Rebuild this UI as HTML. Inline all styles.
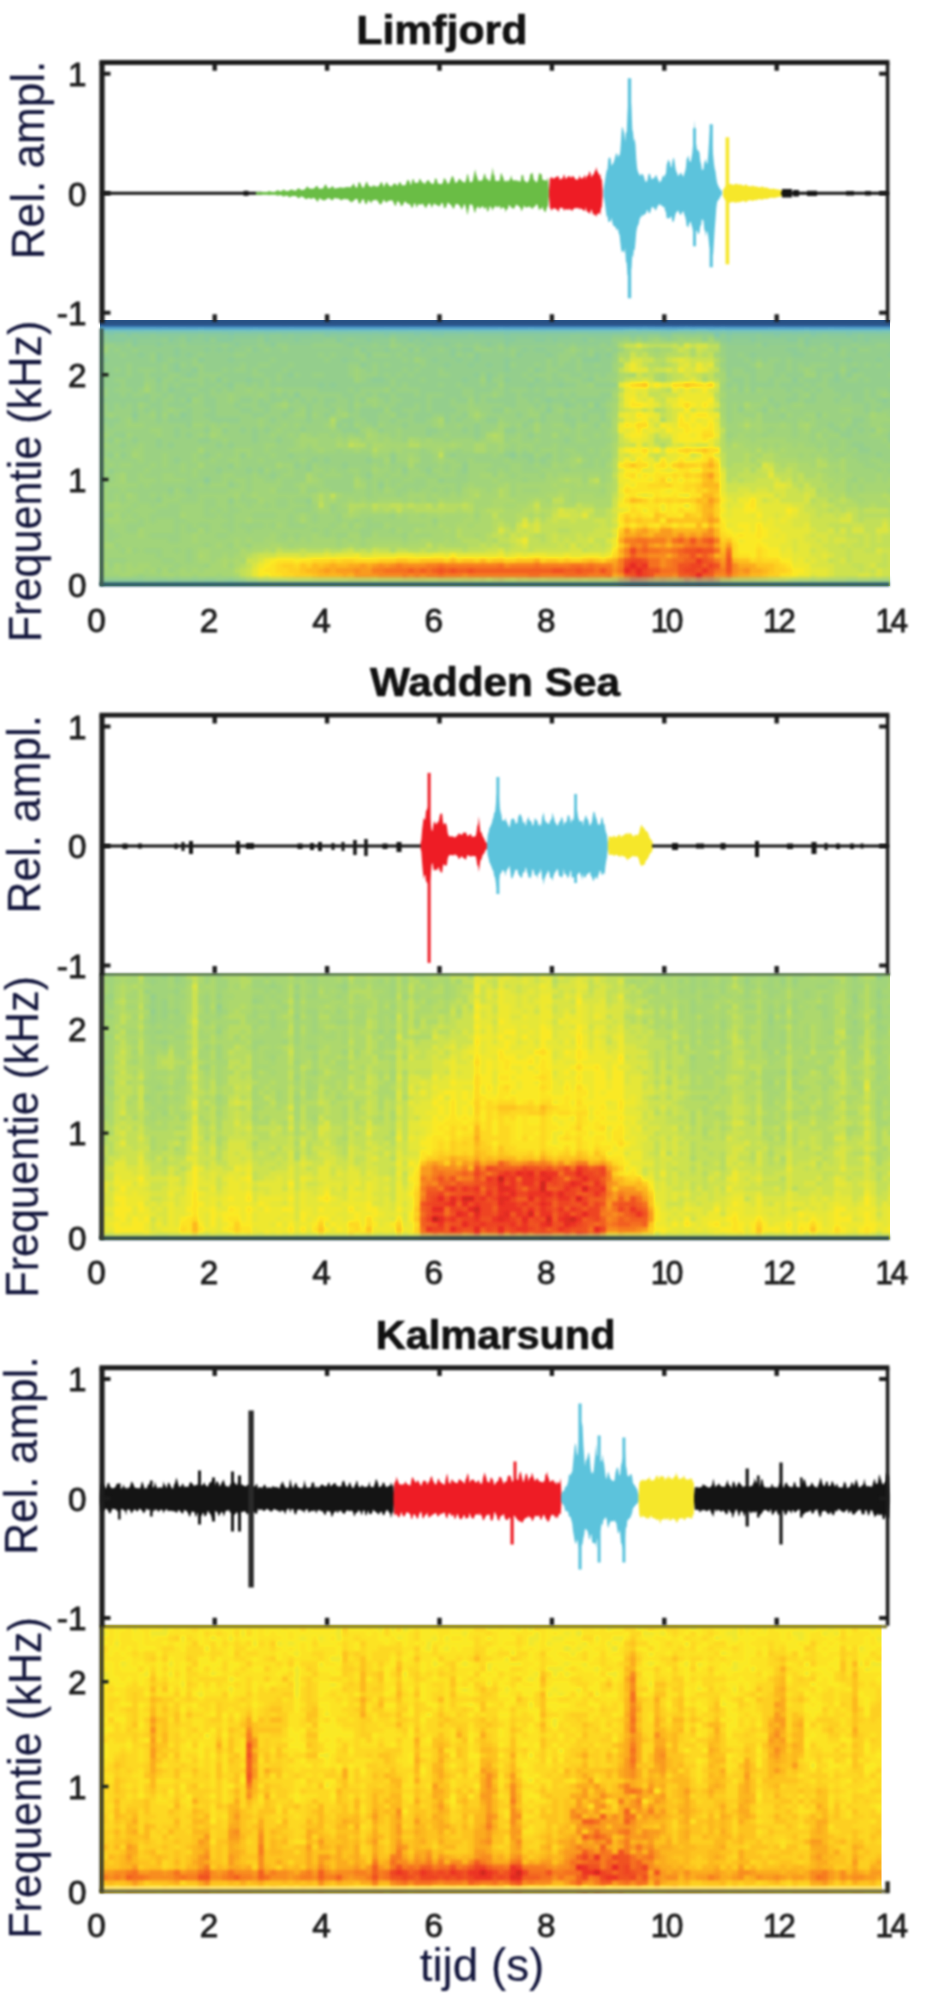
<!DOCTYPE html>
<html lang="nl"><head><meta charset="utf-8"><title>Limfjord, Wadden Sea, Kalmarsund</title>
<style>html,body{margin:0;padding:0;background:#fff}svg{display:block}text{font-family:'Liberation Sans',Arial,sans-serif}</style></head><body>
<svg width="930" height="2002" viewBox="0 0 930 2002">
<defs>
<filter id="soft" x="0" y="-10" width="930" height="720" filterUnits="userSpaceOnUse" color-interpolation-filters="sRGB"><feGaussianBlur stdDeviation="1.3"/></filter>
<filter id="softw" x="90" y="50" width="810" height="290" filterUnits="userSpaceOnUse" color-interpolation-filters="sRGB"><feGaussianBlur stdDeviation="1.25"/></filter>
<filter id="cm" x="90" y="312" width="810" height="280" filterUnits="userSpaceOnUse" color-interpolation-filters="sRGB"><feGaussianBlur stdDeviation="1.7 1.5"/><feComponentTransfer><feFuncR type="table" tableValues="0.141 0.155 0.169 0.182 0.196 0.229 0.263 0.296 0.329 0.371 0.413 0.454 0.494 0.533 0.569 0.598 0.627 0.655 0.682 0.733 0.784 0.839 0.894 0.941 0.988 0.992 0.996 0.994 0.992 0.985 0.978 0.972 0.965 0.954 0.943 0.932 0.922 0.853 0.784 0.716 0.647"/><feFuncG type="table" tableValues="0.275 0.306 0.337 0.369 0.4 0.457 0.514 0.571 0.627 0.672 0.716 0.76 0.779 0.792 0.805 0.818 0.831 0.841 0.851 0.867 0.882 0.894 0.906 0.912 0.918 0.875 0.831 0.78 0.729 0.663 0.596 0.529 0.463 0.394 0.325 0.257 0.188 0.167 0.145 0.124 0.102"/><feFuncB type="table" tableValues="0.471 0.508 0.545 0.582 0.62 0.661 0.702 0.743 0.784 0.772 0.76 0.748 0.693 0.627 0.571 0.529 0.486 0.455 0.424 0.376 0.329 0.278 0.227 0.184 0.141 0.137 0.133 0.125 0.118 0.12 0.122 0.124 0.125 0.129 0.133 0.137 0.141 0.127 0.114 0.1 0.086"/><feFuncA type="linear" slope="0" intercept="1"/></feComponentTransfer><feGaussianBlur stdDeviation="0.7"/></filter><clipPath id="cpA"><rect x="100" y="319.6" width="790" height="266"/></clipPath><clipPath id="cpB"><rect x="100" y="320.5" width="790" height="266"/></clipPath><clipPath id="cpC"><rect x="100" y="319.8" width="781.5" height="268"/></clipPath>
</defs>
<rect width="930" height="2002" fill="#fff"/>
<g transform="translate(0 0.3)">
<g clip-path="url(#cpA)"><g transform="translate(0 323) scale(1 1.0038) translate(0 -323)"><g filter="url(#cm)" fill="none" stroke-width="5.6"><rect x="90" y="312" width="810" height="280" fill="#626262"/><path stroke="#515151" d="M618 314.5h12M672 314.5h6M708 314.5h6M504 324.5h6M714 334.5h6"/><path stroke="#575757" d="M90 314.5h6M144 314.5h12M180 314.5h12M222 314.5h12M246 314.5h6M282 314.5h6M306 314.5h6M318 314.5h6M336 314.5h6M366 314.5h6M396 314.5h12M420 314.5h6M432 314.5h6M462 314.5h6M474 314.5h6M504 314.5h12M534 314.5h6M546 314.5h6M558 314.5h12M582 314.5h24M630 314.5h6M654 314.5h6M666 314.5h6M702 314.5h6M714 314.5h6M750 314.5h6M762 314.5h6M774 314.5h6M786 314.5h24M834 314.5h6M864 314.5h6M90 319.5h6M108 319.5h6M120 319.5h6M156 319.5h6M186 319.5h6M216 319.5h6M252 319.5h6M312 319.5h6M342 319.5h6M372 319.5h6M402 319.5h6M420 319.5h6M432 319.5h6M444 319.5h6M492 319.5h6M528 319.5h6M582 319.5h6M606 319.5h6M786 319.5h12M816 319.5h6M888 319.5h6M216 324.5h12M282 324.5h6M324 324.5h12M402 324.5h6M432 324.5h6M462 324.5h12M486 324.5h6M540 324.5h12M570 324.5h6M582 324.5h6M714 324.5h6M750 324.5h6M786 324.5h12M810 324.5h6M846 324.5h6M864 324.5h6M882 324.5h6M894 324.5h6M90 329.5h6M120 329.5h6M132 329.5h12M156 329.5h6M222 329.5h6M246 329.5h6M264 329.5h12M336 329.5h12M360 329.5h12M378 329.5h6M396 329.5h12M426 329.5h12M456 329.5h6M474 329.5h6M504 329.5h6M540 329.5h6M570 329.5h6M666 329.5h12M708 329.5h6M726 329.5h6M792 329.5h6M810 329.5h6M876 329.5h6M108 334.5h6M126 334.5h6M228 334.5h6M324 334.5h6M384 334.5h6M414 334.5h6M432 334.5h12M504 334.5h6M726 334.5h6M774 334.5h6M810 334.5h6M846 334.5h6M90 339.5h6M108 339.5h18M132 339.5h6M168 339.5h6M186 339.5h6M204 339.5h6M216 339.5h18M264 339.5h6M294 339.5h6M336 339.5h6M366 339.5h6M408 339.5h6M420 339.5h6M504 339.5h12M534 339.5h12M552 339.5h6M582 339.5h6M726 339.5h6M750 339.5h6M786 339.5h12M804 339.5h6M852 339.5h6M864 339.5h6M132 344.5h6M156 344.5h6M234 344.5h6M270 344.5h6M348 344.5h6M426 344.5h6M444 344.5h6M486 344.5h6M504 344.5h6M762 344.5h6M804 344.5h6M834 344.5h6M90 349.5h6M174 349.5h6M204 349.5h6M216 349.5h6M228 349.5h6M252 349.5h6M360 349.5h6M384 349.5h6M408 349.5h6M420 349.5h6M450 349.5h6M462 349.5h12M522 349.5h6M534 349.5h12M786 349.5h12M834 349.5h6M852 349.5h6M894 349.5h6M138 354.5h6M156 354.5h6M174 354.5h6M186 354.5h6M366 354.5h6M450 354.5h6M474 354.5h6M516 354.5h6M546 354.5h6M594 354.5h6M606 354.5h6M750 354.5h6M792 354.5h12M888 354.5h6M102 359.5h6M156 359.5h6M198 359.5h6M228 359.5h6M342 359.5h6M432 359.5h6M456 359.5h6M474 359.5h6M504 359.5h6M582 359.5h18M846 359.5h6M876 359.5h6M90 364.5h6M174 364.5h6M360 364.5h6M444 364.5h6M468 364.5h6M486 364.5h6M504 364.5h6M174 369.5h6M192 369.5h6M504 369.5h6M534 369.5h6M852 369.5h6M186 374.5h6M288 374.5h6M474 374.5h6M486 374.5h6M834 374.5h6M846 374.5h6M156 379.5h6M216 379.5h6M246 379.5h6M372 379.5h12M462 379.5h6M486 379.5h6M504 379.5h6M534 379.5h6M588 379.5h6M792 379.5h6M834 379.5h6M228 384.5h6M318 384.5h6M330 384.5h6M528 384.5h6M558 384.5h6M168 389.5h6M294 394.5h6M186 399.5h6M546 399.5h6M882 399.5h6M564 404.5h6M594 404.5h6M546 409.5h6M132 414.5h6M180 414.5h6M510 454.5h6M204 479.5h6"/><path stroke="#5c5c5c" d="M108 314.5h36M156 314.5h24M192 314.5h18M216 314.5h6M234 314.5h12M258 314.5h6M270 314.5h12M294 314.5h6M312 314.5h6M324 314.5h12M342 314.5h24M372 314.5h24M408 314.5h12M426 314.5h6M438 314.5h24M468 314.5h6M480 314.5h18M516 314.5h18M540 314.5h6M552 314.5h6M570 314.5h6M606 314.5h12M636 314.5h18M660 314.5h6M678 314.5h6M720 314.5h30M768 314.5h6M780 314.5h6M810 314.5h24M840 314.5h24M870 314.5h18M894 314.5h6M96 319.5h12M114 319.5h6M126 319.5h30M162 319.5h24M192 319.5h24M222 319.5h30M258 319.5h54M318 319.5h24M348 319.5h24M378 319.5h6M390 319.5h12M408 319.5h12M426 319.5h6M438 319.5h6M456 319.5h12M474 319.5h18M498 319.5h30M534 319.5h18M558 319.5h24M588 319.5h18M612 319.5h18M654 319.5h6M726 319.5h12M750 319.5h18M774 319.5h6M798 319.5h18M822 319.5h48M876 319.5h12M894 319.5h6M90 324.5h60M168 324.5h12M186 324.5h30M228 324.5h54M294 324.5h30M336 324.5h6M348 324.5h36M390 324.5h12M420 324.5h12M438 324.5h24M474 324.5h12M492 324.5h12M510 324.5h18M534 324.5h6M552 324.5h18M576 324.5h6M588 324.5h30M624 324.5h6M672 324.5h6M726 324.5h24M756 324.5h24M798 324.5h6M816 324.5h24M852 324.5h12M870 324.5h12M888 324.5h6M96 329.5h24M126 329.5h6M144 329.5h12M162 329.5h36M204 329.5h18M228 329.5h18M258 329.5h6M276 329.5h54M348 329.5h12M372 329.5h6M384 329.5h12M408 329.5h18M438 329.5h18M462 329.5h12M480 329.5h18M510 329.5h18M534 329.5h6M546 329.5h24M576 329.5h48M654 329.5h6M732 329.5h36M780 329.5h12M798 329.5h6M816 329.5h12M834 329.5h42M882 329.5h18M90 334.5h6M102 334.5h6M114 334.5h6M138 334.5h12M156 334.5h24M186 334.5h12M204 334.5h24M234 334.5h24M264 334.5h6M282 334.5h6M294 334.5h18M330 334.5h54M396 334.5h18M420 334.5h12M444 334.5h24M474 334.5h30M510 334.5h60M588 334.5h24M630 334.5h6M660 334.5h12M732 334.5h24M762 334.5h12M780 334.5h24M816 334.5h6M828 334.5h18M852 334.5h6M864 334.5h36M96 339.5h12M126 339.5h6M138 339.5h24M174 339.5h6M192 339.5h12M234 339.5h24M270 339.5h24M300 339.5h24M342 339.5h6M354 339.5h12M372 339.5h18M396 339.5h12M414 339.5h6M426 339.5h78M516 339.5h18M546 339.5h6M558 339.5h24M594 339.5h18M720 339.5h6M732 339.5h18M756 339.5h30M810 339.5h42M858 339.5h6M870 339.5h30M90 344.5h6M114 344.5h12M138 344.5h18M162 344.5h18M186 344.5h36M228 344.5h6M240 344.5h18M264 344.5h6M288 344.5h24M342 344.5h6M354 344.5h18M378 344.5h12M402 344.5h6M414 344.5h12M432 344.5h12M450 344.5h6M462 344.5h12M480 344.5h6M492 344.5h6M510 344.5h48M564 344.5h6M576 344.5h24M606 344.5h6M726 344.5h30M768 344.5h30M810 344.5h12M828 344.5h6M840 344.5h12M858 344.5h18M888 344.5h12M108 349.5h6M120 349.5h12M138 349.5h36M180 349.5h24M210 349.5h6M222 349.5h6M234 349.5h12M258 349.5h6M270 349.5h12M288 349.5h66M366 349.5h18M390 349.5h12M426 349.5h12M444 349.5h6M456 349.5h6M492 349.5h6M504 349.5h6M516 349.5h6M528 349.5h6M546 349.5h18M582 349.5h6M594 349.5h12M612 349.5h6M726 349.5h60M798 349.5h12M816 349.5h12M846 349.5h6M870 349.5h24M90 354.5h30M126 354.5h12M144 354.5h6M162 354.5h12M180 354.5h6M192 354.5h6M204 354.5h30M246 354.5h72M324 354.5h6M336 354.5h18M390 354.5h6M402 354.5h48M462 354.5h6M480 354.5h30M522 354.5h24M552 354.5h6M576 354.5h12M600 354.5h6M726 354.5h12M744 354.5h6M756 354.5h36M804 354.5h18M828 354.5h12M846 354.5h42M894 354.5h6M90 359.5h12M108 359.5h42M162 359.5h6M174 359.5h18M204 359.5h24M234 359.5h36M276 359.5h48M330 359.5h12M348 359.5h12M366 359.5h36M408 359.5h6M426 359.5h6M438 359.5h18M462 359.5h12M480 359.5h24M510 359.5h36M552 359.5h6M570 359.5h6M600 359.5h12M726 359.5h18M750 359.5h6M762 359.5h6M780 359.5h6M792 359.5h54M852 359.5h24M882 359.5h18M102 364.5h24M132 364.5h30M168 364.5h6M186 364.5h6M204 364.5h36M246 364.5h12M270 364.5h18M294 364.5h54M366 364.5h6M378 364.5h6M390 364.5h30M426 364.5h18M450 364.5h18M474 364.5h12M492 364.5h12M516 364.5h18M540 364.5h6M552 364.5h6M564 364.5h12M582 364.5h12M600 364.5h12M726 364.5h24M774 364.5h12M792 364.5h6M804 364.5h6M828 364.5h12M846 364.5h6M858 364.5h6M870 364.5h6M882 364.5h12M90 369.5h24M120 369.5h6M132 369.5h6M156 369.5h6M168 369.5h6M180 369.5h12M204 369.5h18M228 369.5h6M246 369.5h6M258 369.5h24M288 369.5h60M366 369.5h6M378 369.5h24M408 369.5h6M420 369.5h18M444 369.5h60M510 369.5h18M540 369.5h6M558 369.5h18M582 369.5h30M726 369.5h6M744 369.5h12M774 369.5h12M792 369.5h6M816 369.5h24M846 369.5h6M858 369.5h42M90 374.5h6M102 374.5h24M132 374.5h12M150 374.5h18M180 374.5h6M192 374.5h6M222 374.5h30M264 374.5h12M282 374.5h6M300 374.5h12M324 374.5h24M378 374.5h6M390 374.5h6M402 374.5h6M414 374.5h24M450 374.5h24M492 374.5h6M504 374.5h18M528 374.5h6M552 374.5h6M570 374.5h12M588 374.5h6M600 374.5h6M726 374.5h6M750 374.5h6M774 374.5h6M786 374.5h18M816 374.5h6M864 374.5h24M90 379.5h6M102 379.5h12M126 379.5h18M174 379.5h6M204 379.5h6M228 379.5h18M252 379.5h12M270 379.5h6M282 379.5h72M366 379.5h6M384 379.5h6M396 379.5h24M426 379.5h36M468 379.5h12M510 379.5h18M540 379.5h6M552 379.5h12M582 379.5h6M732 379.5h12M750 379.5h6M768 379.5h6M804 379.5h18M828 379.5h6M840 379.5h6M858 379.5h6M870 379.5h30M90 384.5h30M126 384.5h18M156 384.5h6M168 384.5h6M180 384.5h18M204 384.5h12M222 384.5h6M246 384.5h6M258 384.5h6M270 384.5h48M324 384.5h6M336 384.5h54M396 384.5h6M408 384.5h30M444 384.5h12M462 384.5h18M486 384.5h12M504 384.5h24M534 384.5h24M564 384.5h12M594 384.5h24M726 384.5h6M738 384.5h6M750 384.5h24M780 384.5h24M810 384.5h6M828 384.5h72M108 389.5h6M132 389.5h6M156 389.5h6M174 389.5h12M198 389.5h12M216 389.5h6M228 389.5h6M318 389.5h30M354 389.5h6M390 389.5h6M420 389.5h42M474 389.5h18M504 389.5h6M528 389.5h6M540 389.5h6M738 389.5h6M750 389.5h6M786 389.5h6M804 389.5h6M816 389.5h6M834 389.5h30M870 389.5h6M888 389.5h6M90 394.5h6M108 394.5h12M126 394.5h6M144 394.5h6M162 394.5h6M174 394.5h24M204 394.5h6M270 394.5h6M282 394.5h6M342 394.5h12M366 394.5h6M378 394.5h12M396 394.5h18M420 394.5h6M444 394.5h18M474 394.5h6M504 394.5h12M522 394.5h24M558 394.5h6M570 394.5h6M600 394.5h12M792 394.5h6M810 394.5h6M840 394.5h6M852 394.5h12M870 394.5h6M90 399.5h60M156 399.5h6M174 399.5h6M204 399.5h12M240 399.5h12M258 399.5h6M270 399.5h12M288 399.5h6M300 399.5h6M312 399.5h6M324 399.5h12M348 399.5h6M360 399.5h6M384 399.5h6M402 399.5h24M432 399.5h18M456 399.5h12M474 399.5h6M486 399.5h30M528 399.5h6M540 399.5h6M552 399.5h18M576 399.5h30M768 399.5h6M786 399.5h12M804 399.5h12M834 399.5h6M852 399.5h12M876 399.5h6M888 399.5h12M90 404.5h6M108 404.5h6M120 404.5h6M132 404.5h6M150 404.5h12M168 404.5h18M204 404.5h12M234 404.5h6M258 404.5h12M306 404.5h6M324 404.5h6M348 404.5h6M396 404.5h18M420 404.5h6M432 404.5h18M504 404.5h12M534 404.5h6M546 404.5h6M570 404.5h6M582 404.5h6M774 404.5h6M864 404.5h6M882 404.5h18M96 409.5h6M108 409.5h6M132 409.5h6M144 409.5h6M156 409.5h6M186 409.5h6M210 409.5h6M240 409.5h12M264 409.5h6M288 409.5h6M306 409.5h6M330 409.5h6M348 409.5h6M360 409.5h24M390 409.5h12M420 409.5h6M432 409.5h24M492 409.5h12M588 409.5h18M738 409.5h6M762 409.5h6M864 409.5h6M876 409.5h6M90 414.5h6M156 414.5h6M168 414.5h6M186 414.5h6M204 414.5h12M252 414.5h12M282 414.5h6M306 414.5h6M324 414.5h6M360 414.5h18M396 414.5h12M414 414.5h18M444 414.5h6M462 414.5h6M516 414.5h6M540 414.5h6M564 414.5h6M582 414.5h6M600 414.5h6M780 414.5h6M816 414.5h6M102 419.5h18M132 419.5h6M156 419.5h6M168 419.5h24M210 419.5h30M270 419.5h6M306 419.5h6M342 419.5h12M366 419.5h12M390 419.5h6M414 419.5h12M444 419.5h6M456 419.5h6M486 419.5h12M528 419.5h6M540 419.5h6M564 419.5h12M582 419.5h6M600 419.5h6M852 419.5h12M894 419.5h6M108 424.5h6M186 424.5h6M336 424.5h6M348 424.5h6M372 424.5h6M402 424.5h6M474 424.5h6M522 424.5h6M570 424.5h6M594 424.5h6M828 424.5h6M852 424.5h6M894 424.5h6M90 429.5h12M174 429.5h6M204 429.5h6M222 429.5h6M240 429.5h6M252 429.5h6M264 429.5h6M300 429.5h6M342 429.5h18M378 429.5h6M426 429.5h12M462 429.5h6M474 429.5h6M504 429.5h12M834 429.5h6M846 429.5h6M858 429.5h6M870 429.5h6M90 434.5h6M114 434.5h12M174 434.5h6M186 434.5h6M252 434.5h6M426 434.5h6M474 434.5h6M528 434.5h6M840 434.5h12M888 434.5h6M90 439.5h6M108 439.5h6M132 439.5h6M156 439.5h6M198 439.5h12M252 439.5h6M276 439.5h6M564 439.5h6M888 439.5h6M90 444.5h6M120 444.5h6M156 444.5h6M168 444.5h6M216 444.5h6M228 444.5h6M852 444.5h12M858 449.5h12M108 454.5h6M120 454.5h6M204 454.5h6M240 454.5h6M288 454.5h6M390 454.5h6M450 454.5h6M504 454.5h6M522 454.5h12M546 454.5h6M876 454.5h6M174 459.5h6M312 459.5h6M324 459.5h6M366 459.5h6M390 459.5h6M528 459.5h6M540 459.5h6M228 464.5h6M294 464.5h6M306 464.5h6M342 464.5h6M462 464.5h6M108 469.5h6M216 469.5h6M246 469.5h6M258 469.5h6M306 469.5h6M402 469.5h6M426 469.5h6M462 469.5h6M270 474.5h6M366 474.5h6M438 479.5h6M228 484.5h6M378 484.5h6M168 489.5h6M186 489.5h6M90 499.5h6M156 499.5h6M228 499.5h6M306 499.5h6"/><path stroke="#676767" d="M630 319.5h12M648 319.5h6M660 319.5h6M684 319.5h6M714 319.5h6M630 324.5h12M678 324.5h6M696 324.5h6M708 324.5h6M720 324.5h6M624 329.5h6M642 329.5h6M678 329.5h6M648 334.5h12M684 334.5h12M702 334.5h6M390 339.5h6M612 339.5h12M660 339.5h6M672 339.5h6M390 344.5h6M102 349.5h6M570 349.5h6M654 349.5h6M714 354.5h6M414 359.5h6M720 359.5h6M612 364.5h6M354 369.5h6M612 369.5h6M720 369.5h6M804 369.5h6M840 369.5h6M354 374.5h6M804 374.5h12M354 379.5h6M480 379.5h6M612 379.5h6M144 384.5h6M498 384.5h6M588 384.5h6M720 384.5h6M246 389.5h6M276 389.5h6M384 389.5h6M612 389.5h6M720 389.5h6M732 389.5h6M744 389.5h6M756 389.5h6M228 394.5h6M258 394.5h6M492 394.5h6M804 394.5h6M882 394.5h6M192 399.5h6M228 399.5h6M366 399.5h12M468 399.5h6M612 399.5h6M720 399.5h6M762 399.5h6M138 404.5h6M276 404.5h6M354 404.5h6M372 404.5h6M468 404.5h6M588 404.5h6M606 404.5h6M732 404.5h6M750 404.5h12M792 404.5h12M168 409.5h6M300 409.5h6M336 409.5h6M384 409.5h6M468 409.5h12M504 409.5h6M528 409.5h6M558 409.5h6M732 409.5h6M744 409.5h12M768 409.5h6M780 409.5h6M840 409.5h12M96 414.5h6M108 414.5h6M150 414.5h6M162 414.5h6M294 414.5h12M312 414.5h6M336 414.5h6M390 414.5h6M468 414.5h6M480 414.5h6M528 414.5h12M606 414.5h6M732 414.5h12M786 414.5h6M804 414.5h12M822 414.5h6M876 414.5h12M126 419.5h6M258 419.5h6M432 419.5h6M474 419.5h6M498 419.5h6M732 419.5h12M750 419.5h6M798 419.5h6M810 419.5h6M846 419.5h6M870 419.5h24M126 424.5h18M192 424.5h12M210 424.5h6M222 424.5h6M258 424.5h6M282 424.5h6M294 424.5h6M324 424.5h6M354 424.5h6M378 424.5h6M432 424.5h6M456 424.5h6M504 424.5h6M516 424.5h6M552 424.5h12M576 424.5h12M600 424.5h6M726 424.5h12M762 424.5h18M786 424.5h6M810 424.5h6M840 424.5h6M870 424.5h12M150 429.5h12M210 429.5h12M276 429.5h6M330 429.5h6M360 429.5h6M372 429.5h6M396 429.5h6M492 429.5h6M564 429.5h6M576 429.5h6M606 429.5h6M726 429.5h18M750 429.5h6M762 429.5h6M774 429.5h18M798 429.5h6M822 429.5h6M882 429.5h6M96 434.5h12M126 434.5h6M156 434.5h6M198 434.5h6M216 434.5h6M270 434.5h6M288 434.5h6M306 434.5h6M318 434.5h12M336 434.5h6M348 434.5h6M378 434.5h12M396 434.5h6M444 434.5h6M516 434.5h6M576 434.5h6M594 434.5h6M606 434.5h6M732 434.5h6M744 434.5h18M768 434.5h24M798 434.5h12M828 434.5h12M870 434.5h12M114 439.5h6M222 439.5h6M294 439.5h6M318 439.5h18M342 439.5h6M360 439.5h6M378 439.5h6M390 439.5h12M420 439.5h6M432 439.5h12M450 439.5h24M480 439.5h6M510 439.5h12M534 439.5h6M576 439.5h12M726 439.5h6M750 439.5h6M786 439.5h24M816 439.5h12M840 439.5h6M882 439.5h6M894 439.5h6M102 444.5h6M138 444.5h6M264 444.5h12M294 444.5h6M306 444.5h6M318 444.5h18M366 444.5h6M462 444.5h12M486 444.5h12M504 444.5h6M516 444.5h18M552 444.5h6M606 444.5h6M762 444.5h6M774 444.5h6M792 444.5h6M804 444.5h12M822 444.5h6M840 444.5h6M888 444.5h6M132 449.5h12M234 449.5h18M264 449.5h6M288 449.5h18M312 449.5h6M324 449.5h12M342 449.5h12M360 449.5h12M390 449.5h6M402 449.5h18M426 449.5h6M444 449.5h12M462 449.5h12M486 449.5h12M516 449.5h6M528 449.5h6M540 449.5h18M564 449.5h12M588 449.5h6M600 449.5h12M816 449.5h6M834 449.5h12M852 449.5h6M114 454.5h6M138 454.5h6M162 454.5h6M192 454.5h6M216 454.5h6M234 454.5h6M246 454.5h6M270 454.5h6M378 454.5h12M396 454.5h12M414 454.5h6M432 454.5h6M492 454.5h6M534 454.5h6M552 454.5h6M570 454.5h12M600 454.5h6M798 454.5h6M810 454.5h6M822 454.5h12M846 454.5h6M102 459.5h6M138 459.5h6M162 459.5h6M192 459.5h6M210 459.5h6M228 459.5h12M258 459.5h6M300 459.5h6M396 459.5h12M432 459.5h6M444 459.5h12M468 459.5h6M504 459.5h6M552 459.5h6M564 459.5h6M582 459.5h6M594 459.5h6M606 459.5h6M828 459.5h12M846 459.5h12M870 459.5h12M894 459.5h6M90 464.5h6M108 464.5h6M120 464.5h12M150 464.5h6M162 464.5h6M180 464.5h6M234 464.5h6M282 464.5h12M312 464.5h6M372 464.5h6M384 464.5h6M438 464.5h6M450 464.5h12M468 464.5h24M510 464.5h12M534 464.5h6M558 464.5h12M576 464.5h6M594 464.5h6M846 464.5h18M876 464.5h24M90 469.5h6M102 469.5h6M144 469.5h6M180 469.5h6M192 469.5h6M264 469.5h6M288 469.5h6M312 469.5h12M330 469.5h6M348 469.5h12M378 469.5h12M396 469.5h6M408 469.5h12M432 469.5h12M450 469.5h6M468 469.5h18M498 469.5h6M510 469.5h12M540 469.5h24M570 469.5h42M834 469.5h6M846 469.5h30M882 469.5h6M114 474.5h6M138 474.5h6M162 474.5h12M192 474.5h6M222 474.5h12M252 474.5h6M282 474.5h12M312 474.5h6M324 474.5h18M354 474.5h6M372 474.5h12M390 474.5h12M408 474.5h18M438 474.5h18M468 474.5h12M504 474.5h6M516 474.5h24M552 474.5h6M582 474.5h6M600 474.5h6M852 474.5h24M882 474.5h18M114 479.5h6M138 479.5h18M162 479.5h24M222 479.5h6M234 479.5h12M252 479.5h12M276 479.5h6M318 479.5h6M360 479.5h6M372 479.5h6M384 479.5h6M402 479.5h12M426 479.5h12M468 479.5h24M498 479.5h24M528 479.5h18M582 479.5h6M600 479.5h6M846 479.5h6M864 479.5h12M882 479.5h6M894 479.5h6M96 484.5h6M108 484.5h30M144 484.5h6M198 484.5h6M210 484.5h18M240 484.5h6M252 484.5h30M294 484.5h6M306 484.5h18M372 484.5h6M384 484.5h6M396 484.5h6M426 484.5h30M462 484.5h6M474 484.5h24M510 484.5h6M846 484.5h6M858 484.5h6M102 489.5h6M120 489.5h6M174 489.5h6M228 489.5h18M252 489.5h18M318 489.5h12M354 489.5h12M372 489.5h6M390 489.5h6M408 489.5h6M420 489.5h12M438 489.5h6M450 489.5h6M486 489.5h6M510 489.5h6M522 489.5h18M600 489.5h6M846 489.5h6M858 489.5h6M888 489.5h6M90 494.5h6M102 494.5h6M114 494.5h6M132 494.5h6M150 494.5h6M162 494.5h6M174 494.5h12M198 494.5h36M246 494.5h6M258 494.5h54M342 494.5h24M372 494.5h24M402 494.5h6M426 494.5h6M438 494.5h12M456 494.5h6M510 494.5h6M96 499.5h12M114 499.5h6M126 499.5h12M162 499.5h18M198 499.5h6M216 499.5h12M234 499.5h6M264 499.5h12M288 499.5h6M336 499.5h12M354 499.5h6M366 499.5h12M402 499.5h6M414 499.5h6M426 499.5h12M96 504.5h12M120 504.5h12M138 504.5h12M156 504.5h12M180 504.5h24M216 504.5h12M234 504.5h12M252 504.5h12M270 504.5h6M288 504.5h18M312 504.5h6M336 504.5h6M90 509.5h36M132 509.5h24M180 509.5h24M210 509.5h6M222 509.5h6M240 509.5h54M312 509.5h6M336 509.5h12M90 514.5h6M126 514.5h6M138 514.5h12M186 514.5h18M216 514.5h6M234 514.5h18M276 514.5h12M294 514.5h6M306 514.5h6M318 514.5h18M360 514.5h30M402 514.5h6M420 514.5h6M474 514.5h6M90 519.5h18M120 519.5h18M144 519.5h6M156 519.5h18M186 519.5h42M234 519.5h12M252 519.5h36M294 519.5h6M306 519.5h6M318 519.5h18M342 519.5h12M360 519.5h6M372 519.5h36M90 524.5h12M108 524.5h18M144 524.5h30M180 524.5h6M192 524.5h6M210 524.5h12M234 524.5h6M264 524.5h6M282 524.5h6M306 524.5h24M336 524.5h6M360 524.5h6M390 524.5h36M432 524.5h6M102 529.5h6M114 529.5h12M144 529.5h30M180 529.5h6M210 529.5h18M234 529.5h12M252 529.5h60M318 529.5h6M330 529.5h30M372 529.5h18M402 529.5h12M90 534.5h18M120 534.5h18M144 534.5h6M180 534.5h12M198 534.5h18M228 534.5h42M276 534.5h6M288 534.5h6M300 534.5h12M318 534.5h6M330 534.5h6M378 534.5h24M414 534.5h18M90 539.5h18M114 539.5h54M180 539.5h12M198 539.5h36M240 539.5h6M252 539.5h12M276 539.5h12M294 539.5h6M306 539.5h6M336 539.5h6M348 539.5h6M360 539.5h6M402 539.5h6M96 544.5h6M120 544.5h84M210 544.5h6M222 544.5h6M240 544.5h6M288 544.5h6M336 544.5h6M360 544.5h6M96 549.5h24M138 549.5h6M162 549.5h12M180 549.5h6M192 549.5h6M210 549.5h30M90 554.5h66M162 554.5h24M192 554.5h6M210 554.5h12M228 554.5h6M96 559.5h12M126 559.5h36M174 559.5h12M192 559.5h6M210 559.5h6M90 564.5h12M120 564.5h6M132 564.5h6M150 564.5h24M180 564.5h24M228 564.5h6M90 569.5h6M102 569.5h12M120 569.5h6M144 569.5h6M174 569.5h6M186 569.5h6M198 569.5h6M90 574.5h30M132 574.5h6M144 574.5h18M174 574.5h6M192 574.5h6M216 574.5h6M96 579.5h48M156 579.5h12M174 579.5h6M192 579.5h6M204 579.5h12M228 579.5h6M90 584.5h18M114 584.5h30M150 584.5h24M180 584.5h12M204 584.5h6M228 584.5h6M108 589.5h12M132 589.5h30M174 589.5h18M198 589.5h6"/><path stroke="#6d6d6d" d="M696 314.5h6M642 319.5h6M648 324.5h6M666 324.5h6M684 329.5h6M696 329.5h12M672 334.5h12M696 334.5h6M708 334.5h6M624 339.5h6M636 339.5h6M648 339.5h6M684 339.5h6M648 349.5h6M660 349.5h12M654 354.5h6M618 364.5h6M756 364.5h6M630 374.5h6M660 374.5h6M714 374.5h12M660 379.5h6M720 379.5h6M144 389.5h6M612 394.5h6M720 394.5h6M282 404.5h6M612 404.5h6M720 404.5h6M612 409.5h6M720 409.5h6M342 414.5h6M612 414.5h6M720 414.5h6M756 414.5h6M870 414.5h6M744 419.5h6M756 419.5h6M438 424.5h6M498 424.5h6M534 424.5h6M738 424.5h6M750 424.5h12M780 424.5h6M798 424.5h6M366 429.5h6M498 429.5h6M534 429.5h6M744 429.5h6M756 429.5h6M804 429.5h6M876 429.5h6M210 434.5h6M300 434.5h6M372 434.5h6M552 434.5h6M612 434.5h6M738 434.5h6M816 434.5h6M300 439.5h18M336 439.5h6M366 439.5h12M384 439.5h6M414 439.5h6M426 439.5h6M486 439.5h6M612 439.5h6M732 439.5h18M756 439.5h30M300 444.5h6M312 444.5h6M342 444.5h6M384 444.5h24M420 444.5h30M456 444.5h6M498 444.5h6M726 444.5h6M744 444.5h18M768 444.5h6M780 444.5h12M798 444.5h6M198 449.5h6M318 449.5h6M354 449.5h6M378 449.5h12M396 449.5h6M432 449.5h6M498 449.5h6M750 449.5h6M762 449.5h6M774 449.5h6M786 449.5h30M822 449.5h6M132 454.5h6M372 454.5h6M408 454.5h6M756 454.5h6M780 454.5h18M804 454.5h6M816 454.5h6M384 459.5h6M414 459.5h6M438 459.5h6M570 459.5h6M750 459.5h6M798 459.5h18M198 464.5h6M276 464.5h6M552 464.5h6M570 464.5h6M606 464.5h6M810 464.5h6M828 464.5h12M372 469.5h6M822 469.5h12M120 474.5h6M480 474.5h12M498 474.5h6M546 474.5h6M558 474.5h24M588 474.5h12M606 474.5h6M828 474.5h24M876 474.5h6M120 479.5h6M312 479.5h6M492 479.5h6M546 479.5h12M606 479.5h6M834 479.5h6M858 479.5h6M876 479.5h6M888 479.5h6M300 484.5h6M360 484.5h6M468 484.5h6M498 484.5h6M516 484.5h36M558 484.5h18M582 484.5h6M600 484.5h6M828 484.5h6M852 484.5h6M864 484.5h36M270 489.5h6M300 489.5h6M384 489.5h6M462 489.5h6M480 489.5h6M492 489.5h6M516 489.5h6M540 489.5h18M570 489.5h30M852 489.5h6M864 489.5h24M894 489.5h6M126 494.5h6M234 494.5h6M252 494.5h6M312 494.5h6M324 494.5h6M336 494.5h6M408 494.5h18M432 494.5h6M450 494.5h6M462 494.5h6M480 494.5h18M516 494.5h30M570 494.5h6M594 494.5h12M846 494.5h12M258 499.5h6M312 499.5h6M324 499.5h6M348 499.5h6M360 499.5h6M378 499.5h24M408 499.5h6M420 499.5h6M444 499.5h18M474 499.5h18M516 499.5h12M546 499.5h6M570 499.5h6M858 499.5h6M108 504.5h12M324 504.5h6M342 504.5h6M474 504.5h18M504 504.5h12M318 509.5h12M360 509.5h12M474 509.5h6M114 514.5h6M180 514.5h6M300 514.5h6M342 514.5h6M354 514.5h6M396 514.5h6M408 514.5h12M426 514.5h12M444 514.5h24M108 519.5h12M246 519.5h6M408 519.5h24M438 519.5h24M474 519.5h6M276 524.5h6M342 524.5h6M354 524.5h6M384 524.5h6M426 524.5h6M444 524.5h12M468 524.5h6M138 529.5h6M198 529.5h6M396 529.5h6M420 529.5h24M450 529.5h6M138 534.5h6M192 534.5h6M270 534.5h6M312 534.5h6M348 534.5h12M372 534.5h6M408 534.5h6M432 534.5h24M474 534.5h6M192 539.5h6M234 539.5h6M246 539.5h6M264 539.5h12M288 539.5h6M300 539.5h6M312 539.5h24M342 539.5h6M354 539.5h6M366 539.5h36M408 539.5h12M432 539.5h12M450 539.5h6M90 544.5h6M102 544.5h12M216 544.5h6M234 544.5h6M252 544.5h18M282 544.5h6M294 544.5h42M342 544.5h6M354 544.5h6M366 544.5h6M402 544.5h6M126 549.5h6M198 549.5h12M246 549.5h6M204 554.5h6M222 554.5h6M234 554.5h6M198 559.5h12M216 559.5h6M228 559.5h6M240 559.5h6M102 564.5h6M114 564.5h6M126 564.5h6M138 564.5h12M210 564.5h12M96 569.5h6M114 569.5h6M126 569.5h18M150 569.5h6M162 569.5h6M180 569.5h6M192 569.5h6M204 569.5h30M120 574.5h12M162 574.5h12M180 574.5h12M198 574.5h18M222 574.5h12M90 579.5h6M144 579.5h12M168 579.5h6M180 579.5h12M198 579.5h6M222 579.5h6M108 584.5h6M144 584.5h6M192 584.5h12M210 584.5h18M234 584.5h6M96 589.5h12M126 589.5h6M168 589.5h6M192 589.5h6M216 589.5h6M228 589.5h6"/><path stroke="#727272" d="M696 319.5h6M642 324.5h6M684 324.5h6M630 329.5h6M654 339.5h6M678 339.5h6M690 339.5h12M624 349.5h6M642 349.5h6M690 349.5h6M618 354.5h12M648 354.5h6M660 354.5h6M690 354.5h6M660 364.5h6M714 364.5h6M618 374.5h12M654 374.5h6M618 379.5h6M654 379.5h6M702 379.5h6M744 404.5h6M654 409.5h6M474 414.5h6M438 419.5h6M612 419.5h6M660 419.5h6M720 419.5h6M330 424.5h6M612 424.5h6M720 424.5h6M804 424.5h6M612 429.5h6M366 434.5h6M486 434.5h6M498 434.5h6M348 439.5h12M408 439.5h6M492 439.5h12M336 444.5h6M372 444.5h12M450 444.5h6M474 444.5h12M612 444.5h6M660 444.5h6M738 444.5h6M438 449.5h6M474 449.5h12M612 449.5h6M726 449.5h24M768 449.5h6M780 449.5h6M612 454.5h6M726 454.5h18M750 454.5h6M774 454.5h6M408 459.5h6M726 459.5h18M774 459.5h24M822 459.5h6M840 459.5h6M408 464.5h6M726 464.5h6M756 464.5h6M780 464.5h6M798 464.5h12M840 464.5h6M750 469.5h6M798 469.5h24M840 469.5h6M306 474.5h6M804 474.5h12M822 474.5h6M306 479.5h6M354 479.5h6M558 479.5h6M570 479.5h12M822 479.5h12M840 479.5h6M354 484.5h6M504 484.5h6M552 484.5h6M576 484.5h6M588 484.5h12M606 484.5h6M834 484.5h12M468 489.5h12M504 489.5h6M558 489.5h12M606 489.5h6M816 489.5h6M828 489.5h18M468 494.5h6M504 494.5h6M546 494.5h12M564 494.5h6M576 494.5h18M606 494.5h6M834 494.5h6M858 494.5h24M888 494.5h12M330 499.5h6M438 499.5h6M462 499.5h12M492 499.5h24M528 499.5h6M540 499.5h6M564 499.5h6M576 499.5h36M828 499.5h6M852 499.5h6M864 499.5h24M894 499.5h6M366 504.5h6M432 504.5h6M492 504.5h12M516 504.5h12M540 504.5h12M564 504.5h12M594 504.5h18M858 504.5h12M876 504.5h18M354 509.5h6M378 509.5h6M390 509.5h6M402 509.5h12M456 509.5h6M480 509.5h6M504 509.5h18M348 514.5h6M438 514.5h6M468 514.5h6M480 514.5h12M498 514.5h18M528 514.5h6M540 514.5h6M300 519.5h6M462 519.5h12M480 519.5h12M504 519.5h12M438 524.5h6M456 524.5h12M474 524.5h18M510 524.5h6M414 529.5h6M444 529.5h6M462 529.5h30M462 534.5h12M480 534.5h6M420 539.5h12M444 539.5h6M456 539.5h6M480 539.5h6M492 539.5h6M270 544.5h12M348 544.5h6M372 544.5h30M408 544.5h18M432 544.5h6M444 544.5h24M240 549.5h6M252 549.5h12M270 549.5h6M390 549.5h6M198 554.5h6M240 554.5h6M222 559.5h6M234 559.5h6M222 564.5h6M234 564.5h6M234 574.5h6M216 579.5h6M234 579.5h6M240 584.5h6M120 589.5h6M162 589.5h6M210 589.5h6M222 589.5h6M234 589.5h12"/><path stroke="#777777" d="M708 339.5h6M618 344.5h6M678 344.5h6M630 349.5h12M672 349.5h6M708 349.5h12M636 354.5h6M666 354.5h18M702 354.5h6M624 359.5h6M654 359.5h12M714 359.5h6M648 364.5h12M666 364.5h6M642 374.5h6M666 374.5h6M702 374.5h6M666 379.5h6M714 379.5h6M618 389.5h6M666 389.5h6M714 394.5h6M660 409.5h6M714 409.5h6M330 419.5h6M744 424.5h6M492 434.5h6M720 434.5h6M654 439.5h6M720 439.5h6M354 444.5h12M408 444.5h12M720 444.5h6M732 444.5h6M372 449.5h6M720 449.5h6M756 449.5h6M744 454.5h6M762 454.5h12M576 459.5h6M612 459.5h6M744 459.5h6M756 459.5h18M816 459.5h6M612 464.5h6M732 464.5h24M774 464.5h6M786 464.5h12M816 464.5h12M612 469.5h6M726 469.5h18M774 469.5h12M792 469.5h6M726 474.5h12M792 474.5h6M816 474.5h6M564 479.5h6M588 479.5h6M612 479.5h6M726 479.5h6M738 479.5h6M792 479.5h6M804 479.5h18M612 484.5h6M798 484.5h6M810 484.5h18M498 489.5h6M612 489.5h6M822 489.5h6M318 494.5h6M474 494.5h6M498 494.5h6M558 494.5h6M816 494.5h18M840 494.5h6M882 494.5h6M318 499.5h6M534 499.5h6M810 499.5h6M834 499.5h6M846 499.5h6M888 499.5h6M348 504.5h18M378 504.5h12M402 504.5h6M414 504.5h12M444 504.5h18M468 504.5h6M528 504.5h6M552 504.5h12M582 504.5h12M834 504.5h24M870 504.5h6M894 504.5h6M348 509.5h6M372 509.5h6M384 509.5h6M414 509.5h42M462 509.5h12M486 509.5h18M522 509.5h12M540 509.5h12M594 509.5h12M828 509.5h6M840 509.5h6M858 509.5h6M888 509.5h12M516 514.5h12M534 514.5h6M546 514.5h6M594 514.5h12M858 514.5h42M492 519.5h12M516 519.5h6M528 519.5h6M540 519.5h6M858 519.5h6M492 524.5h6M504 524.5h6M894 524.5h6M456 529.5h6M492 529.5h6M510 529.5h6M558 529.5h12M456 534.5h6M486 534.5h6M504 534.5h6M534 534.5h12M462 539.5h18M486 539.5h6M540 539.5h6M438 544.5h6M468 544.5h12M486 544.5h6M498 544.5h12M264 549.5h6M282 549.5h18M306 549.5h18M330 549.5h12M354 549.5h6M366 549.5h6M408 549.5h12M426 549.5h12M462 549.5h6M246 554.5h6M240 564.5h6M234 569.5h6M240 579.5h6M246 584.5h6M246 589.5h6"/><path stroke="#7d7d7d" d="M648 344.5h24M708 344.5h12M684 349.5h6M702 349.5h6M642 354.5h6M684 354.5h6M696 354.5h6M708 354.5h6M618 359.5h6M642 364.5h6M672 364.5h6M618 369.5h6M648 369.5h6M714 369.5h6M648 374.5h6M672 374.5h12M696 374.5h6M708 374.5h6M624 379.5h6M672 379.5h6M708 379.5h6M660 389.5h6M648 394.5h12M618 399.5h6M660 399.5h6M714 399.5h6M618 409.5h6M642 409.5h6M660 414.5h6M618 419.5h6M720 429.5h6M654 434.5h6M660 439.5h12M348 444.5h6M618 444.5h6M630 444.5h6M642 444.5h6M654 444.5h6M666 444.5h6M438 454.5h6M654 454.5h6M720 454.5h6M720 459.5h6M720 464.5h6M744 469.5h6M756 469.5h6M786 469.5h6M612 474.5h6M738 474.5h30M774 474.5h18M798 474.5h6M594 479.5h6M732 479.5h6M744 479.5h12M780 479.5h6M798 479.5h6M792 484.5h6M798 489.5h6M330 494.5h6M612 494.5h6M552 499.5h12M816 499.5h12M840 499.5h6M318 504.5h6M372 504.5h6M390 504.5h12M408 504.5h6M426 504.5h6M438 504.5h6M462 504.5h6M576 504.5h6M810 504.5h12M828 504.5h6M396 509.5h6M534 509.5h6M552 509.5h6M576 509.5h6M606 509.5h6M816 509.5h12M834 509.5h6M846 509.5h12M864 509.5h24M492 514.5h6M588 514.5h6M606 514.5h6M816 514.5h6M834 514.5h6M852 514.5h6M546 519.5h6M558 519.5h12M576 519.5h18M606 519.5h6M852 519.5h6M864 519.5h18M888 519.5h12M498 524.5h6M540 524.5h60M606 524.5h6M828 524.5h24M864 524.5h18M888 524.5h6M504 529.5h6M522 529.5h6M540 529.5h18M570 529.5h24M834 529.5h6M846 529.5h6M864 529.5h12M894 529.5h6M492 534.5h12M516 534.5h6M528 534.5h6M546 534.5h6M558 534.5h18M582 534.5h6M606 534.5h6M846 534.5h18M870 534.5h6M882 534.5h12M498 539.5h12M528 539.5h12M546 539.5h6M558 539.5h6M570 539.5h6M594 539.5h12M858 539.5h6M870 539.5h6M882 539.5h12M426 544.5h6M480 544.5h6M492 544.5h6M510 544.5h6M528 544.5h30M564 544.5h6M576 544.5h6M588 544.5h6M600 544.5h6M840 544.5h6M852 544.5h12M870 544.5h24M276 549.5h6M300 549.5h6M324 549.5h6M342 549.5h6M360 549.5h6M378 549.5h12M396 549.5h12M420 549.5h6M438 549.5h24M468 549.5h18M504 549.5h6M528 549.5h6M582 549.5h6M846 549.5h6M864 549.5h12M894 549.5h6M252 554.5h6M846 554.5h6M882 554.5h6M828 559.5h6M846 559.5h6M882 559.5h6M246 564.5h6M852 564.5h12M876 564.5h12M240 569.5h6M858 569.5h6M870 569.5h6M240 574.5h6M894 579.5h6M252 584.5h6M888 584.5h6M474 589.5h6M594 589.5h6"/><path stroke="#828282" d="M624 344.5h12M642 344.5h6M672 344.5h6M690 344.5h6M678 349.5h6M696 349.5h6M630 354.5h6M642 359.5h12M666 359.5h6M690 359.5h24M690 364.5h6M654 369.5h12M672 369.5h6M708 369.5h6M636 374.5h6M690 374.5h6M630 379.5h12M648 379.5h6M678 379.5h12M696 379.5h6M648 389.5h12M714 389.5h6M618 394.5h6M660 394.5h18M654 399.5h6M618 404.5h6M660 404.5h6M624 409.5h6M666 409.5h6M690 409.5h6M666 414.5h6M666 419.5h6M654 424.5h6M618 434.5h6M618 439.5h6M624 444.5h6M678 444.5h6M696 444.5h12M714 444.5h6M624 454.5h6M648 454.5h6M660 454.5h6M690 454.5h6M654 459.5h6M768 464.5h6M762 469.5h6M756 479.5h18M786 479.5h6M726 484.5h48M804 484.5h6M726 489.5h12M750 489.5h6M768 489.5h6M786 489.5h12M804 489.5h12M774 494.5h6M786 494.5h18M810 494.5h6M612 499.5h6M762 499.5h6M780 499.5h24M534 504.5h6M612 504.5h6M804 504.5h6M822 504.5h6M564 509.5h12M582 509.5h12M804 509.5h12M552 514.5h6M570 514.5h12M612 514.5h6M810 514.5h6M822 514.5h12M840 514.5h6M534 519.5h6M552 519.5h6M570 519.5h6M594 519.5h12M810 519.5h30M882 519.5h6M516 524.5h6M528 524.5h6M600 524.5h6M612 524.5h6M810 524.5h18M852 524.5h12M516 529.5h6M528 529.5h6M594 529.5h18M816 529.5h12M888 529.5h6M510 534.5h6M522 534.5h6M552 534.5h6M576 534.5h6M588 534.5h18M810 534.5h6M828 534.5h18M864 534.5h6M876 534.5h6M894 534.5h6M510 539.5h6M552 539.5h6M564 539.5h6M576 539.5h12M816 539.5h6M828 539.5h6M846 539.5h12M864 539.5h6M876 539.5h6M894 539.5h6M516 544.5h6M558 544.5h6M582 544.5h6M594 544.5h6M606 544.5h6M822 544.5h18M846 544.5h6M864 544.5h6M348 549.5h6M372 549.5h6M486 549.5h12M510 549.5h18M534 549.5h36M588 549.5h18M810 549.5h6M828 549.5h18M852 549.5h12M882 549.5h12M258 554.5h18M300 554.5h6M834 554.5h12M852 554.5h30M888 554.5h12M246 559.5h12M834 559.5h6M852 559.5h30M888 559.5h12M834 564.5h18M864 564.5h6M888 564.5h12M246 569.5h6M834 569.5h24M864 569.5h6M882 569.5h18M246 574.5h6M834 574.5h24M870 574.5h6M882 574.5h18M246 579.5h12M846 579.5h12M870 579.5h24M258 584.5h12M798 584.5h6M828 584.5h12M846 584.5h24M876 584.5h12M894 584.5h6M252 589.5h18M282 589.5h6M306 589.5h6M330 589.5h6M354 589.5h12M450 589.5h6M498 589.5h18M528 589.5h6M546 589.5h18M588 589.5h6M600 589.5h6M792 589.5h6M816 589.5h6M828 589.5h6M858 589.5h12M882 589.5h6M894 589.5h6"/><path stroke="#888888" d="M696 344.5h12M630 359.5h12M672 359.5h6M684 359.5h6M624 364.5h6M636 364.5h6M678 364.5h6M702 364.5h6M624 369.5h6M666 369.5h6M684 369.5h12M684 374.5h6M642 379.5h6M714 384.5h6M678 389.5h6M690 389.5h6M708 389.5h6M636 394.5h6M642 399.5h6M666 404.5h6M714 404.5h6M630 409.5h12M648 409.5h6M672 409.5h12M708 409.5h6M672 414.5h6M648 419.5h6M672 419.5h6M714 419.5h6M660 429.5h6M648 434.5h6M660 434.5h12M624 439.5h6M648 439.5h6M714 439.5h6M648 444.5h6M672 444.5h6M690 444.5h6M660 449.5h6M618 454.5h6M696 454.5h6M714 454.5h6M618 459.5h6M630 459.5h6M762 464.5h6M618 469.5h6M642 469.5h6M720 469.5h6M768 469.5h6M774 479.5h6M786 484.5h6M738 489.5h12M756 489.5h12M774 489.5h12M726 494.5h18M780 494.5h6M804 494.5h6M732 499.5h6M768 499.5h6M804 499.5h6M726 504.5h6M792 504.5h12M558 509.5h6M612 509.5h6M798 509.5h6M558 514.5h12M774 514.5h6M798 514.5h12M846 514.5h6M522 519.5h6M612 519.5h6M792 519.5h18M840 519.5h12M534 524.5h6M792 524.5h12M882 524.5h6M498 529.5h6M534 529.5h6M810 529.5h6M828 529.5h6M840 529.5h6M852 529.5h12M876 529.5h12M612 534.5h6M804 534.5h6M816 534.5h12M516 539.5h6M588 539.5h6M606 539.5h6M792 539.5h6M804 539.5h12M822 539.5h6M834 539.5h12M522 544.5h6M570 544.5h6M792 544.5h6M810 544.5h12M894 544.5h6M498 549.5h6M570 549.5h12M606 549.5h6M792 549.5h6M816 549.5h12M876 549.5h6M276 554.5h24M306 554.5h18M330 554.5h6M360 554.5h12M504 554.5h6M810 554.5h12M828 554.5h6M258 559.5h6M804 559.5h6M816 559.5h12M840 559.5h6M252 564.5h6M810 564.5h24M870 564.5h6M828 569.5h6M876 569.5h6M810 574.5h6M828 574.5h6M858 574.5h12M876 574.5h6M810 579.5h6M822 579.5h24M858 579.5h12M276 584.5h12M294 584.5h6M330 584.5h6M432 584.5h6M456 584.5h6M474 584.5h6M504 584.5h12M528 584.5h24M558 584.5h12M582 584.5h12M792 584.5h6M810 584.5h18M840 584.5h6M870 584.5h6M270 589.5h12M288 589.5h6M300 589.5h6M324 589.5h6M342 589.5h12M366 589.5h84M456 589.5h12M480 589.5h18M516 589.5h12M534 589.5h12M564 589.5h24M606 589.5h6M804 589.5h12M834 589.5h24M870 589.5h12M888 589.5h6"/><path stroke="#8d8d8d" d="M636 344.5h6M684 344.5h6M678 359.5h6M684 364.5h6M708 364.5h6M636 369.5h12M702 369.5h6M690 379.5h6M618 384.5h6M624 389.5h6M636 389.5h12M696 389.5h6M642 394.5h6M678 394.5h6M708 394.5h6M636 399.5h6M666 399.5h12M654 404.5h6M696 409.5h12M618 414.5h6M630 414.5h6M654 414.5h6M684 414.5h6M624 419.5h12M654 419.5h6M696 419.5h6M648 424.5h6M672 424.5h6M714 424.5h6M624 429.5h6M642 429.5h6M654 429.5h6M714 429.5h6M642 439.5h6M684 444.5h6M618 449.5h6M630 454.5h6M666 454.5h12M666 459.5h6M648 469.5h6M666 469.5h6M720 474.5h6M768 474.5h6M666 479.5h6M720 479.5h6M618 484.5h6M720 484.5h6M774 484.5h12M720 489.5h6M618 494.5h6M642 494.5h6M684 494.5h6M744 494.5h30M726 499.5h6M756 499.5h6M774 499.5h6M684 504.5h6M732 504.5h12M756 504.5h36M618 509.5h6M726 509.5h6M762 509.5h24M582 514.5h6M726 514.5h6M750 514.5h6M762 514.5h12M780 514.5h6M792 514.5h6M762 519.5h6M774 519.5h6M786 519.5h6M522 524.5h6M726 524.5h6M774 524.5h18M804 524.5h6M612 529.5h6M780 529.5h30M774 534.5h6M786 534.5h18M786 539.5h6M798 539.5h6M780 544.5h12M798 544.5h12M780 549.5h6M798 549.5h12M324 554.5h6M336 554.5h18M372 554.5h24M414 554.5h18M444 554.5h6M456 554.5h42M510 554.5h6M522 554.5h6M546 554.5h18M570 554.5h12M600 554.5h6M792 554.5h18M822 554.5h6M792 559.5h6M810 559.5h6M252 569.5h6M810 569.5h18M252 574.5h6M816 574.5h12M258 579.5h12M792 579.5h18M816 579.5h6M270 584.5h6M288 584.5h6M300 584.5h30M342 584.5h60M408 584.5h24M444 584.5h12M462 584.5h6M480 584.5h24M516 584.5h12M552 584.5h6M570 584.5h12M594 584.5h18M774 584.5h18M804 584.5h6M294 589.5h6M312 589.5h12M336 589.5h6M468 589.5h6M780 589.5h12M798 589.5h6M822 589.5h6"/><path stroke="#929292" d="M630 364.5h6M696 364.5h6M630 369.5h6M678 369.5h6M696 369.5h6M648 384.5h6M660 384.5h12M630 389.5h6M672 389.5h6M684 389.5h6M624 394.5h12M684 394.5h24M624 399.5h6M648 399.5h6M684 399.5h24M624 404.5h6M648 404.5h6M672 404.5h6M696 404.5h6M708 404.5h6M624 414.5h6M648 414.5h6M708 414.5h12M636 419.5h6M684 419.5h6M702 419.5h6M618 424.5h6M666 424.5h6M690 424.5h6M702 424.5h6M618 429.5h6M630 429.5h6M648 429.5h6M672 429.5h12M624 434.5h6M642 434.5h6M672 434.5h6M690 434.5h6M714 434.5h6M630 439.5h12M672 439.5h6M708 439.5h6M636 444.5h6M708 444.5h6M648 449.5h6M636 454.5h6M678 454.5h6M642 459.5h12M672 459.5h6M684 459.5h12M648 464.5h6M630 469.5h6M660 469.5h6M672 469.5h6M690 469.5h12M618 474.5h6M636 474.5h6M618 479.5h12M648 479.5h6M678 479.5h6M630 484.5h6M618 489.5h6M666 489.5h6M636 494.5h6M648 494.5h6M678 494.5h6M720 494.5h6M618 499.5h6M738 499.5h12M660 504.5h6M720 504.5h6M624 509.5h6M642 509.5h6M660 509.5h6M732 509.5h12M756 509.5h6M792 509.5h6M720 514.5h6M732 514.5h18M786 514.5h6M726 519.5h36M768 519.5h6M780 519.5h6M732 524.5h6M750 524.5h6M762 524.5h12M732 529.5h12M750 529.5h6M768 529.5h12M768 534.5h6M780 534.5h6M522 539.5h6M612 539.5h6M738 539.5h6M762 539.5h24M612 544.5h6M768 544.5h12M786 549.5h6M354 554.5h6M396 554.5h18M432 554.5h12M498 554.5h6M516 554.5h6M528 554.5h18M564 554.5h6M582 554.5h18M606 554.5h6M780 554.5h12M264 559.5h6M798 559.5h6M258 564.5h6M792 564.5h18M804 569.5h6M264 574.5h6M798 574.5h12M270 579.5h18M786 579.5h6M336 584.5h6M402 584.5h6M438 584.5h6M468 584.5h6M744 584.5h6M768 584.5h6M612 589.5h6M738 589.5h6M750 589.5h6M762 589.5h18"/><path stroke="#989898" d="M624 384.5h6M702 389.5h6M630 399.5h6M678 399.5h6M708 399.5h6M642 404.5h6M678 404.5h6M690 404.5h6M684 409.5h6M642 414.5h6M678 414.5h6M690 414.5h6M642 419.5h6M690 419.5h6M708 419.5h6M630 424.5h6M660 424.5h6M696 424.5h6M666 429.5h6M690 429.5h12M630 434.5h12M678 434.5h12M696 434.5h6M678 439.5h24M624 449.5h6M636 449.5h6M672 449.5h6M642 454.5h6M684 454.5h6M624 459.5h6M696 459.5h6M666 464.5h6M624 469.5h6M654 469.5h6M648 474.5h6M630 479.5h18M690 479.5h6M624 484.5h6M660 489.5h6M672 489.5h6M624 494.5h6M660 494.5h12M720 499.5h6M618 504.5h12M636 504.5h6M672 504.5h12M744 504.5h6M672 509.5h6M720 509.5h6M744 509.5h12M786 509.5h6M648 514.5h6M678 514.5h6M756 514.5h6M660 519.5h6M720 519.5h6M618 524.5h6M630 524.5h6M654 524.5h6M672 524.5h6M738 524.5h12M726 529.5h6M744 529.5h6M762 529.5h6M732 534.5h6M744 534.5h12M762 534.5h6M744 539.5h18M738 544.5h18M762 544.5h6M738 549.5h18M768 549.5h12M450 554.5h6M750 554.5h6M768 554.5h12M270 559.5h6M294 559.5h6M780 559.5h12M264 564.5h6M258 569.5h6M792 569.5h12M258 574.5h6M792 574.5h6M288 579.5h24M774 579.5h6M612 584.5h6M738 584.5h6M750 584.5h18M726 589.5h12M744 589.5h6M756 589.5h6"/><path stroke="#9d9d9d" d="M654 384.5h6M702 384.5h6M630 404.5h12M702 404.5h6M636 414.5h6M696 414.5h12M678 419.5h6M624 424.5h6M678 424.5h12M708 424.5h6M636 429.5h6M684 429.5h6M702 429.5h12M702 439.5h6M630 449.5h6M654 449.5h6M666 449.5h6M702 454.5h12M636 459.5h6M660 459.5h6M678 459.5h6M702 459.5h6M714 459.5h6M618 464.5h6M654 464.5h6M636 469.5h6M678 469.5h12M624 474.5h6M642 474.5h6M654 474.5h18M678 474.5h6M654 479.5h6M672 479.5h6M684 479.5h6M696 479.5h6M636 484.5h12M672 484.5h12M630 489.5h30M678 489.5h6M690 489.5h6M630 494.5h6M654 494.5h6M672 494.5h6M690 494.5h12M648 499.5h6M750 499.5h6M630 504.5h6M642 504.5h18M666 504.5h6M690 504.5h6M750 504.5h6M636 509.5h6M648 509.5h6M666 509.5h6M684 509.5h12M618 514.5h6M630 514.5h6M642 514.5h6M666 514.5h12M618 519.5h6M648 524.5h6M684 524.5h12M702 524.5h6M720 524.5h6M756 524.5h6M720 529.5h6M756 529.5h6M726 534.5h6M738 534.5h6M756 534.5h6M732 539.5h6M756 544.5h6M612 549.5h6M762 549.5h6M738 554.5h12M762 554.5h6M276 559.5h18M300 559.5h12M270 564.5h6M786 564.5h6M264 569.5h12M270 574.5h12M780 574.5h12M312 579.5h36M372 579.5h6M486 579.5h6M510 579.5h6M768 579.5h6M780 579.5h6"/><path stroke="#a3a3a3" d="M630 384.5h6M672 384.5h12M696 384.5h6M684 404.5h6M636 424.5h12M702 434.5h12M642 449.5h6M678 449.5h6M690 449.5h6M708 449.5h12M624 464.5h6M636 464.5h12M660 464.5h6M696 464.5h6M714 469.5h6M630 474.5h6M672 474.5h6M690 474.5h6M714 479.5h6M648 484.5h18M684 484.5h12M624 489.5h6M684 489.5h6M702 489.5h6M624 499.5h6M660 499.5h6M672 499.5h6M630 509.5h6M654 509.5h6M678 509.5h6M636 514.5h6M696 514.5h6M624 524.5h6M636 524.5h6M666 524.5h6M678 524.5h6M714 524.5h6M720 534.5h6M732 544.5h6M732 549.5h6M756 549.5h6M612 554.5h6M732 554.5h6M756 554.5h6M312 559.5h18M336 559.5h6M354 559.5h24M750 559.5h6M762 559.5h18M276 564.5h6M294 564.5h6M780 564.5h6M276 569.5h12M786 569.5h6M282 574.5h12M348 579.5h24M378 579.5h24M426 579.5h12M456 579.5h6M474 579.5h6M504 579.5h6M522 579.5h6M540 579.5h6M570 579.5h6M582 579.5h6M600 579.5h12M756 579.5h12M726 584.5h12M720 589.5h6"/><path stroke="#a8a8a8" d="M636 384.5h6M690 384.5h6M708 384.5h6M684 449.5h6M696 449.5h6M672 464.5h6M684 464.5h12M714 464.5h6M702 469.5h12M684 474.5h6M696 474.5h6M714 474.5h6M660 479.5h6M666 484.5h6M696 484.5h6M696 489.5h6M714 494.5h6M642 499.5h6M654 499.5h6M666 499.5h6M678 499.5h18M696 504.5h6M714 504.5h6M696 509.5h6M714 509.5h6M624 514.5h6M660 514.5h6M690 514.5h6M714 514.5h6M630 519.5h6M642 519.5h12M642 524.5h6M660 524.5h6M618 529.5h6M720 539.5h6M618 544.5h6M330 559.5h6M342 559.5h12M378 559.5h18M408 559.5h12M444 559.5h6M456 559.5h6M474 559.5h6M486 559.5h6M504 559.5h12M540 559.5h6M558 559.5h6M570 559.5h12M600 559.5h6M756 559.5h6M282 564.5h12M306 564.5h6M774 564.5h6M288 569.5h12M774 569.5h12M294 574.5h18M768 574.5h12M402 579.5h24M438 579.5h18M462 579.5h12M480 579.5h6M492 579.5h6M516 579.5h6M528 579.5h12M546 579.5h24M576 579.5h6M588 579.5h12M732 579.5h24M720 584.5h6M618 589.5h6M714 589.5h6"/><path stroke="#aeaeae" d="M642 384.5h6M684 384.5h6M702 449.5h6M708 459.5h6M630 464.5h6M678 464.5h6M702 464.5h6M702 479.5h6M708 489.5h12M636 499.5h6M702 499.5h6M654 514.5h6M684 514.5h6M624 519.5h6M636 519.5h6M654 519.5h6M672 519.5h30M630 529.5h6M654 529.5h6M618 534.5h6M726 539.5h6M720 544.5h6M396 559.5h12M420 559.5h24M462 559.5h12M492 559.5h12M516 559.5h18M546 559.5h12M564 559.5h6M582 559.5h6M594 559.5h6M738 559.5h12M300 564.5h6M318 564.5h6M756 564.5h18M300 569.5h6M768 569.5h6M312 574.5h6M762 574.5h6M498 579.5h6M612 579.5h6"/><path stroke="#b3b3b3" d="M702 474.5h6M708 479.5h6M702 484.5h18M702 494.5h12M630 499.5h6M696 499.5h6M714 499.5h6M702 504.5h6M702 509.5h12M702 514.5h6M666 519.5h6M702 519.5h6M696 524.5h6M708 524.5h6M648 529.5h6M672 529.5h30M714 529.5h6M648 534.5h6M714 534.5h6M666 544.5h6M720 549.5h6M618 554.5h6M714 554.5h6M450 559.5h6M480 559.5h6M588 559.5h6M606 559.5h6M732 559.5h6M312 564.5h6M324 564.5h6M336 564.5h12M306 569.5h12M762 569.5h6M318 574.5h24M348 574.5h6M750 574.5h12M720 579.5h12M618 584.5h6M678 589.5h6"/><path stroke="#b8b8b8" d="M708 464.5h6M708 504.5h6M708 514.5h6M714 519.5h6M636 529.5h6M702 529.5h6M624 534.5h12M642 534.5h6M672 534.5h6M684 534.5h6M696 534.5h6M618 539.5h6M624 544.5h6M654 544.5h6M714 544.5h6M618 549.5h6M666 554.5h6M720 554.5h6M534 559.5h6M612 559.5h6M330 564.5h6M348 564.5h12M366 564.5h6M738 564.5h18M318 569.5h6M330 569.5h6M750 569.5h12M342 574.5h6M612 574.5h6M738 574.5h12M666 584.5h6M708 584.5h12M690 589.5h6"/><path stroke="#bebebe" d="M708 474.5h6M708 499.5h6M708 519.5h6M624 529.5h6M642 529.5h6M660 529.5h12M636 534.5h6M654 534.5h18M690 534.5h6M666 539.5h6M648 544.5h6M660 544.5h6M672 544.5h12M726 544.5h6M720 559.5h6M360 564.5h6M372 564.5h6M384 564.5h6M612 564.5h6M324 569.5h6M336 569.5h18M360 569.5h12M738 569.5h6M354 574.5h24M618 574.5h6M732 574.5h6M672 579.5h6M660 584.5h6M678 584.5h6M690 584.5h6M624 589.5h6M636 589.5h18M666 589.5h6M708 589.5h6"/><path stroke="#c3c3c3" d="M708 529.5h6M678 534.5h6M702 534.5h12M636 544.5h6M624 554.5h6M648 554.5h18M672 554.5h6M660 559.5h6M378 564.5h6M390 564.5h6M402 564.5h24M504 564.5h6M660 564.5h6M720 564.5h6M732 564.5h6M354 569.5h6M612 569.5h6M732 569.5h6M744 569.5h6M378 574.5h24M408 574.5h6M420 574.5h6M462 574.5h6M672 574.5h6M714 574.5h12M618 579.5h6M654 579.5h6M666 579.5h6M678 579.5h6M648 584.5h12M672 584.5h6M684 584.5h6M702 584.5h6M654 589.5h12M672 589.5h6M684 589.5h6M696 589.5h6"/><path stroke="#c9c9c9" d="M624 539.5h12M648 539.5h18M684 539.5h6M696 539.5h6M714 539.5h6M630 544.5h6M684 544.5h6M696 544.5h12M624 549.5h6M660 549.5h12M636 554.5h12M696 554.5h6M708 554.5h6M618 559.5h6M666 559.5h6M714 559.5h6M396 564.5h6M426 564.5h12M444 564.5h54M510 564.5h24M540 564.5h30M582 564.5h6M594 564.5h18M618 564.5h6M666 564.5h6M372 569.5h12M720 569.5h6M402 574.5h6M414 574.5h6M426 574.5h12M444 574.5h18M468 574.5h60M540 574.5h24M588 574.5h18M654 574.5h18M624 579.5h6M648 579.5h6M660 579.5h6M690 579.5h6M714 579.5h6M624 584.5h18M696 584.5h6M630 589.5h6"/><path stroke="#cecece" d="M636 539.5h12M672 539.5h6M642 544.5h6M690 544.5h6M708 544.5h6M636 549.5h6M648 549.5h12M672 549.5h6M714 549.5h6M726 549.5h6M678 554.5h12M648 559.5h12M672 559.5h12M438 564.5h6M498 564.5h6M534 564.5h6M570 564.5h12M588 564.5h6M648 564.5h12M672 564.5h6M384 569.5h24M414 569.5h6M426 569.5h6M594 569.5h6M606 569.5h6M618 569.5h6M660 569.5h18M714 569.5h6M438 574.5h6M528 574.5h12M564 574.5h24M606 574.5h6M726 574.5h6M702 579.5h6M702 589.5h6"/><path stroke="#d4d4d4" d="M678 539.5h6M702 539.5h6M642 549.5h6M678 549.5h6M630 554.5h6M702 554.5h6M726 554.5h6M684 559.5h12M708 559.5h6M702 564.5h6M408 569.5h6M420 569.5h6M432 569.5h6M444 569.5h6M456 569.5h12M474 569.5h78M564 569.5h12M582 569.5h12M624 574.5h6M678 574.5h12M702 574.5h12M642 579.5h6M684 579.5h6M696 579.5h6M708 579.5h6M642 584.5h6"/><path stroke="#d9d9d9" d="M690 539.5h6M708 539.5h6M684 549.5h12M702 549.5h12M690 554.5h6M624 559.5h6M642 559.5h6M702 559.5h6M726 559.5h6M678 564.5h12M714 564.5h6M726 564.5h6M438 569.5h6M450 569.5h6M468 569.5h6M552 569.5h12M576 569.5h6M600 569.5h6M648 569.5h12M678 569.5h6M696 569.5h6M708 569.5h6M726 569.5h6M630 574.5h6M648 574.5h6M690 574.5h6M636 579.5h6"/><path stroke="#dedede" d="M630 549.5h6M696 549.5h6M630 559.5h12M624 564.5h6M636 564.5h6M690 564.5h12M708 564.5h6M630 569.5h6M642 569.5h6M684 569.5h12M642 574.5h6M630 579.5h6"/><path stroke="#e4e4e4" d="M696 559.5h6M642 564.5h6M702 569.5h6M636 574.5h6"/><path stroke="#e9e9e9" d="M630 564.5h6M624 569.5h6M636 569.5h6M696 574.5h6"/><rect x="90" y="312" width="810" height="14" fill="#090909"/><rect x="90" y="326" width="810" height="3.5" fill="#303030"/><rect x="90" y="329.5" width="810" height="4.5" fill="#4a4a4a" fill-opacity="0.75"/><rect x="90" y="334" width="810" height="4" fill="#4f4f4f" fill-opacity="0.45"/><rect x="90" y="338" width="810" height="6" fill="#4f4f4f" fill-opacity="0.25"/></g></g></g><g filter="url(#soft)"><path d="M100 578.4H890" stroke="#86c8a8" stroke-width="4" stroke-opacity="0.4" fill="none"/><path d="M100 581.2H890" stroke="#6fb6b0" stroke-width="2.6" stroke-opacity="0.6" fill="none"/><path d="M99.6 584.2H889.6" stroke="#2a5a6c" stroke-width="3.8" fill="none"/></g>
<g filter="url(#softw)">
<path d="M102 193H262" stroke="#141414" stroke-width="3" fill="none"/><path d="M243.5 190.5v5h5v-5z" fill="#141414"/><path d="M256 191.6L256.8 191.6L257.6 191.6L258.4 191.6L259.2 191.6L260 191.6L260.8 191.6L261.6 191.6L262.4 191.6L263.2 191.6L264 191.5L264.8 191.6L265.6 191.6L266.4 191.6L267.2 191.6L268 191.3L268.8 190.8L269.6 191L270.4 190.9L271.2 191.4L272 191.6L272.8 191.4L273.6 191.6L274.4 191.6L275.2 191.5L276 190.7L276.8 190.5L277.6 189.7L278.4 190.1L279.2 190.6L280 190.9L280.8 191.3L281.6 190.7L282.4 190.3L283.2 189.5L284 189.2L284.8 190.1L285.6 190.4L286.4 190.6L287.2 191L288 190.7L288.8 190.7L289.6 189.7L290.4 189.6L291.2 189.1L292 189.2L292.8 189.7L293.6 190.3L294.4 190.3L295.2 190.4L296 190.4L296.8 189.3L297.6 188.6L298.4 188L299.2 188.1L300 188.6L300.8 189.6L301.6 190L302.4 189.4L303.2 189.6L304 189.6L304.8 188.8L305.6 188.3L306.4 187.3L307.2 185.8L308 186.9L308.8 187.6L309.6 188.3L310.4 188.4L311.2 188.5L312 188.2L312.8 188.6L313.6 188.2L314.4 187.9L315.2 186.9L316 186L316.8 185.7L317.6 186L318.4 187.5L319.2 188.7L320 188.5L320.8 188.1L321.6 188.1L322.4 188.5L323.2 187.9L324 186.2L324.8 185L325.6 184L326.4 185.1L327.2 186.6L328 188.1L328.8 187.9L329.6 188L330.4 187.6L331.2 186.9L332 186L332.8 186L333.6 186.9L334.4 188.5L335.2 188L336 188.1L336.8 187.8L337.6 187.8L338.4 187.7L339.2 187.2L340 187.1L340.8 186.7L341.6 187.4L342.4 187.8L343.2 187.3L344 187.3L344.8 187.7L345.6 186.8L346.4 186.8L347.2 186.8L348 186.8L348.8 187L349.6 186.5L350.4 187.8L351.2 186.2L352 185.3L352.8 184.6L353.6 182.7L354.4 184.6L355.2 186.4L356 187.3L356.8 187.4L357.6 186.4L358.4 182.8L359.2 181.7L360 182.4L360.8 183.9L361.6 186L362.4 187.1L363.2 187.1L364 187.5L364.8 184.7L365.6 183.6L366.4 181.1L367.2 181.9L368 184.3L368.8 185.5L369.6 186L370.4 186.8L371.2 185.9L372 186.7L372.8 185.6L373.6 184.4L374.4 186.1L375.2 185.2L376 186.3L376.8 186.6L377.6 185.8L378.4 186.5L379.2 184.6L380 183.9L380.8 182L381.6 181.7L382.4 183.2L383.2 185.3L384 187.1L384.8 184.3L385.6 184L386.4 181.4L387.2 182.6L388 183.8L388.8 184.9L389.6 186L390.4 185.1L391.2 186.6L392 185.7L392.8 184.5L393.6 183.6L394.4 182.9L395.2 183.5L396 183.7L396.8 185.2L397.6 185.5L398.4 183.9L399.2 181.8L400 182.6L400.8 181.9L401.6 184.6L402.4 185.1L403.2 184.8L404 185.1L404.8 185L405.6 184.6L406.4 182.4L407.2 180.3L408 179.3L408.8 180.4L409.6 181.5L410.4 184.6L411.2 184L412 181.3L412.8 178.6L413.6 178.8L414.4 181.6L415.2 182.8L416 182.8L416.8 182.3L417.6 182.6L418.4 182.1L419.2 179.4L420 178.1L420.8 179.6L421.6 181.5L422.4 181.7L423.2 183.5L424 181.8L424.8 184.1L425.6 182.6L426.4 181.4L427.2 180.1L428 180L428.8 179.6L429.6 181.8L430.4 182.3L431.2 183.3L432 183.2L432.8 184.2L433.6 183.1L434.4 181.8L435.2 177.6L436 178.4L436.8 179.1L437.6 182.8L438.4 183.2L439.2 183.7L440 183.5L440.8 183.6L441.6 184.1L442.4 182.8L443.2 181.6L444 177.1L444.8 178.7L445.6 179.3L446.4 181L447.2 182.5L448 184.1L448.8 182.8L449.6 182.2L450.4 179.7L451.2 177.9L452 175.9L452.8 175.6L453.6 177.6L454.4 179.6L455.2 182.5L456 183L456.8 181.5L457.6 181.6L458.4 179.7L459.2 178.2L460 178.8L460.8 180L461.6 180.1L462.4 181.6L463.2 181.3L464 182.1L464.8 182.5L465.6 181.3L466.4 178.8L467.2 173.4L468 174.5L468.8 177.9L469.6 181.3L470.4 182.3L471.2 181.6L472 181.8L472.8 180.2L473.6 176.5L474.4 172.3L475.2 168.9L476 173.7L476.8 175.9L477.6 178.3L478.4 181.3L479.2 179.8L480 180.4L480.8 180.6L481.6 180.2L482.4 179.8L483.2 177.8L484 174.4L484.8 173L485.6 175.8L486.4 179.1L487.2 177.5L488 180.2L488.8 179.8L489.6 181.3L490.4 179.8L491.2 175.8L492 172.1L492.8 167L493.6 174.2L494.4 174.6L495.2 180L496 181L496.8 180.7L497.6 180.4L498.4 180.5L499.2 181L500 178.4L500.8 173.4L501.6 172.8L502.4 175.8L503.2 177L504 180.1L504.8 181.4L505.6 179.9L506.4 181.8L507.2 180.5L508 179.5L508.8 181.7L509.6 179.4L510.4 177.9L511.2 174.6L512 178.5L512.8 179.8L513.6 180.7L514.4 180L515.2 179.5L516 180.2L516.8 181.2L517.6 179.5L518.4 180.9L519.2 180.7L520 181.6L520.8 180.3L521.6 175L522.4 174.4L523.2 175.3L524 180.3L524.8 180.4L525.6 181.2L526.4 182L527.2 182.5L528 181.3L528.8 180.4L529.6 178L530.4 173.8L531.2 173.8L532 172L532.8 174L533.6 178.8L534.4 180.3L535.2 180.4L536 182.3L536.8 181.7L537.6 180.8L538.4 176.6L539.2 172.3L540 173.5L540.8 174L541.6 173.7L542.4 179.4L543.2 179.8L544 179.7L544.8 180.4L545.6 179.7L546.4 180.7L547.2 179.4L548 176.7L548.8 190L548.8 196L548 205.7L547.2 206.7L546.4 208.8L545.6 212L544.8 211.4L544 210.5L543.2 208.4L542.4 205.8L541.6 209.2L540.8 208.2L540 208L539.2 210.5L538.4 207.6L537.6 204.7L536.8 204.3L536 203.9L535.2 206.4L534.4 206.5L533.6 206.4L532.8 208.7L532 208.6L531.2 206.8L530.4 207.9L529.6 205.7L528.8 206.2L528 207.1L527.2 206.8L526.4 207.1L525.6 206.9L524.8 206.6L524 204.4L523.2 207.9L522.4 208.6L521.6 211.4L520.8 208.7L520 206.7L519.2 206.6L518.4 205L517.6 205.9L516.8 203.9L516 204.8L515.2 206.2L514.4 207.7L513.6 208.6L512.8 208.3L512 207L511.2 207.9L510.4 205.7L509.6 205.4L508.8 204.3L508 208L507.2 209L506.4 209.1L505.6 212.3L504.8 208.2L504 207.7L503.2 207.1L502.4 206.8L501.6 208.4L500.8 209.2L500 206.4L499.2 205.4L498.4 206.5L497.6 207.5L496.8 206.8L496 205.7L495.2 205.4L494.4 208.1L493.6 206.8L492.8 210.7L492 208.5L491.2 207.4L490.4 206L489.6 206.1L488.8 209.7L488 211L487.2 211.4L486.4 206.5L485.6 207.2L484.8 208.6L484 208.3L483.2 206.3L482.4 205.7L481.6 206.9L480.8 207.2L480 208.3L479.2 208.4L478.4 205.8L477.6 206.6L476.8 207.4L476 208.8L475.2 212.6L474.4 211.6L473.6 208.4L472.8 205.7L472 204.3L471.2 204.4L470.4 203.7L469.6 204.5L468.8 208.2L468 211.9L467.2 214.9L466.4 209.3L465.6 206.5L464.8 203.7L464 204.3L463.2 206.5L462.4 207.6L461.6 209.8L460.8 207.3L460 206.3L459.2 204.9L458.4 204.3L457.6 203.4L456.8 204.2L456 203.2L455.2 204.6L454.4 207.1L453.6 208.4L452.8 207.9L452 206.3L451.2 204.9L450.4 204.4L449.6 203.4L448.8 203.2L448 201.9L447.2 203.5L446.4 206L445.6 207.7L444.8 207.3L444 208.2L443.2 203.6L442.4 203.2L441.6 202.1L440.8 203.9L440 205.3L439.2 206.3L438.4 206.2L437.6 204.5L436.8 205.1L436 203.9L435.2 204.6L434.4 202.5L433.6 204.1L432.8 205L432 207.8L431.2 205.9L430.4 204.5L429.6 202.7L428.8 203.8L428 203.6L427.2 205.7L426.4 207L425.6 208.3L424.8 205.3L424 206.7L423.2 203.2L422.4 204L421.6 203.4L420.8 204.2L420 204.7L419.2 204L418.4 203.4L417.6 205.4L416.8 207.8L416 205.5L415.2 203.1L414.4 202.6L413.6 204.5L412.8 207L412 207.4L411.2 206.9L410.4 204L409.6 204.7L408.8 203.2L408 203.4L407.2 203.4L406.4 202.5L405.6 201.4L404.8 201.3L404 202.5L403.2 204.3L402.4 205.4L401.6 205.3L400.8 205.9L400 202.7L399.2 202.3L398.4 201.3L397.6 200.7L396.8 202.3L396 205.1L395.2 205.8L394.4 204.2L393.6 202.5L392.8 200.8L392 200.1L391.2 199.4L390.4 200.9L389.6 200L388.8 200.4L388 200.9L387.2 201.4L386.4 202.7L385.6 201.1L384.8 201.4L384 199L383.2 200.1L382.4 201.9L381.6 203.4L380.8 204L380 203.9L379.2 203.7L378.4 201.3L377.6 201.3L376.8 199.4L376 199.5L375.2 200.3L374.4 199.2L373.6 200.5L372.8 200.2L372 200.6L371.2 203.5L370.4 201.6L369.6 201.1L368.8 199.6L368 200.2L367.2 202.4L366.4 204.1L365.6 203.5L364.8 202.5L364 199.5L363.2 199L362.4 198.9L361.6 200.4L360.8 202.3L360 203.5L359.2 203.2L358.4 202.2L357.6 199L356.8 198.6L356 198.7L355.2 198.8L354.4 199.8L353.6 200.9L352.8 200.6L352 201.6L351.2 202.5L350.4 200.7L349.6 201.3L348.8 199.7L348 198.9L347.2 198.8L346.4 198.9L345.6 199.1L344.8 198.3L344 198.7L343.2 199.2L342.4 199.2L341.6 199.9L340.8 200.1L340 199L339.2 198.6L338.4 198.1L337.6 198.2L336.8 198.2L336 197.9L335.2 198L334.4 197.4L333.6 198.9L332.8 199.8L332 200.3L331.2 199.5L330.4 198.9L329.6 198L328.8 198.1L328 197.7L327.2 198.4L326.4 199L325.6 199.6L324.8 200L324 200.3L323.2 199.9L322.4 199.4L321.6 199.4L320.8 198.6L320 197.8L319.2 198.4L318.4 200.3L317.6 201.9L316.8 200.5L316 199.6L315.2 198.5L314.4 198L313.6 197.8L312.8 197.5L312 198.5L311.2 198.6L310.4 198.7L309.6 197.8L308.8 197.6L308 197.8L307.2 198.9L306.4 198.6L305.6 198.6L304.8 198.2L304 197.1L303.2 196.6L302.4 196.6L301.6 196L300.8 196.3L300 197.3L299.2 197.8L298.4 198L297.6 197.3L296.8 196.6L296 195.6L295.2 195.6L294.4 195.7L293.6 195.6L292.8 195.8L292 195.9L291.2 196.2L290.4 196.5L289.6 197.4L288.8 196.4L288 195.9L287.2 195.1L286.4 195.4L285.6 195.5L284.8 195.6L284 196.2L283.2 196.1L282.4 195.6L281.6 195.3L280.8 194.7L280 194.9L279.2 194.9L278.4 195.2L277.6 195.4L276.8 195L276 195L275.2 194.5L274.4 194.4L273.6 194.4L272.8 194.6L272 194.4L271.2 194.4L270.4 194.7L269.6 194.6L268.8 194.9L268 194.7L267.2 194.4L266.4 194.4L265.6 194.4L264.8 194.4L264 194.4L263.2 194.4L262.4 194.4L261.6 194.4L260.8 194.4L260 194.4L259.2 194.4L258.4 194.4L257.6 194.4L256.8 194.4L256 194.4Z" fill="#6abd45"/><path d="M549 190L549.8 178.1L550.6 178L551.4 176.2L552.2 177.6L553 177.9L553.8 178.7L554.6 176.9L555.4 177.8L556.2 176.7L557 175.6L557.8 176.4L558.6 175.8L559.4 178.7L560.2 179.8L561 178.2L561.8 178L562.6 178.8L563.4 175.5L564.2 173.9L565 176.8L565.8 179L566.6 177.8L567.4 177.2L568.2 175.3L569 176.9L569.8 175.3L570.6 177.4L571.4 177.5L572.2 175.3L573 176.4L573.8 176.2L574.6 177.4L575.4 179.2L576.2 178.8L577 180L577.8 179L578.6 178.2L579.4 174.8L580.2 177.4L581 177.7L581.8 178.8L582.6 177.6L583.4 176.9L584.2 176.2L585 173.9L585.8 179.2L586.6 175.9L587.4 175.5L588.2 175.2L589 172.5L589.8 170.4L590.6 173.6L591.4 177.1L592.2 175.8L593 173.1L593.8 175L594.6 171L595.4 170.7L596.2 166.8L597 169.9L597.8 171.9L598.6 173.1L599.4 175.5L600.2 173.2L601 178.6L601.8 178.9L602.6 190L602.6 196L601.8 206.6L601 208.1L600.2 215.4L599.4 211.9L598.6 213.4L597.8 213.3L597 214.5L596.2 216.9L595.4 214L594.6 215.5L593.8 212.7L593 215.3L592.2 211.2L591.4 208.7L590.6 211.1L589.8 214L589 212.8L588.2 211.7L587.4 211.8L586.6 210.8L585.8 206.4L585 211.5L584.2 209.7L583.4 210.1L582.6 209.8L581.8 208.3L581 208.9L580.2 207.8L579.4 209.7L578.6 207.4L577.8 207.8L577 207.6L576.2 208.5L575.4 207.2L574.6 208.1L573.8 208.5L573 208.9L572.2 211.1L571.4 209.8L570.6 209L569.8 209.9L569 207.8L568.2 209.8L567.4 209.1L566.6 209.6L565.8 208.1L565 209L564.2 210.7L563.4 209.3L562.6 206.9L561.8 208L561 207.8L560.2 206.9L559.4 208.5L558.6 211.9L557.8 210L557 209.9L556.2 208.6L555.4 207.8L554.6 209.1L553.8 207.3L553 208.5L552.2 209.1L551.4 210.6L550.6 207.9L549.8 207.6L549 196Z" fill="#ee1c25"/><path d="M603.5 190L604.3 184.3L605.1 179.4L605.9 173.9L606.7 169.9L607.5 168.9L608.3 158.9L609.1 157.2L609.9 157L610.7 158.6L611.5 165.8L612.3 164.2L613.1 163.2L613.9 161.4L614.7 158.5L615.5 155.3L616.3 152.6L617.1 153.7L617.9 157.6L618.7 154L619.5 155.6L620.3 151L621.1 138.8L621.9 126.7L622.7 127.4L623.5 130.1L624.3 133.2L625.1 142L625.9 132.5L626.7 131.8L627.5 114L628.3 101.8L629.1 90.4L629.9 82.8L630.7 98L631.5 108.8L632.3 128.9L633.1 132.4L633.9 142L634.7 137.7L635.5 144.8L636.3 158.7L637.1 167.7L637.9 171.2L638.7 173L639.5 174.8L640.3 175.7L641.1 172.8L641.9 175.2L642.7 173.4L643.5 175.2L644.3 177.8L645.1 180.4L645.9 181.6L646.7 181.5L647.5 179.5L648.3 174.8L649.1 173.3L649.9 173.7L650.7 176.5L651.5 179.2L652.3 178.3L653.1 178.9L653.9 177L654.7 177.7L655.5 174.9L656.3 174.8L657.1 176.9L657.9 178.9L658.7 180.5L659.5 182.7L660.3 180.4L661.1 181.1L661.9 178.2L662.7 175.9L663.5 175L664.3 177.2L665.1 174L665.9 173.6L666.7 164.2L667.5 162.3L668.3 158.6L669.1 160.9L669.9 161.8L670.7 166.7L671.5 167.2L672.3 161.4L673.1 158.5L673.9 157.3L674.7 162.4L675.5 167.9L676.3 171.4L677.1 172.4L677.9 175.7L678.7 175.5L679.5 173.8L680.3 173.5L681.1 171.8L681.9 174.5L682.7 175L683.5 176.6L684.3 173.3L685.1 171.2L685.9 167.1L686.7 158.5L687.5 157.5L688.3 154.8L689.1 159.5L689.9 161.5L690.7 161.7L691.5 157.1L692.3 152.7L693.1 144L693.9 133.9L694.7 119.7L695.5 141.1L696.3 144.5L697.1 150.9L697.9 148.6L698.7 151L699.5 152.2L700.3 160.7L701.1 163.5L701.9 169.5L702.7 169.8L703.5 168.8L704.3 161.7L705.1 161.2L705.9 158.2L706.7 164L707.5 162.8L708.3 153.2L709.1 140.1L709.9 130.7L710.7 138.3L711.5 143.2L712.3 147.9L713.1 154.3L713.9 162.8L714.7 168.2L715.5 171.1L716.3 177.4L717.1 182.5L717.9 184.6L718.7 186.5L719.5 187.7L720.3 189.2L721.1 190.4L721.9 190L721.9 194.9L721.1 195L720.3 196.5L719.5 198.2L718.7 199.3L717.9 200.4L717.1 201.6L716.3 208L715.5 219.4L714.7 229.2L713.9 242L713.1 255.3L712.3 253.8L711.5 247.6L710.7 247.9L709.9 248.2L709.1 244.4L708.3 236.5L707.5 231.8L706.7 230.6L705.9 236.7L705.1 230.9L704.3 229.2L703.5 220.8L702.7 219.4L701.9 218.8L701.1 225L700.3 225.7L699.5 231.9L698.7 233.4L697.9 234.1L697.1 230.5L696.3 230.4L695.5 230.7L694.7 243.8L693.9 235.3L693.1 232L692.3 227.3L691.5 224.9L690.7 221.2L689.9 221.9L689.1 223.7L688.3 227.7L687.5 225.6L686.7 226.3L685.9 219.7L685.1 216.3L684.3 214.5L683.5 210.9L682.7 211.8L681.9 212.3L681.1 215L680.3 214.1L679.5 213.8L678.7 211.2L677.9 209.9L677.1 211.6L676.3 211.9L675.5 214L674.7 217.1L673.9 220.7L673.1 222L672.3 221L671.5 216.5L670.7 215.9L669.9 218.3L669.1 217.7L668.3 218.4L667.5 217.3L666.7 218.4L665.9 211.4L665.1 210.7L664.3 206.2L663.5 207.2L662.7 206.3L661.9 205.5L661.1 204.1L660.3 205.6L659.5 203.3L658.7 204.8L657.9 205.4L657.1 207.2L656.3 209.3L655.5 210.6L654.7 207.9L653.9 208.5L653.1 206.3L652.3 206.9L651.5 207.1L650.7 210.8L649.9 213.2L649.1 212.8L648.3 212L647.5 209.4L646.7 210.5L645.9 213.6L645.1 213.4L644.3 214.2L643.5 215L642.7 216L641.9 214L641.1 217.7L640.3 216.4L639.5 219.6L638.7 223.7L637.9 225.1L637.1 227.1L636.3 231.9L635.5 241.7L634.7 250.3L633.9 248.7L633.1 257.8L632.3 254.3L631.5 267.1L630.7 270.8L629.9 279.9L629.1 275.9L628.3 274.6L627.5 274.9L626.7 262.9L625.9 261.1L625.1 247.3L624.3 253.1L623.5 250.9L622.7 250.2L621.9 252.7L621.1 248.9L620.3 241.9L619.5 234.4L618.7 233.2L617.9 227.8L617.1 230L616.3 229.5L615.5 226.6L614.7 226.1L613.9 225.6L613.1 225.3L612.3 221.9L611.5 217.2L610.7 221.1L609.9 221.3L609.1 221.2L608.3 222.3L607.5 215.8L606.7 216.7L605.9 210.9L605.1 204.6L604.3 199.8L603.5 196Z" fill="#5cc3dc"/><path d="M627.8 78h3.4V298h-3.4zM709.6 124h3.2V267h-3.2zM693 128h3V246h-3z" fill="#5cc3dc"/><path d="M725.6 137h3.6V264h-3.6z" fill="#f6e72a"/><path d="M723 190.2L723.8 188.5L724.6 187.4L725.4 185.8L726.2 184.6L727 183.6L727.8 183.1L728.6 183L729.4 183.6L730.2 183.6L731 184L731.8 183.8L732.6 184.4L733.4 184.9L734.2 184.3L735 183.6L735.8 183.4L736.6 183.4L737.4 184L738.2 184.3L739 184.3L739.8 184.2L740.6 184.3L741.4 184.3L742.2 184.7L743 185.4L743.8 185.5L744.6 184.9L745.4 184.2L746.2 183.9L747 185L747.8 185.6L748.6 185.9L749.4 185.8L750.2 185.8L751 186.8L751.8 185.4L752.6 185.3L753.4 185.7L754.2 185.6L755 186.5L755.8 186.5L756.6 185.7L757.4 186.7L758.2 186.7L759 186.9L759.8 187.1L760.6 186.7L761.4 186.6L762.2 185.7L763 187L763.8 186.8L764.6 187.6L765.4 187.2L766.2 187.2L767 187.2L767.8 187.6L768.6 187.9L769.4 188.4L770.2 188.4L771 188.9L771.8 188.4L772.6 188.4L773.4 188.2L774.2 188.7L775 188.5L775.8 189L776.6 189.1L777.4 188.9L778.2 189.5L779 189.2L779.8 189.5L780.6 189.6L781.4 189.9L782.2 189.8L783 190.3L783 195.7L782.2 196.2L781.4 196.1L780.6 196.4L779.8 196.4L779 196.7L778.2 196.5L777.4 197.1L776.6 197L775.8 197.3L775 197.9L774.2 197.5L773.4 197.7L772.6 197.5L771.8 197.6L771 197.1L770.2 197.6L769.4 197.7L768.6 198.3L767.8 198.5L767 198.7L766.2 198.6L765.4 198.6L764.6 198.3L763.8 199L763 198.6L762.2 199.9L761.4 199.3L760.6 199.3L759.8 198.9L759 199L758.2 199.3L757.4 199.3L756.6 200.4L755.8 199.6L755 199.4L754.2 200.1L753.4 200.1L752.6 200.7L751.8 200.8L751 199.4L750.2 200.3L749.4 200.2L748.6 200.1L747.8 200.4L747 200.9L746.2 202.2L745.4 202L744.6 201.2L743.8 200.5L743 200.6L742.2 201.3L741.4 201.4L740.6 201.3L739.8 202L739 202L738.2 201.9L737.4 201.8L736.6 202.2L735.8 202.4L735 202.5L734.2 202.1L733.4 201.3L732.6 201.7L731.8 202.2L731 201.9L730.2 202.2L729.4 202.4L728.6 203.1L727.8 203L727 202.4L726.2 201.4L725.4 200.2L724.6 198.6L723.8 197.5L723 195.8Z" fill="#f6e72a"/><path d="M781 193H888.5" stroke="#141414" stroke-width="3" fill="none"/><path d="M782 188.8v8.4h10v-8.4zM793 189.8v6.4h6v-6.4zM807 190.4v5.2h10v-5.2zM846 190.7v4.6h8v-4.6zM865 190.7v4.6h6v-4.6z" fill="#141414"/>
</g>
<g filter="url(#soft)">
<path d="M99.4 62.2H889.4" fill="none" stroke="#1c1c1c" stroke-width="4.9"/><path d="M102 62.5V323" fill="none" stroke="#1c1c1c" stroke-width="5.2"/><path d="M887.6 62.5V322" fill="none" stroke="#1c1c1c" stroke-width="3.6"/><path d="M101.6 328V585.5" fill="none" stroke="#3e5c52" stroke-width="4.0"/><path d="M102 479.2h6.5M102 374.4h6.5" stroke="#1e241e" stroke-width="3.4" fill="none"/><path d="M214.7 62.5v8M214.7 321.5v-7.5M327.1 62.5v8M327.1 321.5v-7.5M439.5 62.5v8M439.5 321.5v-7.5M551.9 62.5v8M551.9 321.5v-7.5M664.3 62.5v8M664.3 321.5v-7.5M776.7 62.5v8M776.7 321.5v-7.5" stroke="#1c1c1c" stroke-width="4.4" fill="none"/><path d="M102 312.5h8.5M887.6 312.5h-8.5M102 193h8.5M887.6 193h-8.5M102 73.5h8.5M887.6 73.5h-8.5" stroke="#1c1c1c" stroke-width="4" fill="none"/>
</g>
<g filter="url(#soft)">
<text transform="translate(441.8 43.2) scale(1.03 1)" font-size="41.5" font-weight="bold" text-anchor="middle" fill="#111" stroke="#111" stroke-width="0.7">Limfjord</text><text transform="translate(86.5 85.7) scale(0.98 1)" font-size="34" text-anchor="end" fill="#1c1c1c" stroke="#1c1c1c" stroke-width="0.9">1</text><text transform="translate(86.5 205.2) scale(0.98 1)" font-size="34" text-anchor="end" fill="#1c1c1c" stroke="#1c1c1c" stroke-width="0.9">0</text><text transform="translate(86.5 324.7) scale(0.98 1)" font-size="34" text-anchor="end" fill="#1c1c1c" stroke="#1c1c1c" stroke-width="0.9">-1</text><text transform="translate(86.5 596.3) scale(0.98 1)" font-size="34" text-anchor="end" fill="#1c1c1c" stroke="#1c1c1c" stroke-width="0.9">0</text><text transform="translate(86.5 491.5) scale(0.98 1)" font-size="34" text-anchor="end" fill="#1c1c1c" stroke="#1c1c1c" stroke-width="0.9">1</text><text transform="translate(86.5 386.7) scale(0.98 1)" font-size="34" text-anchor="end" fill="#1c1c1c" stroke="#1c1c1c" stroke-width="0.9">2</text><text transform="translate(96.6 631.3) scale(0.98 1)" font-size="34" text-anchor="middle" fill="#1c1c1c" stroke="#1c1c1c" stroke-width="0.9">0</text><text transform="translate(209 631.3) scale(0.98 1)" font-size="34" text-anchor="middle" fill="#1c1c1c" stroke="#1c1c1c" stroke-width="0.9">2</text><text transform="translate(321.4 631.3) scale(0.98 1)" font-size="34" text-anchor="middle" fill="#1c1c1c" stroke="#1c1c1c" stroke-width="0.9">4</text><text transform="translate(433.8 631.3) scale(0.98 1)" font-size="34" text-anchor="middle" fill="#1c1c1c" stroke="#1c1c1c" stroke-width="0.9">6</text><text transform="translate(546.2 631.3) scale(0.98 1)" font-size="34" text-anchor="middle" fill="#1c1c1c" stroke="#1c1c1c" stroke-width="0.9">8</text><text transform="translate(665.8 631.3) scale(0.93 1)" font-size="34" text-anchor="middle" fill="#1c1c1c" stroke="#1c1c1c" stroke-width="0.9" letter-spacing="-2.6">10</text><text transform="translate(778.2 631.3) scale(0.93 1)" font-size="34" text-anchor="middle" fill="#1c1c1c" stroke="#1c1c1c" stroke-width="0.9" letter-spacing="-2.6">12</text><text transform="translate(890.6 631.3) scale(0.93 1)" font-size="34" text-anchor="middle" fill="#1c1c1c" stroke="#1c1c1c" stroke-width="0.9" letter-spacing="-2.6">14</text><text transform="translate(44.2 159.7) rotate(-90) scale(1 1.066)" font-size="44.1" text-anchor="middle" fill="#13163c" stroke="#13163c" stroke-width="0.15">Rel. ampl.</text><text transform="translate(40.5 481.2) rotate(-90) scale(1 1.07)" font-size="43.2" text-anchor="middle" fill="#13163c" stroke="#13163c" stroke-width="0.15">Frequentie (kHz)</text>
</g>
</g>
<g transform="translate(0 652.9)">
<g clip-path="url(#cpB)"><g transform="translate(0 322) scale(1 1.0115) translate(0 -323)"><g filter="url(#cm)" fill="none" stroke-width="5.6"><rect x="90" y="312" width="810" height="280" fill="#727272"/><path stroke="#5c5c5c" d="M150 319.5h6M876 324.5h6M150 344.5h6M216 354.5h6M150 359.5h6"/><path stroke="#626262" d="M108 314.5h6M150 314.5h6M174 314.5h6M216 314.5h6M294 314.5h6M306 314.5h6M690 314.5h6M852 314.5h6M876 314.5h6M108 319.5h6M162 319.5h6M174 319.5h6M216 319.5h6M390 319.5h6M96 324.5h6M162 324.5h6M174 324.5h6M852 324.5h6M150 329.5h6M174 329.5h6M744 329.5h6M780 329.5h6M792 329.5h6M96 334.5h6M270 334.5h6M294 334.5h6M342 334.5h6M144 339.5h6M174 339.5h6M876 339.5h6M96 344.5h6M108 344.5h6M216 344.5h6M294 344.5h6M852 344.5h6M876 344.5h6M150 349.5h6M162 349.5h6M252 349.5h6M852 349.5h6M96 354.5h6M150 354.5h6M162 354.5h6M876 354.5h6M162 359.5h6M174 359.5h6M216 359.5h6M876 359.5h6M150 364.5h6M162 364.5h6M294 364.5h6M768 364.5h6M876 364.5h6M150 369.5h6M768 369.5h6M852 369.5h6M876 374.5h6M156 379.5h6M216 379.5h6M162 389.5h6"/><path stroke="#676767" d="M96 314.5h12M114 314.5h12M156 314.5h18M186 314.5h6M204 314.5h6M252 314.5h12M270 314.5h18M312 314.5h6M330 314.5h6M342 314.5h6M378 314.5h6M390 314.5h6M444 314.5h6M654 314.5h6M666 314.5h6M678 314.5h6M696 314.5h18M750 314.5h6M762 314.5h12M780 314.5h6M792 314.5h12M96 319.5h12M132 319.5h6M156 319.5h6M180 319.5h6M198 319.5h12M252 319.5h6M276 319.5h6M294 319.5h6M306 319.5h6M336 319.5h12M402 319.5h6M414 319.5h6M444 319.5h6M678 319.5h6M690 319.5h12M720 319.5h6M762 319.5h12M780 319.5h6M792 319.5h12M822 319.5h12M852 319.5h6M876 319.5h12M894 319.5h6M108 324.5h6M144 324.5h18M180 324.5h6M204 324.5h6M216 324.5h6M264 324.5h6M294 324.5h6M312 324.5h6M690 324.5h6M744 324.5h12M768 324.5h18M792 324.5h12M882 324.5h6M96 329.5h18M144 329.5h6M156 329.5h12M180 329.5h6M204 329.5h6M216 329.5h12M252 329.5h12M270 329.5h6M306 329.5h12M342 329.5h6M378 329.5h6M390 329.5h6M402 329.5h6M678 329.5h6M690 329.5h6M702 329.5h6M720 329.5h6M768 329.5h6M828 329.5h6M852 329.5h6M876 329.5h12M894 329.5h6M108 334.5h6M150 334.5h18M174 334.5h12M216 334.5h12M252 334.5h18M276 334.5h6M312 334.5h6M336 334.5h6M390 334.5h6M690 334.5h6M702 334.5h6M720 334.5h6M744 334.5h12M762 334.5h12M780 334.5h6M792 334.5h6M816 334.5h12M852 334.5h12M876 334.5h12M96 339.5h6M108 339.5h6M150 339.5h24M216 339.5h6M264 339.5h6M276 339.5h6M294 339.5h6M312 339.5h6M342 339.5h6M390 339.5h6M678 339.5h6M690 339.5h6M720 339.5h6M744 339.5h6M768 339.5h12M804 339.5h6M852 339.5h6M102 344.5h6M156 344.5h12M174 344.5h12M204 344.5h6M252 344.5h12M270 344.5h6M306 344.5h12M336 344.5h6M390 344.5h6M402 344.5h6M702 344.5h12M744 344.5h6M768 344.5h6M804 344.5h6M822 344.5h6M882 344.5h6M90 349.5h6M102 349.5h12M156 349.5h6M174 349.5h6M204 349.5h6M216 349.5h6M258 349.5h6M276 349.5h6M294 349.5h6M690 349.5h6M792 349.5h6M876 349.5h6M90 354.5h6M108 354.5h6M144 354.5h6M156 354.5h6M174 354.5h6M204 354.5h6M282 354.5h6M294 354.5h6M390 354.5h6M690 354.5h6M744 354.5h12M768 354.5h6M780 354.5h6M792 354.5h6M816 354.5h12M852 354.5h6M888 354.5h12M90 359.5h18M156 359.5h6M168 359.5h6M204 359.5h6M222 359.5h6M252 359.5h6M270 359.5h6M294 359.5h6M306 359.5h12M336 359.5h6M690 359.5h6M768 359.5h6M780 359.5h6M792 359.5h6M822 359.5h6M852 359.5h6M102 364.5h12M156 364.5h6M174 364.5h12M216 364.5h6M252 364.5h6M270 364.5h6M312 364.5h6M390 364.5h6M822 364.5h6M846 364.5h6M882 364.5h6M894 364.5h6M90 369.5h12M144 369.5h6M156 369.5h30M204 369.5h6M258 369.5h6M270 369.5h6M294 369.5h6M312 369.5h6M336 369.5h12M702 369.5h6M720 369.5h6M780 369.5h6M792 369.5h6M876 369.5h6M96 374.5h12M150 374.5h6M162 374.5h6M174 374.5h6M216 374.5h6M252 374.5h6M270 374.5h6M294 374.5h6M312 374.5h6M720 374.5h6M768 374.5h6M852 374.5h6M882 374.5h6M96 379.5h6M144 379.5h12M162 379.5h12M294 379.5h6M312 379.5h6M378 379.5h6M390 379.5h6M768 379.5h6M780 379.5h6M828 379.5h6M846 379.5h18M876 379.5h12M90 384.5h24M150 384.5h6M174 384.5h12M294 384.5h6M768 384.5h6M780 384.5h6M852 384.5h6M876 384.5h6M150 389.5h12M252 389.5h12M282 389.5h6M294 389.5h6M762 389.5h6M780 389.5h6M852 389.5h6M162 394.5h6M204 394.5h6M216 394.5h6M252 394.5h6M306 394.5h12M762 394.5h6M852 394.5h6M876 394.5h6M96 399.5h6M150 399.5h6M216 399.5h6M342 399.5h6M768 399.5h6M780 399.5h6M876 399.5h6M96 404.5h6M216 404.5h6M270 404.5h6M312 404.5h6M690 404.5h6M96 409.5h12M294 409.5h6M876 409.5h6M204 414.5h6M96 419.5h6M312 419.5h6M780 419.5h6M792 419.5h6M102 424.5h6M294 424.5h6M876 424.5h6M108 429.5h6M768 429.5h6M96 434.5h6M156 434.5h6M144 444.5h6M162 444.5h6M216 444.5h6M294 444.5h6M876 449.5h6M96 459.5h6M162 459.5h6"/><path stroke="#6d6d6d" d="M90 314.5h6M126 314.5h12M144 314.5h6M180 314.5h6M210 314.5h6M222 314.5h6M240 314.5h6M300 314.5h6M318 314.5h12M336 314.5h6M354 314.5h6M366 314.5h12M384 314.5h6M402 314.5h42M636 314.5h18M672 314.5h6M684 314.5h6M714 314.5h18M738 314.5h12M756 314.5h6M786 314.5h6M804 314.5h6M816 314.5h18M840 314.5h12M858 314.5h6M870 314.5h6M882 314.5h6M894 314.5h6M90 319.5h6M114 319.5h6M126 319.5h6M138 319.5h12M168 319.5h6M210 319.5h6M222 319.5h6M240 319.5h12M258 319.5h6M270 319.5h6M282 319.5h6M300 319.5h6M312 319.5h24M348 319.5h18M372 319.5h18M420 319.5h12M624 319.5h6M642 319.5h18M672 319.5h6M702 319.5h18M726 319.5h6M738 319.5h6M750 319.5h12M774 319.5h6M786 319.5h6M804 319.5h6M816 319.5h6M846 319.5h6M858 319.5h6M870 319.5h6M888 319.5h6M90 324.5h6M102 324.5h6M132 324.5h6M168 324.5h6M210 324.5h6M252 324.5h12M270 324.5h18M300 324.5h12M324 324.5h12M342 324.5h6M390 324.5h6M402 324.5h6M414 324.5h12M654 324.5h18M684 324.5h6M696 324.5h18M720 324.5h12M756 324.5h12M804 324.5h6M816 324.5h12M846 324.5h6M888 324.5h12M90 329.5h6M114 329.5h6M126 329.5h12M168 329.5h6M186 329.5h6M276 329.5h12M294 329.5h6M318 329.5h18M354 329.5h12M372 329.5h6M420 329.5h12M444 329.5h6M456 329.5h6M630 329.5h6M666 329.5h6M696 329.5h6M708 329.5h6M726 329.5h6M738 329.5h6M750 329.5h6M762 329.5h6M774 329.5h6M798 329.5h30M834 329.5h6M846 329.5h6M858 329.5h6M870 329.5h6M888 329.5h6M90 334.5h6M102 334.5h6M144 334.5h6M168 334.5h6M198 334.5h6M234 334.5h6M282 334.5h6M306 334.5h6M324 334.5h12M360 334.5h6M372 334.5h18M402 334.5h6M426 334.5h6M444 334.5h6M654 334.5h6M666 334.5h6M678 334.5h12M696 334.5h6M708 334.5h12M774 334.5h6M798 334.5h18M828 334.5h6M846 334.5h6M870 334.5h6M894 334.5h6M90 339.5h6M102 339.5h6M132 339.5h6M180 339.5h6M204 339.5h6M222 339.5h6M252 339.5h12M270 339.5h6M282 339.5h6M306 339.5h6M324 339.5h6M336 339.5h6M384 339.5h6M402 339.5h6M444 339.5h6M648 339.5h12M684 339.5h6M702 339.5h12M762 339.5h6M780 339.5h6M792 339.5h12M810 339.5h6M828 339.5h6M846 339.5h6M858 339.5h6M870 339.5h6M882 339.5h18M90 344.5h6M126 344.5h12M144 344.5h6M168 344.5h6M198 344.5h6M222 344.5h12M264 344.5h6M276 344.5h12M330 344.5h6M342 344.5h6M354 344.5h6M378 344.5h12M414 344.5h6M444 344.5h6M678 344.5h18M714 344.5h6M726 344.5h6M738 344.5h6M750 344.5h6M774 344.5h12M792 344.5h12M810 344.5h6M828 344.5h6M846 344.5h6M870 344.5h6M888 344.5h6M96 349.5h6M144 349.5h6M168 349.5h6M180 349.5h6M198 349.5h6M222 349.5h6M264 349.5h12M306 349.5h24M342 349.5h6M378 349.5h6M390 349.5h6M426 349.5h6M702 349.5h12M744 349.5h6M762 349.5h12M780 349.5h6M798 349.5h6M822 349.5h12M858 349.5h6M870 349.5h6M882 349.5h6M894 349.5h6M102 354.5h6M126 354.5h12M168 354.5h6M180 354.5h6M222 354.5h6M252 354.5h6M264 354.5h6M276 354.5h6M306 354.5h12M336 354.5h6M354 354.5h12M378 354.5h6M666 354.5h6M678 354.5h6M696 354.5h18M720 354.5h12M762 354.5h6M804 354.5h6M828 354.5h6M846 354.5h6M858 354.5h6M870 354.5h6M882 354.5h6M180 359.5h6M258 359.5h12M276 359.5h12M324 359.5h6M342 359.5h6M360 359.5h6M378 359.5h18M678 359.5h6M696 359.5h12M720 359.5h6M762 359.5h6M774 359.5h6M798 359.5h6M828 359.5h6M846 359.5h6M882 359.5h12M90 364.5h12M132 364.5h6M144 364.5h6M168 364.5h6M198 364.5h18M246 364.5h6M306 364.5h6M330 364.5h18M354 364.5h12M378 364.5h6M402 364.5h6M678 364.5h6M690 364.5h6M702 364.5h12M720 364.5h6M744 364.5h12M780 364.5h6M792 364.5h12M828 364.5h6M852 364.5h6M870 364.5h6M888 364.5h6M102 369.5h12M216 369.5h24M246 369.5h12M264 369.5h6M276 369.5h12M300 369.5h12M330 369.5h6M354 369.5h12M378 369.5h6M390 369.5h6M414 369.5h6M690 369.5h6M708 369.5h6M744 369.5h12M762 369.5h6M774 369.5h6M822 369.5h12M846 369.5h6M858 369.5h6M870 369.5h6M882 369.5h12M90 374.5h6M108 374.5h6M144 374.5h6M156 374.5h6M168 374.5h6M180 374.5h6M222 374.5h6M276 374.5h12M306 374.5h6M378 374.5h6M666 374.5h6M690 374.5h6M702 374.5h12M762 374.5h6M774 374.5h6M792 374.5h6M804 374.5h6M822 374.5h12M846 374.5h6M858 374.5h6M894 374.5h6M90 379.5h6M102 379.5h12M126 379.5h12M174 379.5h12M198 379.5h6M252 379.5h6M264 379.5h18M306 379.5h6M318 379.5h6M330 379.5h6M342 379.5h6M690 379.5h6M702 379.5h6M720 379.5h6M744 379.5h6M762 379.5h6M774 379.5h6M792 379.5h6M804 379.5h6M822 379.5h6M144 384.5h6M156 384.5h12M198 384.5h12M216 384.5h6M234 384.5h6M252 384.5h30M306 384.5h12M324 384.5h12M342 384.5h6M384 384.5h12M690 384.5h6M702 384.5h12M720 384.5h6M744 384.5h6M762 384.5h6M774 384.5h6M792 384.5h6M804 384.5h6M822 384.5h6M882 384.5h6M96 389.5h18M132 389.5h6M144 389.5h6M168 389.5h18M264 389.5h18M306 389.5h12M342 389.5h6M378 389.5h6M390 389.5h6M690 389.5h6M702 389.5h6M720 389.5h6M768 389.5h12M792 389.5h12M828 389.5h6M846 389.5h6M876 389.5h6M90 394.5h24M144 394.5h18M174 394.5h12M270 394.5h6M294 394.5h6M378 394.5h6M390 394.5h6M690 394.5h6M708 394.5h6M768 394.5h18M792 394.5h6M804 394.5h6M816 394.5h18M882 394.5h6M90 399.5h6M102 399.5h12M132 399.5h6M144 399.5h6M162 399.5h6M174 399.5h12M198 399.5h12M252 399.5h6M264 399.5h18M294 399.5h6M312 399.5h6M354 399.5h6M804 399.5h6M846 399.5h18M102 404.5h12M150 404.5h6M180 404.5h6M198 404.5h12M252 404.5h6M264 404.5h6M294 404.5h6M378 404.5h6M390 404.5h6M708 404.5h6M720 404.5h6M768 404.5h12M828 404.5h6M852 404.5h6M876 404.5h12M894 404.5h6M108 409.5h6M132 409.5h6M150 409.5h6M216 409.5h12M252 409.5h6M270 409.5h6M312 409.5h6M336 409.5h12M690 409.5h6M768 409.5h6M798 409.5h6M828 409.5h6M852 409.5h6M96 414.5h12M180 414.5h6M198 414.5h6M216 414.5h6M252 414.5h18M294 414.5h6M312 414.5h6M342 414.5h6M690 414.5h6M816 414.5h12M876 414.5h12M90 419.5h6M102 419.5h12M150 419.5h18M180 419.5h6M204 419.5h6M216 419.5h6M252 419.5h6M270 419.5h6M294 419.5h6M306 419.5h6M390 419.5h6M714 419.5h6M762 419.5h18M822 419.5h6M852 419.5h6M876 419.5h12M894 419.5h6M96 424.5h6M150 424.5h6M180 424.5h6M216 424.5h6M252 424.5h6M390 424.5h6M762 424.5h12M882 424.5h6M96 429.5h12M144 429.5h18M174 429.5h12M216 429.5h6M294 429.5h6M306 429.5h6M762 429.5h6M780 429.5h6M792 429.5h6M828 429.5h6M852 429.5h6M876 429.5h6M102 434.5h6M150 434.5h6M162 434.5h6M174 434.5h6M252 434.5h6M306 434.5h12M762 434.5h12M780 434.5h6M792 434.5h12M822 434.5h6M882 434.5h6M96 439.5h18M150 439.5h6M252 439.5h6M276 439.5h6M294 439.5h6M306 439.5h6M768 439.5h12M876 439.5h12M96 444.5h6M108 444.5h6M150 444.5h6M174 444.5h6M252 444.5h6M276 444.5h6M306 444.5h6M336 444.5h6M702 444.5h6M768 444.5h6M876 444.5h6M894 444.5h6M150 449.5h6M162 449.5h6M216 449.5h6M294 449.5h6M768 449.5h6M96 454.5h12M156 454.5h12M252 454.5h6M294 454.5h6M876 454.5h6M102 459.5h6M150 459.5h6M216 459.5h6M294 459.5h6M876 459.5h6M90 464.5h6M102 464.5h6M150 464.5h6M180 464.5h6M252 464.5h6M294 464.5h6M312 464.5h6M876 464.5h6M876 469.5h12"/><path stroke="#777777" d="M138 314.5h6M288 314.5h6M450 314.5h6M468 314.5h6M552 314.5h6M612 314.5h12M864 314.5h6M192 319.5h6M288 319.5h6M396 319.5h6M450 319.5h6M462 319.5h6M606 319.5h6M732 319.5h6M840 319.5h6M186 324.5h6M240 324.5h6M288 324.5h6M366 324.5h6M396 324.5h6M408 324.5h6M432 324.5h6M624 324.5h18M834 324.5h12M864 324.5h12M138 329.5h6M240 329.5h12M348 329.5h6M396 329.5h6M408 329.5h12M450 329.5h6M552 329.5h6M648 329.5h6M732 329.5h6M840 329.5h6M120 334.5h6M132 334.5h6M240 334.5h6M288 334.5h6M366 334.5h6M396 334.5h6M420 334.5h6M438 334.5h6M456 334.5h18M624 334.5h6M642 334.5h6M660 334.5h6M864 334.5h6M120 339.5h6M138 339.5h6M288 339.5h6M318 339.5h6M348 339.5h24M396 339.5h6M432 339.5h12M456 339.5h6M630 339.5h6M660 339.5h6M738 339.5h6M756 339.5h6M786 339.5h6M840 339.5h6M864 339.5h6M120 344.5h6M138 344.5h6M288 344.5h6M348 344.5h6M366 344.5h6M408 344.5h6M456 344.5h12M624 344.5h18M648 344.5h6M786 344.5h6M834 344.5h12M864 344.5h6M114 349.5h6M138 349.5h6M300 349.5h6M348 349.5h6M372 349.5h6M396 349.5h6M420 349.5h6M438 349.5h6M450 349.5h6M462 349.5h6M630 349.5h6M672 349.5h6M726 349.5h6M756 349.5h6M816 349.5h6M834 349.5h12M864 349.5h6M120 354.5h6M210 354.5h6M240 354.5h6M288 354.5h6M324 354.5h6M372 354.5h6M384 354.5h6M396 354.5h6M414 354.5h6M432 354.5h12M456 354.5h6M468 354.5h6M648 354.5h6M660 354.5h6M672 354.5h6M714 354.5h6M756 354.5h6M786 354.5h6M834 354.5h12M864 354.5h6M120 359.5h6M138 359.5h6M234 359.5h6M348 359.5h6M366 359.5h12M396 359.5h6M432 359.5h6M726 359.5h12M756 359.5h6M864 359.5h12M126 364.5h6M186 364.5h6M228 364.5h18M282 364.5h12M300 364.5h6M318 364.5h12M348 364.5h6M366 364.5h6M420 364.5h18M444 364.5h6M456 364.5h6M624 364.5h12M642 364.5h12M660 364.5h6M696 364.5h6M738 364.5h6M774 364.5h6M786 364.5h6M834 364.5h12M138 369.5h6M186 369.5h6M240 369.5h6M288 369.5h6M372 369.5h6M444 369.5h6M630 369.5h6M672 369.5h6M732 369.5h12M756 369.5h6M834 369.5h12M864 369.5h6M114 374.5h6M210 374.5h6M228 374.5h24M300 374.5h6M324 374.5h12M348 374.5h6M372 374.5h6M426 374.5h6M648 374.5h6M660 374.5h6M672 374.5h12M714 374.5h6M738 374.5h6M750 374.5h12M810 374.5h6M834 374.5h12M864 374.5h12M138 379.5h6M186 379.5h6M228 379.5h12M246 379.5h6M300 379.5h6M348 379.5h6M360 379.5h12M420 379.5h12M438 379.5h12M654 379.5h18M696 379.5h6M726 379.5h6M756 379.5h6M786 379.5h6M810 379.5h6M888 379.5h6M120 384.5h6M138 384.5h6M210 384.5h6M228 384.5h6M240 384.5h6M288 384.5h6M348 384.5h6M378 384.5h6M408 384.5h6M654 384.5h12M678 384.5h12M726 384.5h6M738 384.5h6M750 384.5h12M786 384.5h6M810 384.5h6M834 384.5h6M186 389.5h6M210 389.5h6M246 389.5h6M288 389.5h6M372 389.5h6M414 389.5h6M666 389.5h12M684 389.5h6M696 389.5h6M714 389.5h6M750 389.5h12M786 389.5h6M810 389.5h6M870 389.5h6M114 394.5h6M126 394.5h6M168 394.5h6M240 394.5h6M282 394.5h6M324 394.5h6M348 394.5h6M372 394.5h6M402 394.5h6M726 394.5h6M738 394.5h6M756 394.5h6M810 394.5h6M840 394.5h6M858 394.5h6M114 399.5h6M126 399.5h6M186 399.5h6M210 399.5h6M234 399.5h18M318 399.5h12M360 399.5h6M384 399.5h12M402 399.5h6M654 399.5h6M666 399.5h6M684 399.5h12M708 399.5h6M744 399.5h6M756 399.5h6M774 399.5h6M786 399.5h6M828 399.5h12M126 404.5h6M138 404.5h6M156 404.5h12M186 404.5h6M210 404.5h6M228 404.5h18M318 404.5h6M336 404.5h6M360 404.5h12M654 404.5h6M666 404.5h6M684 404.5h6M714 404.5h6M726 404.5h6M756 404.5h6M804 404.5h6M834 404.5h6M870 404.5h6M888 404.5h6M114 409.5h6M138 409.5h6M156 409.5h6M174 409.5h12M198 409.5h6M240 409.5h6M306 409.5h6M318 409.5h6M330 409.5h6M348 409.5h24M378 409.5h12M654 409.5h6M666 409.5h6M684 409.5h6M726 409.5h6M744 409.5h24M816 409.5h6M858 409.5h6M888 409.5h6M126 414.5h18M156 414.5h12M186 414.5h6M210 414.5h6M234 414.5h6M288 414.5h6M306 414.5h6M318 414.5h12M354 414.5h6M372 414.5h18M654 414.5h6M678 414.5h12M714 414.5h6M726 414.5h6M744 414.5h6M828 414.5h6M852 414.5h12M888 414.5h12M114 419.5h6M126 419.5h6M186 419.5h6M198 419.5h6M210 419.5h6M240 419.5h12M258 419.5h6M300 419.5h6M330 419.5h6M354 419.5h12M372 419.5h6M384 419.5h6M654 419.5h6M678 419.5h12M708 419.5h6M726 419.5h24M816 419.5h6M828 419.5h12M870 419.5h6M132 424.5h6M168 424.5h6M198 424.5h6M210 424.5h6M240 424.5h6M300 424.5h6M318 424.5h12M354 424.5h6M402 424.5h6M666 424.5h6M678 424.5h6M696 424.5h6M714 424.5h6M744 424.5h6M756 424.5h6M804 424.5h18M846 424.5h6M858 424.5h6M870 424.5h6M888 424.5h6M132 429.5h12M168 429.5h6M186 429.5h6M198 429.5h6M252 429.5h6M270 429.5h6M288 429.5h6M300 429.5h6M318 429.5h6M336 429.5h6M354 429.5h12M378 429.5h6M402 429.5h6M654 429.5h6M696 429.5h6M714 429.5h12M750 429.5h6M774 429.5h6M798 429.5h18M834 429.5h6M846 429.5h6M132 434.5h6M186 434.5h6M198 434.5h6M222 434.5h12M264 434.5h6M300 434.5h6M324 434.5h6M336 434.5h6M354 434.5h12M390 434.5h6M402 434.5h6M678 434.5h12M714 434.5h6M726 434.5h6M738 434.5h24M810 434.5h12M828 434.5h12M846 434.5h6M132 439.5h6M168 439.5h6M186 439.5h6M204 439.5h6M222 439.5h12M258 439.5h6M270 439.5h6M330 439.5h6M342 439.5h12M372 439.5h6M402 439.5h6M690 439.5h30M726 439.5h6M744 439.5h12M792 439.5h6M804 439.5h18M828 439.5h6M846 439.5h12M870 439.5h6M894 439.5h6M114 444.5h6M126 444.5h6M198 444.5h6M210 444.5h6M240 444.5h6M270 444.5h6M300 444.5h6M324 444.5h12M348 444.5h18M384 444.5h6M654 444.5h6M666 444.5h6M684 444.5h6M708 444.5h6M720 444.5h12M744 444.5h6M798 444.5h12M816 444.5h6M828 444.5h6M840 444.5h6M858 444.5h6M870 444.5h6M132 449.5h6M198 449.5h6M210 449.5h6M300 449.5h18M336 449.5h12M360 449.5h6M390 449.5h6M678 449.5h30M714 449.5h18M744 449.5h12M774 449.5h6M792 449.5h6M804 449.5h12M828 449.5h12M852 449.5h12M870 449.5h6M882 449.5h6M90 454.5h6M126 454.5h12M168 454.5h6M180 454.5h6M198 454.5h6M222 454.5h6M240 454.5h6M264 454.5h12M282 454.5h6M318 454.5h6M330 454.5h12M390 454.5h6M684 454.5h18M708 454.5h6M720 454.5h6M750 454.5h6M780 454.5h6M792 454.5h12M816 454.5h6M846 454.5h12M870 454.5h6M90 459.5h6M126 459.5h12M144 459.5h6M168 459.5h6M186 459.5h6M198 459.5h12M222 459.5h6M258 459.5h30M318 459.5h6M330 459.5h12M354 459.5h12M378 459.5h6M654 459.5h6M666 459.5h6M708 459.5h6M750 459.5h6M762 459.5h6M774 459.5h6M810 459.5h6M828 459.5h6M870 459.5h6M882 459.5h18M120 464.5h6M174 464.5h6M186 464.5h6M204 464.5h6M222 464.5h6M258 464.5h6M270 464.5h18M324 464.5h18M354 464.5h6M372 464.5h6M678 464.5h6M702 464.5h18M726 464.5h6M744 464.5h12M774 464.5h6M798 464.5h12M816 464.5h6M828 464.5h12M846 464.5h18M870 464.5h6M882 464.5h6M90 469.5h6M102 469.5h6M156 469.5h6M168 469.5h18M198 469.5h6M276 469.5h6M306 469.5h6M330 469.5h18M354 469.5h12M372 469.5h12M390 469.5h6M702 469.5h12M720 469.5h6M780 469.5h6M798 469.5h12M816 469.5h18M852 469.5h6M894 469.5h6M90 474.5h6M102 474.5h12M132 474.5h6M144 474.5h6M168 474.5h6M204 474.5h6M252 474.5h6M282 474.5h6M306 474.5h12M342 474.5h6M390 474.5h6M678 474.5h6M690 474.5h6M708 474.5h6M726 474.5h6M762 474.5h12M792 474.5h6M810 474.5h18M858 474.5h6M882 474.5h12M102 479.5h6M144 479.5h30M204 479.5h6M216 479.5h6M252 479.5h18M282 479.5h6M300 479.5h6M312 479.5h6M342 479.5h6M354 479.5h6M690 479.5h6M720 479.5h6M768 479.5h12M792 479.5h6M822 479.5h12M852 479.5h12M90 484.5h12M156 484.5h24M222 484.5h6M258 484.5h12M294 484.5h6M312 484.5h6M336 484.5h6M384 484.5h12M702 484.5h12M720 484.5h6M762 484.5h6M792 484.5h6M822 484.5h12M846 484.5h6M894 484.5h6M102 489.5h12M156 489.5h12M180 489.5h6M306 489.5h6M336 489.5h12M390 489.5h6M690 489.5h6M768 489.5h18M792 489.5h6M822 489.5h12M108 494.5h6M156 494.5h6M180 494.5h6M216 494.5h6M252 494.5h6M276 494.5h6M294 494.5h6M306 494.5h6M342 494.5h6M690 494.5h6M702 494.5h6M768 494.5h6M804 494.5h6M822 494.5h6M876 494.5h6M108 499.5h6M150 499.5h12M174 499.5h12M216 499.5h6M270 499.5h6M306 499.5h6M342 499.5h6M666 499.5h6M690 499.5h6M708 499.5h6M720 499.5h6M750 499.5h6M816 499.5h6M852 499.5h12M870 499.5h6M882 499.5h12M96 504.5h12M150 504.5h6M162 504.5h6M216 504.5h6M390 504.5h6M720 504.5h6M750 504.5h6M768 504.5h6M822 504.5h6M882 504.5h6M894 504.5h6M96 509.5h6M162 509.5h6M702 509.5h6M720 509.5h6M768 509.5h6M780 509.5h6M816 509.5h6M96 514.5h6M180 514.5h6M690 514.5h6M720 514.5h6M702 519.5h6M876 519.5h6M780 524.5h6M876 524.5h6M792 534.5h6"/><path stroke="#7d7d7d" d="M462 314.5h6M486 314.5h12M582 314.5h12M600 314.5h12M732 314.5h6M516 319.5h6M558 319.5h6M588 319.5h6M612 319.5h6M138 324.5h6M192 324.5h6M348 324.5h6M450 324.5h18M552 324.5h6M606 324.5h18M732 324.5h6M192 329.5h6M462 329.5h12M492 329.5h6M588 329.5h6M606 329.5h12M408 334.5h6M492 334.5h6M552 334.5h6M588 334.5h6M612 334.5h6M630 334.5h6M732 334.5h6M408 339.5h6M462 339.5h12M588 339.5h6M606 339.5h12M624 339.5h6M636 339.5h6M396 344.5h6M552 344.5h6M606 344.5h6M120 349.5h6M288 349.5h6M408 349.5h6M456 349.5h6M606 349.5h6M624 349.5h6M636 349.5h12M138 354.5h6M408 354.5h6M450 354.5h6M630 354.5h12M732 354.5h6M288 359.5h6M408 359.5h6M468 359.5h6M624 359.5h12M642 359.5h12M660 359.5h6M672 359.5h6M786 359.5h6M840 359.5h6M120 364.5h6M138 364.5h6M408 364.5h6M438 364.5h6M450 364.5h6M606 364.5h6M636 364.5h6M672 364.5h6M732 364.5h6M864 364.5h6M120 369.5h6M366 369.5h6M396 369.5h6M408 369.5h6M420 369.5h6M438 369.5h6M450 369.5h6M624 369.5h6M636 369.5h6M648 369.5h6M138 374.5h6M288 374.5h6M366 374.5h6M396 374.5h6M408 374.5h6M420 374.5h6M432 374.5h6M444 374.5h12M624 374.5h6M642 374.5h6M732 374.5h6M786 374.5h6M120 379.5h6M288 379.5h6M396 379.5h6M414 379.5h6M456 379.5h6M630 379.5h6M642 379.5h6M672 379.5h6M732 379.5h6M834 379.5h6M864 379.5h6M114 384.5h6M366 384.5h6M444 384.5h6M636 384.5h6M648 384.5h6M840 384.5h6M864 384.5h6M120 389.5h6M138 389.5h6M348 389.5h6M366 389.5h6M396 389.5h12M420 389.5h18M606 389.5h6M648 389.5h18M738 389.5h6M834 389.5h6M864 389.5h6M120 394.5h6M138 394.5h6M234 394.5h6M288 394.5h6M366 394.5h6M396 394.5h6M414 394.5h18M642 394.5h24M672 394.5h6M684 394.5h6M732 394.5h6M786 394.5h6M864 394.5h6M138 399.5h6M168 399.5h6M228 399.5h6M348 399.5h6M366 399.5h6M420 399.5h6M444 399.5h6M648 399.5h6M660 399.5h6M672 399.5h6M714 399.5h6M732 399.5h12M810 399.5h6M114 404.5h12M168 404.5h6M246 404.5h6M288 404.5h6M348 404.5h6M372 404.5h6M414 404.5h12M648 404.5h6M660 404.5h6M672 404.5h12M732 404.5h12M786 404.5h6M840 404.5h6M162 409.5h12M228 409.5h12M246 409.5h6M288 409.5h6M372 409.5h6M402 409.5h6M672 409.5h12M732 409.5h6M786 409.5h6M834 409.5h12M870 409.5h6M114 414.5h12M168 414.5h6M228 414.5h6M240 414.5h12M300 414.5h6M348 414.5h6M366 414.5h6M402 414.5h6M672 414.5h6M732 414.5h12M750 414.5h12M786 414.5h6M834 414.5h12M864 414.5h6M138 419.5h6M234 419.5h6M288 419.5h6M324 419.5h6M366 419.5h6M414 419.5h18M642 419.5h6M666 419.5h12M756 419.5h6M786 419.5h6M810 419.5h6M864 419.5h6M114 424.5h18M186 424.5h6M228 424.5h12M246 424.5h6M288 424.5h6M348 424.5h6M372 424.5h6M384 424.5h6M654 424.5h6M684 424.5h6M726 424.5h6M738 424.5h6M786 424.5h6M834 424.5h6M864 424.5h6M114 429.5h6M210 429.5h6M228 429.5h24M348 429.5h6M372 429.5h6M678 429.5h12M726 429.5h18M756 429.5h6M114 434.5h18M210 434.5h6M240 434.5h6M288 434.5h6M318 434.5h6M366 434.5h12M654 434.5h6M666 434.5h6M732 434.5h6M840 434.5h6M114 439.5h18M198 439.5h6M210 439.5h6M234 439.5h18M288 439.5h6M300 439.5h6M318 439.5h6M354 439.5h12M666 439.5h6M684 439.5h6M732 439.5h12M756 439.5h6M786 439.5h6M834 439.5h6M186 444.5h6M228 444.5h6M246 444.5h6M264 444.5h6M288 444.5h6M318 444.5h6M366 444.5h12M648 444.5h6M678 444.5h6M738 444.5h6M756 444.5h6M786 444.5h6M834 444.5h6M90 449.5h6M114 449.5h6M186 449.5h6M204 449.5h6M270 449.5h6M288 449.5h6M324 449.5h6M348 449.5h6M372 449.5h6M384 449.5h6M402 449.5h6M672 449.5h6M738 449.5h6M756 449.5h6M816 449.5h6M864 449.5h6M114 454.5h6M186 454.5h6M210 454.5h6M228 454.5h12M300 454.5h6M324 454.5h6M348 454.5h6M360 454.5h6M372 454.5h6M384 454.5h6M402 454.5h6M654 454.5h6M666 454.5h6M678 454.5h6M714 454.5h6M726 454.5h6M744 454.5h6M810 454.5h6M834 454.5h6M858 454.5h6M114 459.5h6M138 459.5h6M210 459.5h6M228 459.5h6M240 459.5h12M288 459.5h6M300 459.5h6M324 459.5h6M348 459.5h6M372 459.5h6M384 459.5h6M402 459.5h6M678 459.5h12M696 459.5h6M726 459.5h6M744 459.5h6M786 459.5h6M834 459.5h12M858 459.5h6M114 464.5h6M126 464.5h6M138 464.5h6M210 464.5h6M228 464.5h6M240 464.5h12M300 464.5h6M348 464.5h6M360 464.5h12M384 464.5h6M402 464.5h6M666 464.5h12M684 464.5h6M696 464.5h6M738 464.5h6M756 464.5h6M786 464.5h6M810 464.5h6M894 464.5h6M114 469.5h6M126 469.5h18M186 469.5h6M210 469.5h6M222 469.5h12M240 469.5h6M270 469.5h6M300 469.5h6M318 469.5h6M384 469.5h6M402 469.5h6M666 469.5h24M696 469.5h6M714 469.5h6M726 469.5h6M744 469.5h6M792 469.5h6M846 469.5h6M858 469.5h6M870 469.5h6M120 474.5h6M186 474.5h6M198 474.5h6M222 474.5h12M258 474.5h18M330 474.5h12M348 474.5h6M360 474.5h6M378 474.5h12M402 474.5h6M696 474.5h6M714 474.5h6M738 474.5h18M774 474.5h6M798 474.5h12M828 474.5h18M870 474.5h6M894 474.5h6M90 479.5h6M126 479.5h12M174 479.5h18M198 479.5h6M210 479.5h6M222 479.5h12M240 479.5h6M276 479.5h6M288 479.5h6M306 479.5h6M330 479.5h12M360 479.5h6M372 479.5h18M402 479.5h6M654 479.5h6M678 479.5h12M696 479.5h6M708 479.5h12M726 479.5h6M744 479.5h12M798 479.5h24M834 479.5h6M870 479.5h6M882 479.5h6M108 484.5h12M126 484.5h12M144 484.5h6M186 484.5h6M252 484.5h6M270 484.5h18M306 484.5h6M330 484.5h6M354 484.5h12M372 484.5h12M402 484.5h6M666 484.5h6M684 484.5h18M714 484.5h6M738 484.5h24M774 484.5h6M798 484.5h12M816 484.5h6M852 484.5h12M870 484.5h6M882 484.5h12M90 489.5h6M126 489.5h12M144 489.5h6M168 489.5h6M198 489.5h12M222 489.5h6M258 489.5h30M312 489.5h12M330 489.5h6M354 489.5h12M378 489.5h6M654 489.5h6M678 489.5h6M696 489.5h30M750 489.5h6M762 489.5h6M804 489.5h6M816 489.5h6M834 489.5h6M846 489.5h12M870 489.5h6M882 489.5h12M96 494.5h12M132 494.5h6M168 494.5h6M204 494.5h6M222 494.5h6M258 494.5h12M336 494.5h6M360 494.5h6M384 494.5h12M654 494.5h6M696 494.5h6M708 494.5h18M744 494.5h18M774 494.5h12M792 494.5h12M828 494.5h6M852 494.5h12M888 494.5h12M90 499.5h6M102 499.5h6M114 499.5h6M144 499.5h6M162 499.5h12M204 499.5h6M252 499.5h6M264 499.5h6M276 499.5h12M312 499.5h6M336 499.5h6M378 499.5h6M390 499.5h6M654 499.5h6M678 499.5h6M696 499.5h12M714 499.5h6M762 499.5h6M774 499.5h12M792 499.5h24M822 499.5h12M846 499.5h6M894 499.5h6M90 504.5h6M144 504.5h6M174 504.5h12M252 504.5h24M282 504.5h6M306 504.5h12M342 504.5h6M354 504.5h12M696 504.5h24M738 504.5h12M762 504.5h6M792 504.5h18M828 504.5h6M846 504.5h12M870 504.5h6M888 504.5h6M90 509.5h6M102 509.5h12M150 509.5h12M168 509.5h12M204 509.5h6M216 509.5h12M258 509.5h6M276 509.5h6M354 509.5h6M690 509.5h6M708 509.5h6M750 509.5h6M762 509.5h6M774 509.5h6M792 509.5h6M828 509.5h6M846 509.5h18M882 509.5h6M894 509.5h6M150 514.5h18M270 514.5h6M306 514.5h6M390 514.5h6M672 514.5h6M702 514.5h18M762 514.5h24M804 514.5h6M816 514.5h6M870 514.5h30M96 519.5h6M150 519.5h6M162 519.5h6M174 519.5h6M252 519.5h6M390 519.5h6M402 519.5h6M678 519.5h6M690 519.5h6M720 519.5h6M762 519.5h12M822 519.5h12M852 519.5h12M882 519.5h6M252 524.5h6M702 524.5h6M720 524.5h6M822 524.5h6M846 524.5h6M888 524.5h6M690 529.5h6M702 529.5h6M762 529.5h24M816 529.5h6M876 529.5h12M96 534.5h6M690 534.5h6M702 534.5h6M720 534.5h6M780 534.5h6M876 534.5h12M876 539.5h6M744 544.5h6"/><path stroke="#828282" d="M474 314.5h12M510 314.5h12M528 314.5h12M546 314.5h6M558 314.5h18M594 314.5h6M474 319.5h24M510 319.5h6M528 319.5h12M552 319.5h6M570 319.5h6M582 319.5h6M594 319.5h12M618 319.5h6M480 324.5h6M492 324.5h6M516 324.5h6M534 324.5h6M564 324.5h12M588 324.5h6M600 324.5h6M486 329.5h6M534 329.5h6M558 329.5h12M600 329.5h6M480 334.5h6M504 334.5h6M516 334.5h6M594 334.5h6M606 334.5h6M618 334.5h6M192 339.5h6M480 339.5h6M516 339.5h6M558 339.5h6M570 339.5h6M618 339.5h6M192 344.5h6M468 344.5h6M480 344.5h6M492 344.5h6M558 344.5h6M582 344.5h12M612 344.5h6M192 349.5h6M468 349.5h6M480 349.5h6M570 349.5h6M612 349.5h6M192 354.5h6M462 354.5h6M492 354.5h6M552 354.5h6M606 354.5h6M624 354.5h6M192 359.5h6M450 359.5h6M462 359.5h6M492 359.5h6M534 359.5h6M552 359.5h6M570 359.5h6M192 364.5h6M396 364.5h6M462 364.5h12M456 369.5h18M492 369.5h6M552 369.5h6M612 369.5h6M192 374.5h6M438 374.5h6M456 374.5h18M588 374.5h6M606 374.5h6M630 374.5h12M192 379.5h6M408 379.5h6M432 379.5h6M450 379.5h6M468 379.5h6M624 379.5h6M636 379.5h6M648 379.5h6M840 379.5h6M192 384.5h6M438 384.5h6M450 384.5h18M606 384.5h6M624 384.5h12M642 384.5h6M672 384.5h6M732 384.5h6M192 389.5h6M408 389.5h6M438 389.5h12M456 389.5h18M624 389.5h24M732 389.5h6M192 394.5h6M408 394.5h6M438 394.5h6M456 394.5h6M636 394.5h6M120 399.5h6M288 399.5h6M396 399.5h6M408 399.5h12M426 399.5h12M840 399.5h6M864 399.5h6M192 404.5h6M396 404.5h6M426 404.5h6M438 404.5h12M624 404.5h6M636 404.5h12M864 404.5h6M120 409.5h6M192 409.5h6M396 409.5h6M408 409.5h24M648 409.5h6M660 409.5h6M738 409.5h6M864 409.5h6M396 414.5h6M408 414.5h24M636 414.5h6M648 414.5h6M660 414.5h6M120 419.5h6M192 419.5h6M396 419.5h6M408 419.5h6M444 419.5h6M648 419.5h6M660 419.5h6M840 419.5h6M138 424.5h6M366 424.5h6M420 424.5h12M648 424.5h6M660 424.5h6M672 424.5h6M732 424.5h6M840 424.5h6M120 429.5h6M192 429.5h6M366 429.5h6M396 429.5h6M642 429.5h12M660 429.5h6M672 429.5h6M786 429.5h6M840 429.5h6M138 434.5h6M234 434.5h6M246 434.5h6M348 434.5h6M396 434.5h6M414 434.5h6M642 434.5h6M672 434.5h6M786 434.5h6M138 439.5h6M192 439.5h6M366 439.5h6M654 439.5h12M672 439.5h12M840 439.5h6M864 439.5h6M120 444.5h6M138 444.5h6M192 444.5h6M234 444.5h6M408 444.5h6M642 444.5h6M660 444.5h6M672 444.5h6M732 444.5h6M864 444.5h6M120 449.5h6M138 449.5h6M228 449.5h6M240 449.5h12M318 449.5h6M366 449.5h6M396 449.5h6M648 449.5h24M732 449.5h6M786 449.5h6M840 449.5h6M120 454.5h6M138 454.5h6M246 454.5h6M366 454.5h6M648 454.5h6M672 454.5h6M732 454.5h12M756 454.5h6M786 454.5h6M840 454.5h6M192 459.5h6M234 459.5h6M366 459.5h6M642 459.5h6M660 459.5h6M672 459.5h6M732 459.5h12M756 459.5h6M864 459.5h6M234 464.5h6M318 464.5h6M396 464.5h6M414 464.5h6M642 464.5h6M654 464.5h12M732 464.5h6M840 464.5h6M864 464.5h6M120 469.5h6M246 469.5h6M288 469.5h6M348 469.5h6M648 469.5h18M756 469.5h6M786 469.5h6M810 469.5h6M834 469.5h12M114 474.5h6M126 474.5h6M138 474.5h6M210 474.5h6M234 474.5h12M276 474.5h6M300 474.5h6M354 474.5h6M372 474.5h6M642 474.5h6M660 474.5h12M684 474.5h6M732 474.5h6M756 474.5h6M864 474.5h6M114 479.5h6M138 479.5h6M234 479.5h6M246 479.5h6M270 479.5h6M324 479.5h6M348 479.5h6M660 479.5h18M732 479.5h12M756 479.5h6M786 479.5h6M840 479.5h6M120 484.5h6M198 484.5h6M210 484.5h6M228 484.5h24M288 484.5h6M300 484.5h6M318 484.5h12M348 484.5h6M366 484.5h6M648 484.5h12M678 484.5h6M732 484.5h6M786 484.5h6M810 484.5h6M114 489.5h6M138 489.5h6M174 489.5h6M186 489.5h6M210 489.5h6M246 489.5h6M288 489.5h6M348 489.5h6M372 489.5h6M384 489.5h6M402 489.5h6M666 489.5h6M684 489.5h6M726 489.5h18M756 489.5h6M786 489.5h6M798 489.5h6M810 489.5h6M840 489.5h6M858 489.5h12M90 494.5h6M114 494.5h18M138 494.5h12M186 494.5h6M198 494.5h6M246 494.5h6M270 494.5h6M282 494.5h12M300 494.5h6M312 494.5h24M354 494.5h6M366 494.5h6M378 494.5h6M402 494.5h6M666 494.5h6M678 494.5h12M726 494.5h6M762 494.5h6M786 494.5h6M810 494.5h12M834 494.5h6M846 494.5h6M870 494.5h6M120 499.5h18M186 499.5h6M198 499.5h6M222 499.5h6M234 499.5h6M258 499.5h6M300 499.5h6M330 499.5h6M354 499.5h12M372 499.5h6M402 499.5h6M648 499.5h6M684 499.5h6M726 499.5h6M738 499.5h12M864 499.5h6M108 504.5h12M126 504.5h12M156 504.5h6M168 504.5h6M198 504.5h18M222 504.5h6M240 504.5h6M276 504.5h6M318 504.5h6M336 504.5h6M378 504.5h12M654 504.5h6M672 504.5h18M774 504.5h6M810 504.5h12M834 504.5h6M858 504.5h6M126 509.5h12M144 509.5h6M180 509.5h12M198 509.5h6M252 509.5h6M264 509.5h12M282 509.5h6M294 509.5h6M312 509.5h12M336 509.5h12M360 509.5h6M372 509.5h24M402 509.5h6M654 509.5h6M666 509.5h6M678 509.5h12M696 509.5h6M714 509.5h6M732 509.5h6M744 509.5h6M798 509.5h12M822 509.5h6M834 509.5h6M870 509.5h6M888 509.5h6M90 514.5h6M102 514.5h6M174 514.5h6M186 514.5h6M204 514.5h6M222 514.5h12M252 514.5h18M276 514.5h12M294 514.5h6M312 514.5h6M330 514.5h6M342 514.5h6M360 514.5h6M378 514.5h12M642 514.5h6M654 514.5h6M666 514.5h6M678 514.5h12M696 514.5h6M726 514.5h6M738 514.5h24M792 514.5h12M810 514.5h6M822 514.5h18M846 514.5h18M90 519.5h6M102 519.5h12M156 519.5h6M180 519.5h6M258 519.5h12M294 519.5h6M312 519.5h6M330 519.5h6M360 519.5h6M378 519.5h12M642 519.5h6M654 519.5h6M666 519.5h6M684 519.5h6M696 519.5h6M708 519.5h6M726 519.5h6M750 519.5h6M774 519.5h12M792 519.5h30M834 519.5h18M870 519.5h6M894 519.5h6M96 524.5h18M180 524.5h6M216 524.5h6M258 524.5h6M294 524.5h6M390 524.5h6M402 524.5h6M654 524.5h6M666 524.5h6M678 524.5h24M714 524.5h6M744 524.5h6M762 524.5h18M792 524.5h24M828 524.5h6M852 524.5h12M870 524.5h6M882 524.5h6M894 524.5h6M96 529.5h6M150 529.5h18M180 529.5h6M216 529.5h6M294 529.5h6M306 529.5h12M390 529.5h6M402 529.5h6M666 529.5h6M678 529.5h6M696 529.5h6M708 529.5h18M750 529.5h6M792 529.5h12M822 529.5h12M852 529.5h6M888 529.5h12M90 534.5h6M108 534.5h6M150 534.5h12M216 534.5h6M252 534.5h6M282 534.5h6M294 534.5h6M342 534.5h6M390 534.5h6M672 534.5h12M708 534.5h6M744 534.5h30M798 534.5h18M822 534.5h12M852 534.5h12M894 534.5h6M96 539.5h6M390 539.5h6M690 539.5h12M708 539.5h6M720 539.5h6M762 539.5h24M798 539.5h12M822 539.5h12M852 539.5h12M882 539.5h6M894 539.5h6M150 544.5h12M390 544.5h6M678 544.5h6M690 544.5h6M708 544.5h6M852 544.5h6M876 544.5h12M666 549.5h18M696 549.5h6M768 549.5h6M876 549.5h6M792 554.5h6M720 559.5h6M876 559.5h6M96 564.5h6M150 564.5h6M690 564.5h6M876 579.5h6"/><path stroke="#888888" d="M498 314.5h12M522 314.5h6M576 314.5h6M498 319.5h12M522 319.5h6M540 319.5h12M564 319.5h6M486 324.5h6M498 324.5h6M510 324.5h6M522 324.5h12M546 324.5h6M558 324.5h6M576 324.5h12M594 324.5h6M504 329.5h18M528 329.5h6M540 329.5h6M570 329.5h6M582 329.5h6M594 329.5h6M618 329.5h6M192 334.5h6M486 334.5h6M510 334.5h6M522 334.5h18M558 334.5h18M600 334.5h6M492 339.5h6M510 339.5h6M522 339.5h6M534 339.5h6M552 339.5h6M564 339.5h6M582 339.5h6M594 339.5h12M474 344.5h6M516 344.5h6M528 344.5h12M570 344.5h6M594 344.5h12M486 349.5h12M516 349.5h6M528 349.5h6M552 349.5h18M582 349.5h18M618 349.5h6M516 354.5h6M534 354.5h6M558 354.5h18M588 354.5h6M612 354.5h12M480 359.5h6M522 359.5h6M558 359.5h6M588 359.5h6M606 359.5h18M636 359.5h6M480 364.5h6M492 364.5h6M510 364.5h12M552 364.5h12M588 364.5h6M612 364.5h12M192 369.5h6M588 369.5h24M618 369.5h6M492 374.5h6M552 374.5h12M570 374.5h6M612 374.5h6M462 379.5h6M480 379.5h6M492 379.5h6M552 379.5h6M588 379.5h6M606 379.5h12M396 384.5h6M432 384.5h6M468 384.5h6M552 384.5h6M588 384.5h6M600 384.5h6M450 389.5h6M492 389.5h6M516 389.5h6M534 389.5h6M558 389.5h6M570 389.5h6M588 389.5h6M612 389.5h6M432 394.5h6M444 394.5h6M462 394.5h6M588 394.5h6M606 394.5h12M624 394.5h12M192 399.5h6M438 399.5h6M450 399.5h12M552 399.5h6M606 399.5h6M624 399.5h24M408 404.5h6M432 404.5h6M456 404.5h6M468 404.5h6M552 404.5h6M630 404.5h6M432 409.5h12M456 409.5h12M624 409.5h24M192 414.5h6M432 414.5h18M630 414.5h6M642 414.5h6M432 419.5h12M456 419.5h6M552 419.5h6M624 419.5h18M192 424.5h6M396 424.5h6M408 424.5h12M438 424.5h6M624 424.5h6M642 424.5h6M408 429.5h12M426 429.5h6M624 429.5h6M864 429.5h6M192 434.5h6M420 434.5h12M648 434.5h6M660 434.5h6M396 439.5h6M414 439.5h6M426 439.5h6M642 439.5h12M396 444.5h6M414 444.5h18M444 444.5h6M234 449.5h6M414 449.5h6M642 449.5h6M192 454.5h6M288 454.5h6M396 454.5h6M408 454.5h6M636 454.5h12M660 454.5h6M864 454.5h6M120 459.5h6M396 459.5h6M408 459.5h6M648 459.5h6M288 464.5h6M408 464.5h6M648 464.5h6M192 469.5h6M234 469.5h6M324 469.5h6M366 469.5h6M396 469.5h6M636 469.5h12M732 469.5h12M864 469.5h6M246 474.5h6M288 474.5h6M318 474.5h12M366 474.5h6M396 474.5h6M648 474.5h12M672 474.5h6M786 474.5h6M120 479.5h6M318 479.5h6M414 479.5h6M642 479.5h12M864 479.5h6M138 484.5h6M660 484.5h6M672 484.5h6M726 484.5h6M834 484.5h12M864 484.5h6M228 489.5h18M300 489.5h6M324 489.5h6M366 489.5h6M396 489.5h6M642 489.5h12M660 489.5h6M672 489.5h6M744 489.5h6M210 494.5h6M228 494.5h18M348 494.5h6M372 494.5h6M396 494.5h6M642 494.5h12M660 494.5h6M672 494.5h6M732 494.5h12M840 494.5h6M864 494.5h6M138 499.5h6M192 499.5h6M210 499.5h6M228 499.5h6M240 499.5h12M288 499.5h6M318 499.5h12M348 499.5h6M366 499.5h6M384 499.5h6M408 499.5h12M624 499.5h6M642 499.5h6M672 499.5h6M732 499.5h6M756 499.5h6M786 499.5h6M834 499.5h12M120 504.5h6M228 504.5h12M246 504.5h6M288 504.5h6M300 504.5h6M324 504.5h12M348 504.5h6M366 504.5h6M402 504.5h6M642 504.5h12M660 504.5h12M726 504.5h12M756 504.5h6M786 504.5h6M840 504.5h6M210 509.5h6M228 509.5h18M288 509.5h6M306 509.5h6M330 509.5h6M348 509.5h6M366 509.5h6M660 509.5h6M672 509.5h6M726 509.5h6M738 509.5h6M756 509.5h6M786 509.5h6M810 509.5h6M840 509.5h6M864 509.5h6M108 514.5h6M126 514.5h12M144 514.5h6M168 514.5h6M210 514.5h12M300 514.5h6M336 514.5h6M354 514.5h6M366 514.5h12M402 514.5h6M648 514.5h6M660 514.5h6M732 514.5h6M864 514.5h6M132 519.5h6M144 519.5h6M168 519.5h6M198 519.5h12M216 519.5h12M240 519.5h6M270 519.5h18M300 519.5h12M342 519.5h6M372 519.5h6M672 519.5h6M714 519.5h6M738 519.5h12M756 519.5h6M786 519.5h6M864 519.5h6M888 519.5h6M90 524.5h6M144 524.5h24M204 524.5h6M264 524.5h12M282 524.5h6M312 524.5h6M330 524.5h18M360 524.5h12M378 524.5h6M660 524.5h6M672 524.5h6M708 524.5h6M738 524.5h6M750 524.5h6M786 524.5h6M816 524.5h6M840 524.5h6M864 524.5h6M108 529.5h6M132 529.5h6M174 529.5h6M222 529.5h6M252 529.5h6M282 529.5h6M318 529.5h6M342 529.5h6M360 529.5h6M378 529.5h12M654 529.5h6M672 529.5h6M684 529.5h6M726 529.5h6M738 529.5h12M756 529.5h6M786 529.5h6M804 529.5h12M846 529.5h6M858 529.5h6M870 529.5h6M144 534.5h6M162 534.5h6M180 534.5h6M198 534.5h12M258 534.5h12M306 534.5h12M330 534.5h6M354 534.5h12M378 534.5h6M402 534.5h6M654 534.5h6M666 534.5h6M684 534.5h6M696 534.5h6M714 534.5h6M732 534.5h12M774 534.5h6M786 534.5h6M816 534.5h6M834 534.5h18M870 534.5h6M888 534.5h6M102 539.5h12M150 539.5h18M174 539.5h12M216 539.5h6M252 539.5h6M264 539.5h6M294 539.5h6M312 539.5h6M330 539.5h18M372 539.5h18M666 539.5h6M678 539.5h6M702 539.5h6M714 539.5h6M726 539.5h6M744 539.5h12M792 539.5h6M810 539.5h12M840 539.5h12M870 539.5h6M888 539.5h6M96 544.5h18M162 544.5h6M174 544.5h6M252 544.5h6M294 544.5h6M342 544.5h6M378 544.5h6M666 544.5h6M684 544.5h6M696 544.5h12M714 544.5h12M750 544.5h6M762 544.5h24M792 544.5h18M816 544.5h6M828 544.5h6M858 544.5h6M894 544.5h6M96 549.5h18M144 549.5h6M156 549.5h6M174 549.5h6M216 549.5h6M282 549.5h6M294 549.5h6M372 549.5h12M390 549.5h6M402 549.5h6M690 549.5h6M702 549.5h12M720 549.5h6M750 549.5h6M762 549.5h6M780 549.5h6M804 549.5h6M822 549.5h6M852 549.5h6M888 549.5h12M96 554.5h6M150 554.5h6M162 554.5h6M294 554.5h6M390 554.5h6M666 554.5h6M678 554.5h6M702 554.5h12M720 554.5h6M780 554.5h6M798 554.5h6M810 554.5h6M822 554.5h6M876 554.5h6M102 559.5h12M156 559.5h12M294 559.5h6M402 559.5h6M672 559.5h6M684 559.5h12M702 559.5h6M768 559.5h6M780 559.5h6M162 564.5h6M294 564.5h6M390 564.5h6M402 564.5h6M666 564.5h6M678 564.5h6M852 564.5h6M876 564.5h6M150 569.5h6M162 569.5h6M150 574.5h6M96 579.5h6M108 579.5h6M156 579.5h12M204 579.5h6M654 579.5h6M150 584.5h6M162 584.5h6M294 584.5h6M390 584.5h6M312 589.5h6M690 589.5h6M876 589.5h6"/><path stroke="#8d8d8d" d="M540 314.5h6M576 319.5h6M474 324.5h6M504 324.5h6M540 324.5h6M474 329.5h12M498 329.5h6M522 329.5h6M546 329.5h6M576 329.5h6M498 334.5h6M546 334.5h6M576 334.5h12M486 339.5h6M504 339.5h6M528 339.5h6M540 339.5h12M576 339.5h6M486 344.5h6M504 344.5h12M522 344.5h6M564 344.5h6M618 344.5h6M504 349.5h12M522 349.5h6M534 349.5h6M600 349.5h6M480 354.5h12M510 354.5h6M522 354.5h12M546 354.5h6M582 354.5h6M594 354.5h12M486 359.5h6M510 359.5h12M528 359.5h6M564 359.5h6M582 359.5h6M594 359.5h12M486 364.5h6M528 364.5h12M570 364.5h6M582 364.5h6M600 364.5h6M480 369.5h12M510 369.5h30M546 369.5h6M564 369.5h6M582 369.5h6M480 374.5h6M516 374.5h6M528 374.5h12M564 374.5h6M594 374.5h12M618 374.5h6M516 379.5h12M534 379.5h6M558 379.5h12M582 379.5h6M600 379.5h6M618 379.5h6M492 384.5h6M504 384.5h6M516 384.5h6M528 384.5h12M558 384.5h18M594 384.5h6M612 384.5h6M480 389.5h6M522 389.5h6M546 389.5h12M600 389.5h6M450 394.5h6M468 394.5h6M480 394.5h6M510 394.5h12M534 394.5h6M552 394.5h24M600 394.5h6M462 399.5h6M480 399.5h6M528 399.5h6M558 399.5h6M588 399.5h6M612 399.5h6M450 404.5h6M462 404.5h6M492 404.5h6M516 404.5h6M558 404.5h6M612 404.5h6M444 409.5h6M468 409.5h6M552 409.5h6M564 409.5h12M606 409.5h6M456 414.5h18M528 414.5h6M606 414.5h6M618 414.5h12M462 419.5h12M492 419.5h6M570 419.5h6M606 419.5h6M444 424.5h6M456 424.5h18M492 424.5h6M552 424.5h6M606 424.5h6M630 424.5h12M420 429.5h6M432 429.5h18M492 429.5h6M558 429.5h6M630 429.5h12M408 434.5h6M438 434.5h12M462 434.5h12M624 434.5h18M864 434.5h6M408 439.5h6M432 439.5h6M624 439.5h18M624 444.5h6M636 444.5h6M192 449.5h6M408 449.5h6M420 449.5h12M606 449.5h6M636 449.5h6M414 454.5h18M624 454.5h12M414 459.5h12M624 459.5h18M192 464.5h6M420 464.5h12M636 464.5h6M408 469.5h12M624 469.5h6M192 474.5h6M408 474.5h18M606 474.5h6M630 474.5h6M192 479.5h6M366 479.5h6M396 479.5h6M408 479.5h6M420 479.5h6M630 479.5h12M192 484.5h6M414 484.5h6M624 484.5h6M636 484.5h12M120 489.5h6M192 489.5h6M408 489.5h12M636 489.5h6M408 494.5h12M630 494.5h12M396 499.5h6M660 499.5h6M138 504.5h6M186 504.5h12M372 504.5h6M396 504.5h6M408 504.5h12M864 504.5h6M114 509.5h12M138 509.5h6M192 509.5h6M246 509.5h6M300 509.5h6M324 509.5h6M630 509.5h24M114 514.5h12M138 514.5h6M198 514.5h6M240 514.5h6M288 514.5h6M318 514.5h12M348 514.5h6M396 514.5h6M408 514.5h6M786 514.5h6M840 514.5h6M114 519.5h18M138 519.5h6M186 519.5h6M210 519.5h6M228 519.5h12M288 519.5h6M318 519.5h12M336 519.5h6M348 519.5h12M366 519.5h6M648 519.5h6M120 524.5h18M168 524.5h12M186 524.5h6M198 524.5h6M210 524.5h6M222 524.5h6M234 524.5h6M276 524.5h6M288 524.5h6M306 524.5h6M318 524.5h12M348 524.5h12M372 524.5h6M384 524.5h6M396 524.5h6M726 524.5h6M756 524.5h6M834 524.5h6M90 529.5h6M102 529.5h6M144 529.5h6M168 529.5h6M186 529.5h6M198 529.5h18M240 529.5h6M258 529.5h24M300 529.5h6M324 529.5h18M348 529.5h6M372 529.5h6M660 529.5h6M732 529.5h6M834 529.5h12M864 529.5h6M102 534.5h6M114 534.5h6M126 534.5h18M168 534.5h12M222 534.5h6M240 534.5h6M270 534.5h12M300 534.5h6M318 534.5h6M336 534.5h6M372 534.5h6M384 534.5h6M660 534.5h6M864 534.5h6M90 539.5h6M126 539.5h6M138 539.5h12M204 539.5h12M222 539.5h6M258 539.5h6M270 539.5h18M306 539.5h6M318 539.5h6M360 539.5h6M402 539.5h6M654 539.5h12M672 539.5h6M684 539.5h6M732 539.5h12M756 539.5h6M786 539.5h6M834 539.5h6M90 544.5h6M144 544.5h6M168 544.5h6M180 544.5h6M198 544.5h12M216 544.5h6M282 544.5h6M306 544.5h12M336 544.5h6M354 544.5h12M372 544.5h6M384 544.5h6M402 544.5h6M654 544.5h12M672 544.5h6M726 544.5h6M786 544.5h6M810 544.5h6M822 544.5h6M834 544.5h18M870 544.5h6M888 544.5h6M90 549.5h6M150 549.5h6M162 549.5h6M180 549.5h6M204 549.5h6M252 549.5h6M270 549.5h12M306 549.5h18M330 549.5h12M384 549.5h6M660 549.5h6M684 549.5h6M714 549.5h6M726 549.5h6M744 549.5h6M774 549.5h6M792 549.5h12M810 549.5h12M828 549.5h6M840 549.5h12M858 549.5h6M870 549.5h6M882 549.5h6M102 554.5h12M132 554.5h6M156 554.5h6M174 554.5h12M216 554.5h12M258 554.5h6M312 554.5h6M342 554.5h6M354 554.5h6M378 554.5h12M402 554.5h6M660 554.5h6M672 554.5h6M690 554.5h12M744 554.5h12M762 554.5h18M786 554.5h6M804 554.5h6M816 554.5h6M828 554.5h6M846 554.5h12M882 554.5h6M894 554.5h6M90 559.5h12M132 559.5h6M150 559.5h6M174 559.5h12M204 559.5h6M252 559.5h6M282 559.5h6M312 559.5h6M336 559.5h12M384 559.5h12M666 559.5h6M678 559.5h6M696 559.5h6M744 559.5h12M762 559.5h6M774 559.5h6M786 559.5h12M816 559.5h12M840 559.5h6M852 559.5h6M882 559.5h6M102 564.5h12M126 564.5h6M156 564.5h6M174 564.5h6M204 564.5h6M216 564.5h6M252 564.5h6M276 564.5h6M306 564.5h6M330 564.5h6M342 564.5h6M378 564.5h12M672 564.5h6M696 564.5h6M768 564.5h18M792 564.5h6M804 564.5h6M822 564.5h6M858 564.5h6M882 564.5h6M894 564.5h6M96 569.5h12M174 569.5h6M204 569.5h6M216 569.5h6M270 569.5h6M282 569.5h6M294 569.5h6M324 569.5h6M378 569.5h6M402 569.5h6M666 569.5h6M678 569.5h6M696 569.5h6M720 569.5h6M768 569.5h6M792 569.5h6M822 569.5h6M882 569.5h6M96 574.5h18M156 574.5h6M216 574.5h6M252 574.5h6M294 574.5h6M306 574.5h6M330 574.5h6M672 574.5h24M702 574.5h6M744 574.5h6M792 574.5h6M852 574.5h6M876 574.5h6M90 579.5h6M102 579.5h6M150 579.5h6M168 579.5h12M216 579.5h12M258 579.5h6M294 579.5h6M306 579.5h6M378 579.5h6M390 579.5h6M402 579.5h6M666 579.5h6M678 579.5h6M690 579.5h18M768 579.5h6M780 579.5h6M804 579.5h6M852 579.5h6M96 584.5h12M144 584.5h6M156 584.5h6M180 584.5h6M216 584.5h6M252 584.5h6M264 584.5h6M282 584.5h6M312 584.5h6M360 584.5h6M384 584.5h6M402 584.5h6M690 584.5h6M702 584.5h6M768 584.5h6M780 584.5h6M828 584.5h6M876 584.5h12M90 589.5h12M144 589.5h12M162 589.5h6M174 589.5h12M252 589.5h12M270 589.5h18M294 589.5h6M360 589.5h6M378 589.5h6M402 589.5h6M654 589.5h6M666 589.5h18M696 589.5h12M762 589.5h12M816 589.5h6M882 589.5h6"/><path stroke="#929292" d="M474 334.5h6M540 334.5h6M474 339.5h6M498 339.5h6M498 344.5h6M540 344.5h12M576 344.5h6M474 349.5h6M498 349.5h6M540 349.5h12M498 354.5h12M540 354.5h6M576 354.5h6M474 359.5h6M498 359.5h12M540 359.5h12M576 359.5h6M498 364.5h12M522 364.5h6M540 364.5h12M564 364.5h6M576 364.5h6M594 364.5h6M474 369.5h6M504 369.5h6M540 369.5h6M558 369.5h6M570 369.5h12M486 374.5h6M498 374.5h18M522 374.5h6M546 374.5h6M582 374.5h6M474 379.5h6M486 379.5h6M498 379.5h6M528 379.5h6M570 379.5h6M594 379.5h6M480 384.5h12M510 384.5h6M582 384.5h6M618 384.5h6M486 389.5h6M498 389.5h6M510 389.5h6M528 389.5h6M564 389.5h6M582 389.5h6M594 389.5h6M618 389.5h6M486 394.5h18M522 394.5h12M546 394.5h6M582 394.5h6M594 394.5h6M618 394.5h6M468 399.5h6M486 399.5h12M504 399.5h24M570 399.5h6M594 399.5h12M618 399.5h6M480 404.5h12M522 404.5h6M534 404.5h6M564 404.5h12M588 404.5h24M450 409.5h6M480 409.5h6M492 409.5h6M534 409.5h6M558 409.5h6M582 409.5h24M612 409.5h6M450 414.5h6M480 414.5h6M492 414.5h6M510 414.5h12M552 414.5h18M600 414.5h6M450 419.5h6M480 419.5h6M516 419.5h6M534 419.5h6M558 419.5h6M582 419.5h12M432 424.5h6M450 424.5h6M510 424.5h6M558 424.5h18M582 424.5h12M456 429.5h18M516 429.5h6M534 429.5h6M552 429.5h6M570 429.5h6M582 429.5h12M606 429.5h6M432 434.5h6M450 434.5h12M480 434.5h6M492 434.5h6M516 434.5h6M552 434.5h12M570 434.5h6M588 434.5h6M606 434.5h6M420 439.5h6M438 439.5h6M456 439.5h6M468 439.5h6M480 439.5h6M492 439.5h6M510 439.5h6M552 439.5h12M588 439.5h6M600 439.5h6M432 444.5h6M456 444.5h6M468 444.5h6M588 444.5h6M630 444.5h6M438 449.5h12M456 449.5h12M552 449.5h6M570 449.5h6M612 449.5h6M624 449.5h12M432 454.5h6M444 454.5h6M456 454.5h6M468 454.5h6M588 454.5h6M606 454.5h12M426 459.5h12M444 459.5h6M456 459.5h6M468 459.5h6M588 459.5h6M438 464.5h6M552 464.5h6M570 464.5h6M588 464.5h6M606 464.5h12M624 464.5h12M420 469.5h12M558 469.5h6M630 469.5h6M426 474.5h6M624 474.5h6M636 474.5h6M426 479.5h6M552 479.5h12M588 479.5h6M606 479.5h6M624 479.5h6M396 484.5h6M408 484.5h6M420 484.5h6M552 484.5h6M606 484.5h6M630 484.5h6M552 489.5h6M630 489.5h6M192 494.5h6M420 494.5h6M612 494.5h6M624 494.5h6M606 499.5h6M630 499.5h12M624 504.5h18M396 509.5h6M414 509.5h6M234 514.5h6M246 514.5h6M624 514.5h6M636 514.5h6M246 519.5h6M396 519.5h6M408 519.5h6M636 519.5h6M660 519.5h6M732 519.5h6M114 524.5h6M228 524.5h6M240 524.5h6M300 524.5h6M642 524.5h12M732 524.5h6M114 529.5h18M138 529.5h6M228 529.5h12M246 529.5h6M354 529.5h6M366 529.5h6M396 529.5h6M408 529.5h6M186 534.5h6M210 534.5h6M228 534.5h12M246 534.5h6M288 534.5h6M324 534.5h6M348 534.5h6M366 534.5h6M396 534.5h6M408 534.5h6M726 534.5h6M114 539.5h12M132 539.5h6M168 539.5h6M186 539.5h6M198 539.5h6M228 539.5h18M288 539.5h6M300 539.5h6M348 539.5h12M366 539.5h6M396 539.5h6M864 539.5h6M126 544.5h18M186 544.5h6M210 544.5h6M222 544.5h6M234 544.5h12M258 544.5h24M300 544.5h6M330 544.5h6M348 544.5h6M366 544.5h6M396 544.5h6M408 544.5h6M732 544.5h12M756 544.5h6M114 549.5h6M126 549.5h12M168 549.5h6M186 549.5h6M210 549.5h6M222 549.5h30M264 549.5h6M288 549.5h6M300 549.5h6M324 549.5h6M342 549.5h24M396 549.5h6M408 549.5h6M654 549.5h6M738 549.5h6M756 549.5h6M786 549.5h6M834 549.5h6M90 554.5h6M144 554.5h6M168 554.5h6M198 554.5h12M240 554.5h6M252 554.5h6M270 554.5h12M300 554.5h12M324 554.5h18M360 554.5h6M408 554.5h6M684 554.5h6M726 554.5h18M756 554.5h6M858 554.5h18M888 554.5h6M126 559.5h6M138 559.5h12M168 559.5h6M186 559.5h6M198 559.5h6M216 559.5h6M240 559.5h6M258 559.5h24M288 559.5h6M306 559.5h6M318 559.5h18M348 559.5h6M360 559.5h12M378 559.5h6M396 559.5h6M660 559.5h6M708 559.5h12M726 559.5h6M738 559.5h6M756 559.5h6M804 559.5h12M828 559.5h6M846 559.5h6M858 559.5h6M870 559.5h6M888 559.5h12M90 564.5h6M114 564.5h6M138 564.5h6M168 564.5h6M198 564.5h6M240 564.5h6M258 564.5h18M282 564.5h12M312 564.5h6M336 564.5h6M348 564.5h6M360 564.5h6M372 564.5h6M660 564.5h6M702 564.5h24M738 564.5h18M762 564.5h6M786 564.5h6M798 564.5h6M816 564.5h6M828 564.5h6M870 564.5h6M888 564.5h6M90 569.5h6M108 569.5h6M120 569.5h12M144 569.5h6M156 569.5h6M168 569.5h6M222 569.5h6M252 569.5h18M300 569.5h12M336 569.5h12M360 569.5h6M384 569.5h6M408 569.5h6M654 569.5h12M690 569.5h6M702 569.5h6M726 569.5h6M744 569.5h6M774 569.5h12M828 569.5h6M840 569.5h24M876 569.5h6M888 569.5h12M144 574.5h6M162 574.5h18M204 574.5h12M258 574.5h30M342 574.5h6M372 574.5h24M402 574.5h12M666 574.5h6M696 574.5h6M708 574.5h12M780 574.5h6M822 574.5h12M846 574.5h6M882 574.5h6M894 574.5h6M120 579.5h24M198 579.5h6M210 579.5h6M228 579.5h6M252 579.5h6M270 579.5h6M282 579.5h6M300 579.5h6M312 579.5h6M324 579.5h24M372 579.5h6M384 579.5h6M672 579.5h6M684 579.5h6M708 579.5h6M720 579.5h6M744 579.5h6M762 579.5h6M774 579.5h6M792 579.5h6M816 579.5h12M846 579.5h6M870 579.5h6M882 579.5h18M90 584.5h6M108 584.5h6M132 584.5h6M168 584.5h12M186 584.5h6M198 584.5h12M240 584.5h12M258 584.5h6M270 584.5h12M288 584.5h6M300 584.5h12M324 584.5h12M342 584.5h6M372 584.5h12M654 584.5h6M666 584.5h18M696 584.5h6M708 584.5h18M744 584.5h6M762 584.5h6M792 584.5h18M816 584.5h12M846 584.5h12M102 589.5h12M120 589.5h6M156 589.5h6M168 589.5h6M186 589.5h6M198 589.5h6M222 589.5h6M240 589.5h6M264 589.5h6M288 589.5h6M300 589.5h12M324 589.5h12M366 589.5h6M384 589.5h12M408 589.5h6M612 589.5h6M648 589.5h6M660 589.5h6M708 589.5h6M720 589.5h6M744 589.5h6M756 589.5h6M780 589.5h6M792 589.5h6M828 589.5h6M846 589.5h18"/><path stroke="#989898" d="M576 349.5h6M474 354.5h6M474 364.5h6M498 369.5h6M474 374.5h6M540 374.5h6M576 374.5h6M504 379.5h12M540 379.5h12M576 379.5h6M474 384.5h6M498 384.5h6M522 384.5h6M540 384.5h12M504 389.5h6M540 389.5h6M474 394.5h6M504 394.5h6M540 394.5h6M576 394.5h6M474 399.5h6M546 399.5h6M564 399.5h6M582 399.5h6M504 404.5h12M528 404.5h6M540 404.5h12M582 404.5h6M486 409.5h6M498 409.5h6M510 409.5h18M546 409.5h6M576 409.5h6M618 409.5h6M486 414.5h6M498 414.5h6M522 414.5h6M534 414.5h6M546 414.5h6M570 414.5h6M582 414.5h12M612 414.5h6M486 419.5h6M498 419.5h18M522 419.5h12M564 419.5h6M576 419.5h6M594 419.5h12M612 419.5h12M480 424.5h12M516 424.5h18M594 424.5h12M612 424.5h12M450 429.5h6M480 429.5h12M498 429.5h18M522 429.5h12M564 429.5h6M576 429.5h6M594 429.5h12M612 429.5h12M510 434.5h6M522 434.5h18M582 434.5h6M594 434.5h12M612 434.5h12M444 439.5h12M462 439.5h6M486 439.5h6M516 439.5h24M546 439.5h6M564 439.5h12M594 439.5h6M606 439.5h18M438 444.5h6M450 444.5h6M462 444.5h6M486 444.5h12M504 444.5h6M516 444.5h24M552 444.5h12M570 444.5h6M582 444.5h6M594 444.5h30M432 449.5h6M468 449.5h6M480 449.5h6M516 449.5h6M534 449.5h6M558 449.5h6M582 449.5h24M438 454.5h6M462 454.5h6M570 454.5h6M594 454.5h6M438 459.5h6M462 459.5h6M480 459.5h6M600 459.5h24M432 464.5h6M444 464.5h6M456 464.5h6M468 464.5h6M480 464.5h6M516 464.5h6M528 464.5h12M558 464.5h12M594 464.5h6M432 469.5h12M462 469.5h6M492 469.5h6M516 469.5h6M528 469.5h12M552 469.5h6M564 469.5h12M588 469.5h6M600 469.5h24M432 474.5h6M444 474.5h6M468 474.5h6M492 474.5h6M516 474.5h6M558 474.5h12M582 474.5h12M612 474.5h6M432 479.5h12M456 479.5h6M492 479.5h6M516 479.5h6M534 479.5h6M570 479.5h6M594 479.5h12M426 484.5h6M444 484.5h6M516 484.5h6M528 484.5h6M582 484.5h12M420 489.5h12M492 489.5h6M546 489.5h6M558 489.5h18M588 489.5h6M600 489.5h18M624 489.5h6M426 494.5h6M558 494.5h6M570 494.5h6M588 494.5h6M618 494.5h6M426 499.5h6M612 499.5h12M408 509.5h6M624 509.5h6M192 514.5h6M414 514.5h6M630 514.5h6M192 519.5h6M624 519.5h6M138 524.5h6M192 524.5h6M246 524.5h6M408 524.5h6M192 529.5h6M288 529.5h6M648 529.5h6M120 534.5h6M192 534.5h6M246 539.5h6M324 539.5h6M408 539.5h6M114 544.5h12M228 544.5h6M288 544.5h6M318 544.5h6M864 544.5h6M120 549.5h6M138 549.5h6M198 549.5h6M258 549.5h6M366 549.5h6M732 549.5h6M864 549.5h6M114 554.5h18M138 554.5h6M186 554.5h6M210 554.5h6M234 554.5h6M264 554.5h6M282 554.5h12M318 554.5h6M366 554.5h12M396 554.5h6M654 554.5h6M714 554.5h6M834 554.5h12M114 559.5h12M210 559.5h6M222 559.5h18M246 559.5h6M300 559.5h6M354 559.5h6M372 559.5h6M408 559.5h6M654 559.5h6M732 559.5h6M798 559.5h6M834 559.5h6M864 559.5h6M120 564.5h6M132 564.5h6M144 564.5h6M180 564.5h6M210 564.5h6M222 564.5h6M246 564.5h6M300 564.5h6M324 564.5h6M354 564.5h6M408 564.5h6M654 564.5h6M684 564.5h6M726 564.5h6M810 564.5h6M834 564.5h18M864 564.5h6M114 569.5h6M132 569.5h12M198 569.5h6M210 569.5h6M228 569.5h6M240 569.5h12M276 569.5h6M288 569.5h6M312 569.5h6M330 569.5h6M372 569.5h6M390 569.5h6M672 569.5h6M708 569.5h6M738 569.5h6M750 569.5h6M762 569.5h6M798 569.5h12M816 569.5h6M834 569.5h6M864 569.5h12M90 574.5h6M114 574.5h30M222 574.5h6M324 574.5h6M336 574.5h6M360 574.5h6M654 574.5h12M720 574.5h12M738 574.5h6M750 574.5h6M762 574.5h18M786 574.5h6M804 574.5h6M816 574.5h6M840 574.5h6M858 574.5h6M870 574.5h6M888 574.5h6M114 579.5h6M144 579.5h6M180 579.5h12M240 579.5h6M264 579.5h6M276 579.5h6M288 579.5h6M354 579.5h6M408 579.5h6M660 579.5h6M714 579.5h6M726 579.5h12M750 579.5h6M786 579.5h6M798 579.5h6M828 579.5h6M840 579.5h6M858 579.5h6M114 584.5h18M138 584.5h6M210 584.5h6M222 584.5h12M318 584.5h6M336 584.5h6M354 584.5h6M396 584.5h6M408 584.5h6M648 584.5h6M660 584.5h6M684 584.5h6M726 584.5h6M738 584.5h6M750 584.5h6M774 584.5h6M786 584.5h6M834 584.5h12M858 584.5h18M888 584.5h12M114 589.5h6M126 589.5h12M204 589.5h18M228 589.5h12M246 589.5h6M318 589.5h6M336 589.5h12M354 589.5h6M372 589.5h6M606 589.5h6M618 589.5h18M684 589.5h6M714 589.5h6M726 589.5h6M738 589.5h6M750 589.5h6M774 589.5h6M798 589.5h18M822 589.5h6M834 589.5h6M870 589.5h6M888 589.5h12"/><path stroke="#9d9d9d" d="M576 384.5h6M474 389.5h6M576 389.5h6M498 399.5h6M534 399.5h6M576 399.5h6M474 404.5h6M498 404.5h6M576 404.5h6M618 404.5h6M504 409.5h6M528 409.5h6M540 409.5h6M474 414.5h6M504 414.5h6M540 414.5h6M594 414.5h6M474 419.5h6M540 419.5h12M498 424.5h12M534 424.5h6M546 424.5h6M576 424.5h6M540 429.5h12M486 434.5h6M498 434.5h6M546 434.5h6M564 434.5h6M498 439.5h12M540 439.5h6M576 439.5h12M480 444.5h6M498 444.5h6M510 444.5h6M540 444.5h12M564 444.5h6M576 444.5h6M450 449.5h6M492 449.5h6M522 449.5h6M564 449.5h6M618 449.5h6M450 454.5h6M480 454.5h6M558 454.5h12M576 454.5h12M600 454.5h6M618 454.5h6M450 459.5h6M492 459.5h6M552 459.5h6M570 459.5h6M594 459.5h6M450 464.5h6M462 464.5h6M492 464.5h6M504 464.5h6M522 464.5h6M546 464.5h6M582 464.5h6M600 464.5h6M618 464.5h6M444 469.5h18M468 469.5h6M480 469.5h6M504 469.5h12M522 469.5h6M546 469.5h6M582 469.5h6M594 469.5h6M438 474.5h6M456 474.5h6M480 474.5h6M510 474.5h6M522 474.5h18M546 474.5h12M570 474.5h6M594 474.5h6M618 474.5h6M444 479.5h6M462 479.5h12M510 479.5h6M522 479.5h12M546 479.5h6M564 479.5h6M576 479.5h12M612 479.5h12M432 484.5h12M456 484.5h6M510 484.5h6M534 484.5h6M546 484.5h6M558 484.5h6M570 484.5h6M594 484.5h12M612 484.5h12M432 489.5h6M444 489.5h6M510 489.5h30M582 489.5h6M594 489.5h6M432 494.5h6M444 494.5h6M492 494.5h6M516 494.5h24M546 494.5h12M582 494.5h6M600 494.5h12M420 499.5h6M534 499.5h6M552 499.5h6M570 499.5h6M588 499.5h6M420 504.5h6M606 504.5h18M618 509.5h6M414 519.5h6M618 519.5h6M630 519.5h6M414 524.5h6M414 529.5h6M648 534.5h6M192 539.5h6M192 544.5h6M246 544.5h6M324 544.5h6M192 549.5h6M192 554.5h6M228 554.5h6M246 554.5h6M348 554.5h6M192 559.5h6M186 564.5h6M228 564.5h12M318 564.5h6M396 564.5h6M732 564.5h6M756 564.5h6M180 569.5h12M684 569.5h6M714 569.5h6M732 569.5h6M786 569.5h6M186 574.5h6M198 574.5h6M228 574.5h6M240 574.5h12M288 574.5h6M300 574.5h6M312 574.5h6M348 574.5h6M732 574.5h6M798 574.5h6M864 574.5h6M234 579.5h6M246 579.5h6M360 579.5h6M738 579.5h6M810 579.5h6M834 579.5h6M864 579.5h6M192 584.5h6M234 584.5h6M348 584.5h6M366 584.5h6M414 584.5h6M624 584.5h6M732 584.5h6M756 584.5h6M810 584.5h6M138 589.5h6M192 589.5h6M348 589.5h6M396 589.5h6M414 589.5h6M588 589.5h6M636 589.5h12M732 589.5h6M786 589.5h6M840 589.5h6M864 589.5h6"/><path stroke="#a3a3a3" d="M540 399.5h6M474 409.5h6M576 414.5h6M474 424.5h6M540 424.5h6M474 429.5h6M474 434.5h6M504 434.5h6M540 434.5h6M576 434.5h6M474 439.5h6M474 444.5h6M486 449.5h6M498 449.5h18M528 449.5h6M540 449.5h12M576 449.5h6M486 454.5h12M534 454.5h6M552 454.5h6M486 459.5h6M510 459.5h18M546 459.5h6M558 459.5h12M576 459.5h12M474 464.5h6M486 464.5h6M498 464.5h6M510 464.5h6M540 464.5h6M576 464.5h6M486 469.5h6M498 469.5h6M540 469.5h6M576 469.5h6M450 474.5h6M462 474.5h6M486 474.5h6M498 474.5h12M540 474.5h6M600 474.5h6M450 479.5h6M480 479.5h12M498 479.5h12M540 479.5h6M450 484.5h6M462 484.5h12M480 484.5h30M522 484.5h6M540 484.5h6M564 484.5h6M576 484.5h6M438 489.5h6M456 489.5h6M468 489.5h6M486 489.5h6M498 489.5h12M540 489.5h6M576 489.5h6M618 489.5h6M438 494.5h6M456 494.5h18M504 494.5h12M540 494.5h6M564 494.5h6M576 494.5h6M594 494.5h6M432 499.5h6M444 499.5h6M456 499.5h6M468 499.5h6M492 499.5h6M510 499.5h18M546 499.5h6M558 499.5h6M600 499.5h6M612 509.5h6M630 524.5h6M414 534.5h6M192 564.5h6M366 564.5h6M348 569.5h12M366 569.5h6M414 569.5h6M810 569.5h6M180 574.5h6M354 574.5h6M834 574.5h6M318 579.5h6M348 579.5h6M366 579.5h6M396 579.5h6M414 579.5h6M612 584.5h6M636 584.5h12M528 589.5h6"/><path stroke="#a8a8a8" d="M474 449.5h6M474 454.5h6M516 454.5h18M546 454.5h6M474 459.5h6M498 459.5h12M528 459.5h12M474 469.5h6M576 474.5h6M450 489.5h6M462 489.5h6M480 489.5h6M450 494.5h6M480 494.5h12M438 499.5h6M450 499.5h6M462 499.5h6M486 499.5h6M504 499.5h6M528 499.5h6M564 499.5h6M582 499.5h6M426 504.5h12M516 504.5h6M534 504.5h6M552 504.5h6M588 504.5h12M444 509.5h6M618 514.5h6M612 519.5h6M624 524.5h6M636 524.5h6M642 529.5h6M414 539.5h6M648 539.5h6M414 544.5h6M414 549.5h6M414 559.5h6M234 569.5h6M318 569.5h6M396 569.5h6M756 569.5h6M234 574.5h6M414 574.5h6M648 574.5h6M192 579.5h6M642 579.5h12M756 579.5h6M606 584.5h6M618 584.5h6M630 584.5h6M492 589.5h6M504 589.5h6M552 589.5h6M576 589.5h6M600 589.5h6"/><path stroke="#aeaeae" d="M498 454.5h18M540 459.5h6M474 494.5h6M498 494.5h6M480 499.5h6M498 499.5h6M540 499.5h6M576 499.5h6M594 499.5h6M438 504.5h12M468 504.5h6M480 504.5h6M492 504.5h6M522 504.5h12M546 504.5h6M558 504.5h18M582 504.5h6M600 504.5h6M420 509.5h6M456 509.5h6M624 529.5h12M612 534.5h6M648 544.5h6M648 549.5h6M414 554.5h6M414 564.5h6M648 569.5h6M318 574.5h6M366 574.5h6M396 574.5h6M756 574.5h6M810 574.5h6M606 579.5h12M534 584.5h6M552 584.5h6M426 589.5h6M438 589.5h6M456 589.5h12M510 589.5h12M534 589.5h6M546 589.5h6M558 589.5h6M570 589.5h6"/><path stroke="#b3b3b3" d="M540 454.5h6M474 474.5h6M474 479.5h6M474 489.5h6M474 499.5h6M456 504.5h12M486 504.5h6M498 504.5h18M576 504.5h6M564 509.5h6M588 509.5h6M606 509.5h6M468 514.5h6M612 514.5h6M612 524.5h12M618 529.5h6M636 529.5h6M636 534.5h12M192 569.5h6M192 574.5h6M624 579.5h18M600 584.5h6M444 589.5h6M474 589.5h6M498 589.5h6M540 589.5h6M594 589.5h6"/><path stroke="#b8b8b8" d="M474 484.5h6M450 504.5h6M474 504.5h6M540 504.5h6M426 509.5h6M438 509.5h6M468 509.5h6M480 509.5h6M552 509.5h6M594 509.5h6M642 539.5h6M648 554.5h6M618 579.5h6M420 584.5h6M516 584.5h18M558 584.5h6M576 584.5h18M420 589.5h6M480 589.5h6M522 589.5h6M564 589.5h6M582 589.5h6"/><path stroke="#bebebe" d="M432 509.5h6M450 509.5h6M462 509.5h6M486 509.5h12M510 509.5h12M570 509.5h6M600 509.5h6M420 514.5h12M456 514.5h6M606 514.5h6M420 519.5h12M612 529.5h6M618 534.5h18M612 539.5h6M612 544.5h6M642 544.5h6M606 549.5h6M648 559.5h6M648 564.5h6M642 574.5h6M426 584.5h24M510 584.5h6M564 584.5h12M432 589.5h6M450 589.5h6M468 589.5h6M486 589.5h6"/><path stroke="#c3c3c3" d="M522 509.5h6M534 509.5h6M546 509.5h6M558 509.5h6M438 514.5h18M426 524.5h6M456 524.5h6M420 529.5h6M432 529.5h6M606 529.5h6M606 534.5h6M420 539.5h6M624 539.5h18M606 544.5h6M624 544.5h6M606 554.5h6M612 559.5h6M606 564.5h6M606 574.5h12M636 574.5h6M462 584.5h6M480 584.5h6M492 584.5h6M504 584.5h6M546 584.5h6M594 584.5h6"/><path stroke="#c9c9c9" d="M474 509.5h6M504 509.5h6M528 509.5h6M540 509.5h6M576 509.5h12M432 514.5h6M462 514.5h6M480 514.5h6M432 519.5h6M444 519.5h12M486 519.5h6M606 519.5h6M420 524.5h6M462 524.5h12M564 524.5h6M606 524.5h6M426 529.5h6M420 534.5h6M438 534.5h6M606 539.5h6M618 539.5h6M420 544.5h6M600 559.5h12M618 559.5h6M612 564.5h6M606 569.5h6M618 574.5h18M420 579.5h12M462 579.5h6M480 579.5h6M504 579.5h6M600 579.5h6M450 584.5h12M474 584.5h6M486 584.5h6M498 584.5h6"/><path stroke="#cecece" d="M552 514.5h6M570 514.5h6M438 519.5h6M456 519.5h6M468 519.5h6M558 519.5h6M432 524.5h6M444 524.5h6M480 524.5h6M516 524.5h6M450 529.5h6M480 534.5h6M522 534.5h6M444 539.5h6M636 544.5h6M642 549.5h6M444 554.5h6M600 554.5h6M612 554.5h6M420 559.5h6M444 559.5h6M624 564.5h6M594 569.5h6M612 569.5h6M630 569.5h12M420 574.5h6M588 574.5h6M438 579.5h6M468 579.5h6M486 579.5h12M516 579.5h6M528 579.5h6M552 579.5h12M570 579.5h6M588 579.5h6M468 584.5h6M540 584.5h6"/><path stroke="#d4d4d4" d="M498 509.5h6M498 514.5h24M540 514.5h6M558 514.5h6M588 514.5h6M462 519.5h6M480 519.5h6M492 519.5h6M600 524.5h6M438 529.5h12M462 529.5h12M588 529.5h6M426 534.5h12M546 534.5h12M450 539.5h6M480 539.5h6M576 539.5h12M516 544.5h12M588 544.5h18M618 544.5h6M456 549.5h6M552 549.5h6M588 549.5h6M612 549.5h6M636 549.5h6M420 554.5h6M492 554.5h6M564 554.5h6M582 554.5h6M624 554.5h6M642 554.5h6M468 559.5h6M510 559.5h6M534 559.5h6M552 559.5h6M570 559.5h6M624 559.5h6M420 564.5h6M552 564.5h6M582 564.5h6M600 564.5h6M618 564.5h6M630 564.5h18M420 569.5h12M444 569.5h6M588 569.5h6M600 569.5h6M618 569.5h12M642 569.5h6M444 574.5h6M480 574.5h6M546 574.5h6M432 579.5h6M444 579.5h18"/><path stroke="#d9d9d9" d="M474 514.5h6M492 514.5h6M528 514.5h12M546 514.5h6M594 514.5h6M534 519.5h6M594 519.5h6M438 524.5h6M450 524.5h6M474 524.5h6M558 524.5h6M570 524.5h6M456 529.5h6M474 529.5h12M504 529.5h6M516 529.5h6M534 529.5h6M546 529.5h6M558 529.5h6M582 529.5h6M600 529.5h6M456 534.5h6M492 534.5h6M516 534.5h6M558 534.5h6M576 534.5h6M426 539.5h12M456 539.5h18M492 539.5h6M588 539.5h6M600 539.5h6M426 544.5h6M444 544.5h6M486 544.5h6M534 544.5h6M552 544.5h6M570 544.5h6M630 544.5h6M420 549.5h6M468 549.5h6M492 549.5h6M528 549.5h6M570 549.5h12M600 549.5h6M618 549.5h18M426 554.5h6M462 554.5h6M522 554.5h6M534 554.5h6M552 554.5h6M636 554.5h6M426 559.5h6M450 559.5h6M492 559.5h6M630 559.5h6M642 559.5h6M456 564.5h6M480 564.5h12M516 564.5h6M528 564.5h6M540 564.5h6M588 564.5h6M432 569.5h6M450 569.5h12M516 569.5h6M528 569.5h12M552 569.5h12M582 569.5h6M462 574.5h12M492 574.5h6M504 574.5h6M534 574.5h6M552 574.5h6M570 574.5h18M510 579.5h6M522 579.5h6M534 579.5h18M564 579.5h6M582 579.5h6M594 579.5h6"/><path stroke="#dedede" d="M486 514.5h6M522 514.5h6M564 514.5h6M582 514.5h6M600 514.5h6M474 519.5h6M498 519.5h6M510 519.5h6M564 519.5h12M582 519.5h12M600 519.5h6M492 524.5h6M504 524.5h6M534 524.5h6M552 524.5h6M576 524.5h6M588 524.5h12M486 529.5h12M552 529.5h6M564 529.5h6M444 534.5h6M468 534.5h6M486 534.5h6M528 534.5h12M570 534.5h6M588 534.5h12M438 539.5h6M474 539.5h6M504 539.5h6M516 539.5h12M552 539.5h6M564 539.5h12M432 544.5h6M456 544.5h6M474 544.5h6M492 544.5h6M510 544.5h6M546 544.5h6M582 544.5h6M426 549.5h18M480 549.5h12M516 549.5h6M534 549.5h6M558 549.5h12M594 549.5h6M450 554.5h12M480 554.5h12M546 554.5h6M576 554.5h6M588 554.5h12M618 554.5h6M432 559.5h12M480 559.5h12M522 559.5h6M558 559.5h6M576 559.5h6M588 559.5h12M426 564.5h6M444 564.5h6M462 564.5h12M510 564.5h6M534 564.5h6M594 564.5h6M468 569.5h12M486 569.5h24M576 569.5h6M432 574.5h12M456 574.5h6M486 574.5h6M510 574.5h6M528 574.5h6M540 574.5h6M564 574.5h6M600 574.5h6M498 579.5h6M576 579.5h6"/><path stroke="#e4e4e4" d="M576 514.5h6M504 519.5h6M522 519.5h6M546 519.5h12M486 524.5h6M510 524.5h6M522 524.5h12M540 524.5h6M510 529.5h6M522 529.5h12M576 529.5h6M594 529.5h6M450 534.5h6M462 534.5h6M474 534.5h6M510 534.5h6M564 534.5h6M600 534.5h6M486 539.5h6M498 539.5h6M528 539.5h18M594 539.5h6M480 544.5h6M540 544.5h6M558 544.5h12M444 549.5h6M474 549.5h6M504 549.5h12M522 549.5h6M546 549.5h6M582 549.5h6M498 554.5h24M528 554.5h6M540 554.5h6M558 554.5h6M570 554.5h6M630 554.5h6M462 559.5h6M498 559.5h6M516 559.5h6M540 559.5h12M564 559.5h6M636 559.5h6M450 564.5h6M474 564.5h6M492 564.5h6M504 564.5h6M558 564.5h6M576 564.5h6M438 569.5h6M480 569.5h6M510 569.5h6M522 569.5h6M540 569.5h6M570 569.5h6M426 574.5h6M516 574.5h12M558 574.5h6M474 579.5h6"/><path stroke="#e9e9e9" d="M516 519.5h6M528 519.5h6M540 519.5h6M576 519.5h6M546 524.5h6M582 524.5h6M498 529.5h6M570 529.5h6M498 534.5h12M510 539.5h6M546 539.5h6M558 539.5h6M438 544.5h6M450 544.5h6M498 544.5h12M528 544.5h6M450 549.5h6M462 549.5h6M498 549.5h6M540 549.5h6M432 554.5h12M468 554.5h6M456 559.5h6M474 559.5h6M504 559.5h6M582 559.5h6M438 564.5h6M498 564.5h6M522 564.5h6M564 564.5h6M462 569.5h6M546 569.5h6M564 569.5h6M450 574.5h6M474 574.5h6M498 574.5h6M594 574.5h6"/><path stroke="#efefef" d="M540 529.5h6M540 534.5h6M582 534.5h6M462 544.5h12M576 544.5h6M474 554.5h6M528 559.5h6M546 564.5h6M570 564.5h6"/><path stroke="#f4f4f4" d="M498 524.5h6M432 564.5h6"/></g></g></g><g filter="url(#soft)"><path d="M100 321.6H890" stroke="#5f7a5c" stroke-width="2.6" fill="none"/><path d="M100 581.8H890" stroke="#9ccf8a" stroke-width="2.4" stroke-opacity="0.55" fill="none"/><path d="M99.6 585.3H889.6" stroke="#2c4a50" stroke-width="4" fill="none"/></g>
<g filter="url(#softw)">
<path d="M102 193H423" stroke="#141414" stroke-width="3" fill="none"/><path d="M174.5 190.5v5.5h3v-5.5zM181.5 189v9h3v-9zM189 188v13h4v-13zM236 188v13h4v-13zM246 190v6h8v-6zM297.5 190.5v5.5h5v-5.5zM310 190v7h4v-7zM318 189v9h4v-9zM331.5 190v7h3v-7zM341.5 189v9h3v-9zM353.2 187v15h3.5v-15zM364.2 186v17h3.5v-17zM382.5 190.5v5.5h5v-5.5zM396.5 189v10h5v-10zM122.5 190.5v5.5h5v-5.5zM138 190.5v5h4v-5z" fill="#141414"/><path d="M420.5 190L421.3 187.1L422.1 177.1L422.9 170.5L423.7 164.3L424.5 167L425.3 165.9L426.1 156.3L426.9 158L427.7 153.6L428.5 159.7L429.3 163.4L430.1 165.7L430.9 171.6L431.7 177.6L432.5 178.1L433.3 172L434.1 167.7L434.9 170L435.7 170.7L436.5 171.9L437.3 167.9L438.1 170.6L438.9 167.7L439.7 163L440.5 160.6L441.3 160.8L442.1 160.3L442.9 168.5L443.7 172.1L444.5 170.5L445.3 169.8L446.1 171.2L446.9 173.4L447.7 180.2L448.5 182.4L449.3 183.8L450.1 183.1L450.9 183.5L451.7 183.5L452.5 183L453.3 184.4L454.1 183.5L454.9 184.9L455.7 184.4L456.5 182.6L457.3 183.4L458.1 181.4L458.9 180.4L459.7 180.8L460.5 181.5L461.3 181.7L462.1 182.4L462.9 180.2L463.7 179.5L464.5 179.9L465.3 179.6L466.1 179.7L466.9 182.2L467.7 183.4L468.5 182.9L469.3 182.2L470.1 181L470.9 181.2L471.7 183.5L472.5 184.2L473.3 183.4L474.1 183.8L474.9 183.6L475.7 183.1L476.5 179.3L477.3 173.2L478.1 171.1L478.9 163.3L479.7 173.1L480.5 179.5L481.3 178.9L482.1 181.6L482.9 183.8L483.7 184.8L484.5 186.5L485.3 188.6L486.1 189.5L486.9 190L486.9 195.8L486.1 196.6L485.3 197.6L484.5 199.8L483.7 201L482.9 201.6L482.1 203.8L481.3 206.9L480.5 207.1L479.7 212.3L478.9 219.2L478.1 213.3L477.3 212.4L476.5 206.9L475.7 203.3L474.9 203L474.1 203L473.3 203.6L472.5 202.9L471.7 202.8L470.9 204L470.1 203.6L469.3 202.8L468.5 202.6L467.7 202.2L466.9 203.4L466.1 206.3L465.3 206.8L464.5 205.5L463.7 205.4L462.9 204.9L462.1 203.2L461.3 203.9L460.5 204.3L459.7 205.5L458.9 206.4L458.1 204.5L457.3 202.4L456.5 203.3L455.7 201.7L454.9 201.4L454.1 202.9L453.3 201.8L452.5 202.9L451.7 202.1L450.9 202.1L450.1 202.4L449.3 202.1L448.5 203.6L447.7 205.7L446.9 212.2L446.1 212.5L445.3 213.1L444.5 211.9L443.7 211L442.9 213.4L442.1 219.8L441.3 219.5L440.5 219.2L439.7 217.4L438.9 214.8L438.1 214.1L437.3 218.3L436.5 216L435.7 216.8L434.9 217.1L434.1 218.3L433.3 214.9L432.5 209.8L431.7 211.6L430.9 220.8L430.1 227.8L429.3 226.7L428.5 227.2L427.7 231.3L426.9 227.7L426.1 230.3L425.3 221.8L424.5 222.3L423.7 226.4L422.9 219L422.1 210.2L421.3 198.7L420.5 196Z" fill="#ee1c25"/><path d="M427.6 120h3V310h-3z" fill="#ee1c25"/><path d="M487 190L487.8 181.6L488.6 179.3L489.4 175L490.2 174L491 171.8L491.8 170.3L492.6 166.6L493.4 164.6L494.2 159.3L495 159.8L495.8 151.5L496.6 141.5L497.4 141.2L498.2 143.3L499 144.9L499.8 154.2L500.6 159.2L501.4 161.8L502.2 168L503 167.6L503.8 166.8L504.6 168.6L505.4 164.3L506.2 167.8L507 169.3L507.8 171.3L508.6 173.1L509.4 174.9L510.2 171.6L511 167.1L511.8 166L512.6 165.3L513.4 165.5L514.2 166.3L515 168.3L515.8 171.4L516.6 170.1L517.4 170.1L518.2 164.1L519 162.6L519.8 161.1L520.6 161.7L521.4 163.4L522.2 165.7L523 169.6L523.8 170.3L524.6 168L525.4 173.1L526.2 171.7L527 166.5L527.8 166.2L528.6 163L529.4 168.1L530.2 167.5L531 168.1L531.8 170.2L532.6 173L533.4 172.1L534.2 168.7L535 164.5L535.8 166.3L536.6 167.8L537.4 167.4L538.2 172L539 172.8L539.8 170.1L540.6 173.6L541.4 170.3L542.2 163.5L543 162.1L543.8 159.2L544.6 166.9L545.4 167.8L546.2 170.3L547 168.7L547.8 171.1L548.6 171.1L549.4 170.6L550.2 166.9L551 167.6L551.8 164.7L552.6 159.4L553.4 163.6L554.2 165.7L555 169.6L555.8 169.5L556.6 172.2L557.4 172.7L558.2 172L559 168.8L559.8 168.5L560.6 167.4L561.4 163.6L562.2 165.2L563 167.2L563.8 173L564.6 169.1L565.4 169.6L566.2 169.6L567 166.5L567.8 162.3L568.6 162.1L569.4 163.4L570.2 167.4L571 170.6L571.8 165L572.6 168L573.4 166.9L574.2 161.6L575 151.7L575.8 145.9L576.6 153.6L577.4 159.3L578.2 164.5L579 166.6L579.8 169L580.6 168L581.4 168.6L582.2 167.3L583 173.3L583.8 168.3L584.6 165.8L585.4 163.1L586.2 162.3L587 166L587.8 165.9L588.6 168.7L589.4 172L590.2 172.8L591 170.3L591.8 169.3L592.6 163.9L593.4 159.1L594.2 158.6L595 160.9L595.8 164.4L596.6 165.8L597.4 169.3L598.2 172.1L599 171.4L599.8 172L600.6 169.9L601.4 165.2L602.2 163.8L603 167.7L603.8 171.5L604.6 171.2L605.4 177.2L606.2 180L607 182.2L607.8 190L607.8 196L607 204.2L606.2 208.3L605.4 213.5L604.6 222.4L603.8 219.3L603 220.8L602.2 222.4L601.4 221.4L600.6 217.9L599.8 217.5L599 220.9L598.2 222.4L597.4 226.2L596.6 225.9L595.8 223.3L595 224.5L594.2 226.6L593.4 228.7L592.6 226.5L591.8 223.1L591 224L590.2 219.4L589.4 219.2L588.6 220.7L587.8 221.7L587 220.4L586.2 223.2L585.4 224.5L584.6 224.3L583.8 224.3L583 220L582.2 227.4L581.4 223.7L580.6 222.3L579.8 219L579 220.1L578.2 220.4L577.4 222.1L576.6 222.4L575.8 225.7L575 226.1L574.2 224.3L573.4 224.6L572.6 223.9L571.8 225.8L571 217.3L570.2 218.4L569.4 222.4L568.6 223.9L567.8 225.7L567 223.7L566.2 221.2L565.4 221.7L564.6 221.2L563.8 215.6L563 222.1L562.2 223.8L561.4 225.1L560.6 223.6L559.8 223.3L559 223.1L558.2 218.1L557.4 216.2L556.6 216.5L555.8 219.6L555 218.5L554.2 221.6L553.4 223.2L552.6 228.4L551.8 225.3L551 224.7L550.2 225.4L549.4 220.4L548.6 218.2L547.8 217.9L547 221.1L546.2 221L545.4 224.5L544.6 224.6L543.8 232.1L543 227.2L542.2 226.2L541.4 219.1L540.6 215.6L539.8 221.1L539 219L538.2 221.3L537.4 225.8L536.6 222.3L535.8 221.8L535 223.7L534.2 219.9L533.4 217L532.6 215.8L531.8 220.6L531 224.4L530.2 225.9L529.4 223.3L528.6 225.6L527.8 220.5L527 219.7L526.2 215.3L525.4 214.7L524.6 220.3L523.8 218.7L523 219.8L522.2 223.7L521.4 225.4L520.6 224.4L519.8 223.3L519 221.9L518.2 221L517.4 216.3L516.6 217.5L515.8 216.1L515 218.1L514.2 220.9L513.4 222.5L512.6 225.2L511.8 225.8L511 224.1L510.2 217.8L509.4 212.7L508.6 214.8L507.8 216L507 217.1L506.2 219.2L505.4 223.6L504.6 218.8L503.8 218.4L503 217.4L502.2 217.1L501.4 220.4L500.6 220.3L499.8 222L499 227.2L498.2 227.9L497.4 230.5L496.6 235.3L495.8 229.7L495 224.4L494.2 223.4L493.4 218.2L492.6 217.2L491.8 214.5L491 213.2L490.2 210.6L489.4 209.5L488.6 205.4L487.8 202.9L487 196Z" fill="#5cc3dc"/><path d="M496.4 124h3V241h-3zM574.2 141h2.8V230h-2.8z" fill="#5cc3dc"/><path d="M608 190L608.8 183.7L609.6 183.1L610.4 184.2L611.2 183.8L612 184.1L612.8 184.6L613.6 182.6L614.4 182.7L615.2 184L616 184.4L616.8 184.1L617.6 183.1L618.4 182.1L619.2 181.8L620 181.5L620.8 184.5L621.6 183.9L622.4 182.1L623.2 183L624 182.4L624.8 180.8L625.6 181.2L626.4 181.2L627.2 179.4L628 181.3L628.8 181.3L629.6 179.8L630.4 180.6L631.2 180.6L632 182.2L632.8 182.7L633.6 184.4L634.4 182.7L635.2 181.9L636 181.5L636.8 182.5L637.6 182.1L638.4 181.3L639.2 179.5L640 175.6L640.8 173.3L641.6 171.7L642.4 173.6L643.2 174.3L644 175.5L644.8 175.6L645.6 178.5L646.4 178.2L647.2 178.5L648 180.2L648.8 182.2L649.6 184.6L650.4 186L651.2 186.5L652 188.1L652.8 190L652.8 196L652 198.1L651.2 200L650.4 200.3L649.6 201.5L648.8 203.6L648 205.1L647.2 206.6L646.4 207.4L645.6 208L644.8 211.9L644 211.7L643.2 212.2L642.4 212.4L641.6 213.6L640.8 212.1L640 211.2L639.2 207.7L638.4 205.4L637.6 204L636.8 203.1L636 203.7L635.2 203.8L634.4 203.9L633.6 202.5L632.8 203.6L632 203.4L631.2 204.4L630.4 204.7L629.6 206.2L628.8 205.5L628 206L627.2 208L626.4 205.4L625.6 204.5L624.8 204.3L624 203.1L623.2 202.8L622.4 204.1L621.6 202.7L620.8 202.1L620 204.5L619.2 203.4L618.4 203.2L617.6 202.5L616.8 201.8L616 201.8L615.2 202.1L614.4 203L613.6 203.1L612.8 201.4L612 201.9L611.2 202.2L610.4 201.5L609.6 202.3L608.8 201.5L608 196Z" fill="#f6e72a"/><path d="M652 193H888.5" stroke="#141414" stroke-width="3" fill="none"/><path d="M672 190v7h6v-7zM696 190.5v5h8v-5zM720.5 190v6.5h5v-6.5zM755 188v16h4v-16zM787 190.5v5.5h6v-5.5zM811.5 189v12h5v-12zM824.5 190v7h3v-7zM836 190.5v5.5h4v-5.5zM850 190.5v5.5h4v-5.5zM860.5 190.5v5h3v-5z" fill="#141414"/>
</g>
<g filter="url(#soft)">
<path d="M99.4 62.2H889.4" fill="none" stroke="#1c1c1c" stroke-width="4.9"/><path d="M102 62.5V322" fill="none" stroke="#1c1c1c" stroke-width="5.2"/><path d="M887.6 62.5V321" fill="none" stroke="#1c1c1c" stroke-width="3.6"/><path d="M101.6 322V586.5" fill="none" stroke="#363a36" stroke-width="5.0"/><path d="M102 480.2h6.5M102 375.4h6.5" stroke="#1e241e" stroke-width="3.4" fill="none"/><path d="M214.7 62.5v8M214.7 320.5v-7.5M327.1 62.5v8M327.1 320.5v-7.5M439.5 62.5v8M439.5 320.5v-7.5M551.9 62.5v8M551.9 320.5v-7.5M664.3 62.5v8M664.3 320.5v-7.5M776.7 62.5v8M776.7 320.5v-7.5" stroke="#1c1c1c" stroke-width="4.4" fill="none"/><path d="M102 312.5h8.5M887.6 312.5h-8.5M102 193h8.5M887.6 193h-8.5M102 73.5h8.5M887.6 73.5h-8.5" stroke="#1c1c1c" stroke-width="4" fill="none"/>
</g>
<g filter="url(#soft)">
<text transform="translate(495 43.2) scale(1.02 1)" font-size="41.5" font-weight="bold" text-anchor="middle" fill="#111" stroke="#111" stroke-width="0.7">Wadden Sea</text><text transform="translate(86.5 85.7) scale(0.98 1)" font-size="34" text-anchor="end" fill="#1c1c1c" stroke="#1c1c1c" stroke-width="0.9">1</text><text transform="translate(86.5 205.2) scale(0.98 1)" font-size="34" text-anchor="end" fill="#1c1c1c" stroke="#1c1c1c" stroke-width="0.9">0</text><text transform="translate(86.5 324.7) scale(0.98 1)" font-size="34" text-anchor="end" fill="#1c1c1c" stroke="#1c1c1c" stroke-width="0.9">-1</text><text transform="translate(86.5 597.3) scale(0.98 1)" font-size="34" text-anchor="end" fill="#1c1c1c" stroke="#1c1c1c" stroke-width="0.9">0</text><text transform="translate(86.5 492.5) scale(0.98 1)" font-size="34" text-anchor="end" fill="#1c1c1c" stroke="#1c1c1c" stroke-width="0.9">1</text><text transform="translate(86.5 387.7) scale(0.98 1)" font-size="34" text-anchor="end" fill="#1c1c1c" stroke="#1c1c1c" stroke-width="0.9">2</text><text transform="translate(96.6 631.3) scale(0.98 1)" font-size="34" text-anchor="middle" fill="#1c1c1c" stroke="#1c1c1c" stroke-width="0.9">0</text><text transform="translate(209 631.3) scale(0.98 1)" font-size="34" text-anchor="middle" fill="#1c1c1c" stroke="#1c1c1c" stroke-width="0.9">2</text><text transform="translate(321.4 631.3) scale(0.98 1)" font-size="34" text-anchor="middle" fill="#1c1c1c" stroke="#1c1c1c" stroke-width="0.9">4</text><text transform="translate(433.8 631.3) scale(0.98 1)" font-size="34" text-anchor="middle" fill="#1c1c1c" stroke="#1c1c1c" stroke-width="0.9">6</text><text transform="translate(546.2 631.3) scale(0.98 1)" font-size="34" text-anchor="middle" fill="#1c1c1c" stroke="#1c1c1c" stroke-width="0.9">8</text><text transform="translate(665.8 631.3) scale(0.93 1)" font-size="34" text-anchor="middle" fill="#1c1c1c" stroke="#1c1c1c" stroke-width="0.9" letter-spacing="-2.6">10</text><text transform="translate(778.2 631.3) scale(0.93 1)" font-size="34" text-anchor="middle" fill="#1c1c1c" stroke="#1c1c1c" stroke-width="0.9" letter-spacing="-2.6">12</text><text transform="translate(890.6 631.3) scale(0.93 1)" font-size="34" text-anchor="middle" fill="#1c1c1c" stroke="#1c1c1c" stroke-width="0.9" letter-spacing="-2.6">14</text><text transform="translate(40.4 161.3) rotate(-90) scale(1 1.066)" font-size="44.1" text-anchor="middle" fill="#13163c" stroke="#13163c" stroke-width="0.15">Rel. ampl.</text><text transform="translate(38.2 484) rotate(-90) scale(1 1.07)" font-size="43.2" text-anchor="middle" fill="#13163c" stroke="#13163c" stroke-width="0.15">Frequentie (kHz)</text>
</g>
</g>
<g transform="translate(0 1305.5)">
<g clip-path="url(#cpC)"><g transform="translate(0 321.3) scale(1 1.0173) translate(0 -323)"><g filter="url(#cm)" fill="none" stroke-width="5.6"><rect x="90" y="312" width="810" height="280" fill="#9d9d9d"/><path stroke="#8d8d8d" d="M114 314.5h6M426 314.5h6M504 314.5h6M648 314.5h6M402 324.5h6M690 324.5h6M576 329.5h6M564 344.5h6M612 344.5h6M648 584.5h6"/><path stroke="#929292" d="M120 314.5h6M222 314.5h6M240 314.5h6M252 314.5h6M306 314.5h6M354 314.5h6M390 314.5h6M402 314.5h6M462 314.5h6M552 314.5h6M618 314.5h6M720 314.5h6M738 314.5h6M762 314.5h6M804 314.5h6M828 314.5h6M846 314.5h6M864 314.5h6M882 314.5h6M144 319.5h6M288 319.5h6M312 319.5h6M444 319.5h6M564 319.5h6M666 319.5h6M702 319.5h6M720 319.5h6M744 319.5h6M774 319.5h12M132 324.5h6M162 324.5h6M336 324.5h6M378 324.5h6M390 324.5h6M486 324.5h6M516 324.5h6M528 324.5h6M552 324.5h6M606 324.5h6M636 324.5h6M732 324.5h6M744 324.5h6M762 324.5h6M810 324.5h6M828 324.5h6M870 324.5h6M90 329.5h6M102 329.5h6M150 329.5h18M240 329.5h6M336 329.5h6M462 329.5h6M534 329.5h6M564 329.5h6M642 329.5h12M660 329.5h6M726 329.5h12M792 329.5h12M822 329.5h6M834 329.5h6M180 334.5h6M210 334.5h6M228 334.5h6M300 334.5h6M318 334.5h6M336 334.5h6M396 334.5h6M432 334.5h6M444 334.5h6M486 334.5h6M528 334.5h12M552 334.5h12M594 334.5h6M612 334.5h12M714 334.5h6M732 334.5h6M798 334.5h6M876 334.5h12M114 339.5h6M252 339.5h6M276 339.5h6M288 339.5h6M426 339.5h6M528 339.5h6M546 339.5h6M582 339.5h6M606 339.5h6M684 339.5h6M204 344.5h6M426 344.5h6M444 344.5h6M576 344.5h6M858 344.5h6M888 344.5h6M294 349.5h6M510 349.5h6M570 349.5h6M648 349.5h6M720 349.5h6M330 354.5h12M504 354.5h6M90 359.5h6M120 359.5h6M168 359.5h6M318 359.5h6M432 359.5h6M462 359.5h6M486 359.5h6M510 359.5h12M564 359.5h6M582 359.5h6M648 359.5h6M684 359.5h6M696 359.5h6M732 359.5h6M804 359.5h6M858 359.5h6M870 359.5h12M294 364.5h6M486 364.5h6M546 364.5h18M594 364.5h6M732 364.5h6M750 364.5h6M864 364.5h6M102 369.5h6M144 369.5h6M168 369.5h6M210 369.5h6M294 369.5h6M402 369.5h6M534 369.5h6M552 369.5h6M564 369.5h6M606 369.5h12M804 369.5h6M102 374.5h6M228 374.5h6M294 374.5h6M528 374.5h6M90 379.5h6M180 379.5h6M294 379.5h6M330 379.5h6M486 379.5h6M648 379.5h6M810 379.5h6M228 384.5h6M294 384.5h6M462 384.5h6M504 384.5h6M552 384.5h6M576 384.5h6M696 384.5h6M732 384.5h6M198 389.5h6M294 389.5h6M546 389.5h6M558 389.5h6M594 389.5h6M468 399.5h6M528 399.5h6M720 399.5h6M324 409.5h6M426 409.5h6M552 414.5h6M552 419.5h6M90 424.5h6M204 429.5h6M888 434.5h6M90 444.5h6M558 444.5h6M90 449.5h6M318 449.5h12M528 449.5h6M810 459.5h6M528 474.5h6M324 479.5h6M588 589.5h12"/><path stroke="#989898" d="M102 314.5h6M132 314.5h6M150 314.5h12M174 314.5h18M198 314.5h6M210 314.5h12M246 314.5h6M264 314.5h6M276 314.5h24M324 314.5h12M342 314.5h12M360 314.5h12M378 314.5h12M414 314.5h12M432 314.5h12M450 314.5h12M468 314.5h12M486 314.5h18M510 314.5h18M534 314.5h18M564 314.5h6M582 314.5h12M600 314.5h18M630 314.5h18M654 314.5h12M672 314.5h12M690 314.5h12M708 314.5h12M732 314.5h6M768 314.5h12M786 314.5h6M798 314.5h6M822 314.5h6M834 314.5h12M852 314.5h12M876 314.5h6M888 314.5h6M132 319.5h6M162 319.5h6M174 319.5h6M198 319.5h6M210 319.5h6M222 319.5h24M252 319.5h36M294 319.5h6M306 319.5h6M324 319.5h18M348 319.5h6M360 319.5h12M390 319.5h6M402 319.5h12M426 319.5h6M438 319.5h6M450 319.5h6M468 319.5h6M486 319.5h6M504 319.5h6M528 319.5h36M570 319.5h12M600 319.5h24M642 319.5h12M678 319.5h24M714 319.5h6M726 319.5h18M756 319.5h6M786 319.5h12M804 319.5h6M840 319.5h6M852 319.5h18M876 319.5h6M888 319.5h6M90 324.5h18M114 324.5h12M150 324.5h6M168 324.5h6M180 324.5h6M204 324.5h30M240 324.5h6M252 324.5h6M264 324.5h18M288 324.5h12M306 324.5h6M348 324.5h18M372 324.5h6M408 324.5h6M420 324.5h12M450 324.5h6M462 324.5h12M492 324.5h6M504 324.5h12M546 324.5h6M558 324.5h6M570 324.5h12M594 324.5h6M612 324.5h12M696 324.5h6M714 324.5h18M750 324.5h6M774 324.5h18M798 324.5h12M816 324.5h12M834 324.5h6M846 324.5h6M858 324.5h12M894 324.5h6M96 329.5h6M114 329.5h6M132 329.5h12M198 329.5h6M228 329.5h6M252 329.5h6M264 329.5h6M276 329.5h12M294 329.5h42M366 329.5h6M378 329.5h6M390 329.5h18M420 329.5h18M450 329.5h12M498 329.5h12M546 329.5h6M558 329.5h6M570 329.5h6M624 329.5h6M654 329.5h6M684 329.5h6M696 329.5h6M720 329.5h6M744 329.5h6M756 329.5h12M780 329.5h6M804 329.5h6M828 329.5h6M846 329.5h6M870 329.5h12M888 329.5h6M90 334.5h12M114 334.5h6M132 334.5h12M150 334.5h6M198 334.5h6M216 334.5h6M240 334.5h18M282 334.5h6M294 334.5h6M306 334.5h6M324 334.5h6M378 334.5h12M402 334.5h6M420 334.5h12M462 334.5h6M498 334.5h18M546 334.5h6M564 334.5h18M642 334.5h12M666 334.5h6M678 334.5h6M720 334.5h12M738 334.5h18M780 334.5h6M792 334.5h6M804 334.5h6M828 334.5h6M864 334.5h6M90 339.5h18M138 339.5h6M162 339.5h6M174 339.5h12M198 339.5h6M216 339.5h6M282 339.5h6M294 339.5h6M306 339.5h6M318 339.5h18M354 339.5h6M384 339.5h6M402 339.5h6M414 339.5h6M444 339.5h30M498 339.5h6M534 339.5h6M552 339.5h12M576 339.5h6M594 339.5h6M618 339.5h6M648 339.5h12M702 339.5h6M726 339.5h12M744 339.5h6M786 339.5h12M804 339.5h6M822 339.5h6M834 339.5h6M864 339.5h6M876 339.5h18M90 344.5h12M108 344.5h12M126 344.5h6M138 344.5h18M180 344.5h6M228 344.5h6M246 344.5h6M282 344.5h6M294 344.5h6M306 344.5h6M336 344.5h6M354 344.5h6M420 344.5h6M438 344.5h6M456 344.5h6M486 344.5h12M504 344.5h12M522 344.5h6M534 344.5h6M552 344.5h12M570 344.5h6M582 344.5h12M606 344.5h6M636 344.5h12M654 344.5h6M696 344.5h6M744 344.5h12M762 344.5h6M786 344.5h18M816 344.5h6M828 344.5h12M846 344.5h6M864 344.5h12M894 344.5h6M90 349.5h6M108 349.5h6M120 349.5h6M156 349.5h6M228 349.5h6M276 349.5h6M288 349.5h6M336 349.5h6M408 349.5h6M486 349.5h6M528 349.5h6M546 349.5h12M588 349.5h12M606 349.5h6M666 349.5h6M726 349.5h6M744 349.5h12M762 349.5h6M798 349.5h6M822 349.5h6M858 349.5h12M90 354.5h6M126 354.5h6M168 354.5h6M198 354.5h12M216 354.5h6M252 354.5h6M276 354.5h6M390 354.5h6M402 354.5h6M432 354.5h6M528 354.5h6M552 354.5h12M588 354.5h6M612 354.5h12M744 354.5h6M834 354.5h6M858 354.5h6M888 354.5h12M102 359.5h12M126 359.5h6M138 359.5h6M156 359.5h6M180 359.5h6M198 359.5h24M228 359.5h12M294 359.5h6M336 359.5h6M390 359.5h6M420 359.5h6M438 359.5h6M456 359.5h6M468 359.5h6M492 359.5h18M534 359.5h6M558 359.5h6M570 359.5h12M642 359.5h6M654 359.5h6M678 359.5h6M702 359.5h6M720 359.5h6M738 359.5h12M786 359.5h6M828 359.5h12M882 359.5h6M108 364.5h6M120 364.5h18M144 364.5h6M156 364.5h6M168 364.5h6M180 364.5h6M198 364.5h6M210 364.5h6M228 364.5h6M252 364.5h12M282 364.5h6M318 364.5h18M384 364.5h6M420 364.5h6M498 364.5h12M528 364.5h6M582 364.5h12M666 364.5h6M684 364.5h6M696 364.5h6M720 364.5h12M738 364.5h6M810 364.5h18M834 364.5h6M870 364.5h18M108 369.5h6M138 369.5h6M156 369.5h6M180 369.5h6M216 369.5h6M276 369.5h6M330 369.5h12M384 369.5h6M468 369.5h6M480 369.5h6M492 369.5h6M516 369.5h6M528 369.5h6M570 369.5h6M594 369.5h6M642 369.5h12M684 369.5h6M714 369.5h6M726 369.5h6M762 369.5h6M822 369.5h12M882 369.5h12M90 374.5h6M108 374.5h12M126 374.5h6M138 374.5h6M168 374.5h6M180 374.5h6M234 374.5h6M366 374.5h6M384 374.5h6M402 374.5h6M432 374.5h6M456 374.5h6M486 374.5h6M504 374.5h6M522 374.5h6M534 374.5h6M600 374.5h6M612 374.5h6M648 374.5h6M684 374.5h6M738 374.5h6M786 374.5h6M816 374.5h6M828 374.5h6M876 374.5h6M102 379.5h6M114 379.5h12M138 379.5h6M198 379.5h6M210 379.5h6M252 379.5h6M264 379.5h12M318 379.5h12M336 379.5h6M420 379.5h6M468 379.5h6M498 379.5h6M516 379.5h6M534 379.5h6M552 379.5h18M594 379.5h6M696 379.5h6M726 379.5h12M744 379.5h6M828 379.5h12M888 379.5h12M90 384.5h6M168 384.5h6M180 384.5h6M198 384.5h6M210 384.5h6M252 384.5h6M318 384.5h12M390 384.5h6M408 384.5h6M420 384.5h6M456 384.5h6M468 384.5h6M516 384.5h24M546 384.5h6M558 384.5h18M588 384.5h12M648 384.5h6M684 384.5h6M702 384.5h6M744 384.5h6M816 384.5h6M846 384.5h6M882 384.5h18M90 389.5h6M114 389.5h6M144 389.5h6M180 389.5h6M192 389.5h6M228 389.5h6M318 389.5h6M354 389.5h6M384 389.5h6M420 389.5h6M468 389.5h6M498 389.5h12M522 389.5h12M552 389.5h6M564 389.5h6M576 389.5h6M606 389.5h12M642 389.5h6M684 389.5h6M732 389.5h6M804 389.5h6M858 389.5h6M882 389.5h12M294 394.5h6M420 394.5h6M510 394.5h6M720 394.5h6M744 394.5h6M810 394.5h6M864 394.5h6M90 399.5h6M120 399.5h12M138 399.5h6M192 399.5h6M252 399.5h6M294 399.5h6M318 399.5h12M342 399.5h6M384 399.5h12M426 399.5h12M462 399.5h6M486 399.5h6M504 399.5h6M546 399.5h24M588 399.5h12M666 399.5h6M684 399.5h6M696 399.5h6M726 399.5h12M804 399.5h6M816 399.5h6M834 399.5h6M864 399.5h6M894 399.5h6M90 404.5h12M180 404.5h6M294 404.5h6M324 404.5h6M408 404.5h6M474 404.5h6M528 404.5h12M552 404.5h6M702 404.5h6M726 404.5h6M804 404.5h18M864 404.5h6M90 409.5h6M108 409.5h6M210 409.5h6M222 409.5h6M234 409.5h6M408 409.5h6M468 409.5h6M498 409.5h12M534 409.5h6M612 409.5h6M726 409.5h12M810 409.5h6M864 409.5h6M882 409.5h6M894 409.5h6M96 414.5h12M114 414.5h12M330 414.5h6M420 414.5h6M534 414.5h6M720 414.5h6M732 414.5h6M90 419.5h6M138 419.5h6M318 419.5h18M528 419.5h6M696 419.5h6M726 419.5h12M756 419.5h6M804 419.5h6M102 424.5h12M210 424.5h6M288 424.5h6M300 424.5h6M324 424.5h18M408 424.5h6M498 424.5h6M528 424.5h6M726 424.5h6M90 429.5h6M222 429.5h6M288 429.5h12M318 429.5h36M372 429.5h6M408 429.5h6M468 429.5h6M498 429.5h6M558 429.5h6M696 429.5h6M726 429.5h6M810 429.5h6M90 434.5h6M144 434.5h6M294 434.5h6M318 434.5h6M330 434.5h6M426 434.5h6M468 434.5h6M612 434.5h6M804 434.5h6M840 434.5h12M882 434.5h6M102 439.5h6M126 439.5h6M186 439.5h6M198 439.5h6M288 439.5h18M324 439.5h12M390 439.5h6M498 439.5h6M522 439.5h6M534 439.5h6M552 439.5h6M804 439.5h6M864 439.5h6M882 439.5h12M102 444.5h6M198 444.5h6M300 444.5h6M330 444.5h6M348 444.5h6M684 444.5h6M702 444.5h6M756 444.5h6M864 444.5h6M102 449.5h6M198 449.5h6M210 449.5h6M408 449.5h6M450 449.5h6M468 449.5h12M498 449.5h6M726 449.5h6M876 449.5h6M300 454.5h6M324 454.5h6M408 454.5h6M546 454.5h6M558 454.5h6M696 454.5h6M756 454.5h6M828 454.5h6M846 454.5h6M888 454.5h6M306 459.5h6M324 459.5h6M336 459.5h6M348 459.5h6M450 459.5h6M522 459.5h6M756 459.5h6M828 459.5h12M864 459.5h12M888 459.5h12M360 464.5h6M420 464.5h6M864 464.5h6M522 469.5h6M534 469.5h6M90 474.5h6M240 474.5h6M300 474.5h6M324 474.5h12M570 474.5h6M846 474.5h6M180 479.5h6M228 479.5h6M474 479.5h6M882 479.5h6M90 484.5h6M168 484.5h6M654 484.5h6M138 489.5h6M186 489.5h6M210 489.5h6M294 489.5h6M330 489.5h6M450 489.5h6M468 489.5h6M528 489.5h12M756 489.5h6M294 494.5h6M450 494.5h6M876 499.5h6M90 504.5h6M402 504.5h6M210 514.5h6M582 579.5h6M156 584.5h6M384 584.5h6M552 584.5h6M570 584.5h6M624 584.5h6M654 584.5h6M786 584.5h6M846 584.5h6M864 584.5h6M102 589.5h6M636 589.5h6M648 589.5h6M726 589.5h6"/><path stroke="#a3a3a3" d="M144 314.5h6M204 314.5h6M270 314.5h6M300 314.5h6M396 314.5h6M816 314.5h6M894 314.5h6M126 319.5h6M168 319.5h6M300 319.5h6M474 319.5h6M498 319.5h6M582 319.5h6M654 319.5h6M672 319.5h6M822 319.5h6M192 324.5h6M300 324.5h6M384 324.5h6M396 324.5h6M474 324.5h12M534 324.5h6M624 324.5h12M648 324.5h6M666 324.5h12M852 324.5h6M204 329.5h6M216 329.5h6M234 329.5h6M246 329.5h6M342 329.5h6M384 329.5h6M414 329.5h6M486 329.5h6M630 329.5h12M672 329.5h6M690 329.5h6M708 329.5h6M840 329.5h6M882 329.5h6M894 329.5h6M168 334.5h6M186 334.5h6M354 334.5h6M414 334.5h6M474 334.5h6M516 334.5h6M582 334.5h12M684 334.5h6M702 334.5h6M840 334.5h6M888 334.5h6M210 339.5h6M222 339.5h6M234 339.5h6M246 339.5h6M258 339.5h6M312 339.5h6M342 339.5h6M396 339.5h6M474 339.5h6M486 339.5h6M516 339.5h6M636 339.5h12M666 339.5h6M690 339.5h6M714 339.5h12M768 339.5h6M894 339.5h6M102 344.5h6M162 344.5h12M186 344.5h18M210 344.5h6M234 344.5h12M270 344.5h6M342 344.5h6M360 344.5h6M378 344.5h24M432 344.5h6M474 344.5h12M624 344.5h6M648 344.5h6M678 344.5h6M690 344.5h6M708 344.5h6M732 344.5h6M768 344.5h6M780 344.5h6M810 344.5h6M852 344.5h6M882 344.5h6M96 349.5h6M132 349.5h6M144 349.5h12M162 349.5h6M186 349.5h18M210 349.5h12M246 349.5h12M312 349.5h12M348 349.5h6M360 349.5h6M372 349.5h18M414 349.5h6M432 349.5h6M480 349.5h6M498 349.5h12M516 349.5h12M582 349.5h6M600 349.5h6M636 349.5h6M672 349.5h6M714 349.5h6M756 349.5h6M774 349.5h12M810 349.5h6M846 349.5h12M870 349.5h6M888 349.5h6M96 354.5h6M144 354.5h6M192 354.5h6M210 354.5h6M234 354.5h12M264 354.5h6M288 354.5h6M318 354.5h6M354 354.5h6M372 354.5h18M396 354.5h6M456 354.5h6M468 354.5h6M480 354.5h12M516 354.5h6M540 354.5h6M582 354.5h6M600 354.5h6M660 354.5h12M678 354.5h6M690 354.5h12M708 354.5h6M720 354.5h6M768 354.5h6M786 354.5h12M804 354.5h12M852 354.5h6M876 354.5h12M222 359.5h6M276 359.5h6M300 359.5h18M348 359.5h6M366 359.5h6M414 359.5h6M444 359.5h6M480 359.5h6M540 359.5h6M600 359.5h6M618 359.5h6M636 359.5h6M666 359.5h12M690 359.5h6M768 359.5h12M798 359.5h6M864 359.5h6M894 359.5h6M138 364.5h6M150 364.5h6M162 364.5h6M204 364.5h6M222 364.5h6M240 364.5h6M312 364.5h6M354 364.5h6M366 364.5h6M378 364.5h6M408 364.5h12M438 364.5h6M510 364.5h12M540 364.5h6M570 364.5h6M606 364.5h6M786 364.5h6M888 364.5h6M174 369.5h6M186 369.5h12M234 369.5h6M288 369.5h6M348 369.5h6M366 369.5h6M390 369.5h6M408 369.5h6M426 369.5h6M444 369.5h12M498 369.5h6M546 369.5h6M600 369.5h6M654 369.5h6M672 369.5h6M708 369.5h6M756 369.5h6M792 369.5h6M810 369.5h6M834 369.5h6M162 374.5h6M186 374.5h6M198 374.5h30M246 374.5h6M300 374.5h6M330 374.5h12M348 374.5h6M372 374.5h6M420 374.5h6M468 374.5h6M510 374.5h6M570 374.5h12M606 374.5h6M636 374.5h6M654 374.5h12M690 374.5h6M702 374.5h24M792 374.5h6M804 374.5h6M834 374.5h6M846 374.5h6M882 374.5h12M96 379.5h6M132 379.5h6M156 379.5h6M192 379.5h6M204 379.5h6M216 379.5h6M234 379.5h6M246 379.5h6M312 379.5h6M342 379.5h6M354 379.5h6M366 379.5h12M414 379.5h6M432 379.5h12M462 379.5h6M480 379.5h6M492 379.5h6M510 379.5h6M576 379.5h12M600 379.5h6M618 379.5h6M636 379.5h6M666 379.5h12M702 379.5h12M756 379.5h18M792 379.5h18M846 379.5h6M858 379.5h6M870 379.5h6M108 384.5h6M126 384.5h18M174 384.5h6M186 384.5h6M246 384.5h6M258 384.5h6M276 384.5h18M300 384.5h6M312 384.5h6M348 384.5h12M366 384.5h6M438 384.5h6M474 384.5h6M486 384.5h6M540 384.5h6M582 384.5h6M600 384.5h12M618 384.5h6M720 384.5h6M738 384.5h6M762 384.5h12M786 384.5h12M810 384.5h6M828 384.5h6M876 384.5h6M96 389.5h6M126 389.5h6M138 389.5h6M258 389.5h24M300 389.5h6M312 389.5h6M330 389.5h6M348 389.5h6M366 389.5h18M402 389.5h6M432 389.5h12M492 389.5h6M516 389.5h6M534 389.5h6M570 389.5h6M618 389.5h6M636 389.5h6M696 389.5h24M744 389.5h6M762 389.5h6M792 389.5h6M822 389.5h12M840 389.5h12M876 389.5h6M96 394.5h6M108 394.5h12M126 394.5h6M138 394.5h12M180 394.5h6M192 394.5h6M204 394.5h24M234 394.5h6M246 394.5h6M258 394.5h18M288 394.5h6M300 394.5h6M312 394.5h6M336 394.5h6M348 394.5h6M384 394.5h12M414 394.5h6M432 394.5h6M456 394.5h18M486 394.5h12M522 394.5h6M534 394.5h6M558 394.5h12M582 394.5h6M594 394.5h6M618 394.5h6M648 394.5h6M660 394.5h6M690 394.5h6M708 394.5h6M732 394.5h6M786 394.5h6M804 394.5h6M822 394.5h12M840 394.5h12M876 394.5h6M894 394.5h6M108 399.5h6M156 399.5h6M198 399.5h12M222 399.5h18M246 399.5h6M264 399.5h6M282 399.5h12M348 399.5h6M372 399.5h6M402 399.5h6M420 399.5h6M438 399.5h6M498 399.5h6M516 399.5h12M534 399.5h6M576 399.5h12M600 399.5h6M612 399.5h6M642 399.5h12M660 399.5h6M708 399.5h6M744 399.5h6M756 399.5h6M792 399.5h12M828 399.5h6M846 399.5h6M870 399.5h6M108 404.5h6M120 404.5h6M144 404.5h6M156 404.5h6M168 404.5h6M186 404.5h6M204 404.5h6M222 404.5h6M234 404.5h12M258 404.5h6M282 404.5h12M300 404.5h6M342 404.5h12M420 404.5h12M450 404.5h12M468 404.5h6M486 404.5h12M588 404.5h6M606 404.5h12M642 404.5h12M672 404.5h6M684 404.5h6M720 404.5h6M738 404.5h6M756 404.5h6M786 404.5h18M834 404.5h6M846 404.5h6M126 409.5h6M156 409.5h6M168 409.5h6M192 409.5h12M228 409.5h6M240 409.5h6M258 409.5h6M270 409.5h6M348 409.5h12M366 409.5h6M390 409.5h6M432 409.5h6M444 409.5h6M462 409.5h6M474 409.5h6M486 409.5h12M510 409.5h6M522 409.5h6M546 409.5h12M564 409.5h6M600 409.5h12M642 409.5h6M666 409.5h6M702 409.5h12M720 409.5h6M744 409.5h6M786 409.5h6M822 409.5h6M834 409.5h12M858 409.5h6M126 414.5h6M186 414.5h6M204 414.5h6M300 414.5h6M324 414.5h6M336 414.5h12M354 414.5h6M378 414.5h12M408 414.5h6M426 414.5h12M456 414.5h18M486 414.5h6M516 414.5h18M564 414.5h12M582 414.5h6M594 414.5h6M606 414.5h12M642 414.5h6M684 414.5h6M708 414.5h6M738 414.5h6M750 414.5h6M786 414.5h6M834 414.5h6M846 414.5h6M864 414.5h6M876 414.5h18M114 419.5h6M126 419.5h6M144 419.5h6M168 419.5h6M180 419.5h12M204 419.5h18M228 419.5h12M300 419.5h6M342 419.5h18M366 419.5h12M384 419.5h12M402 419.5h6M426 419.5h12M444 419.5h6M498 419.5h6M522 419.5h6M534 419.5h6M558 419.5h6M570 419.5h12M594 419.5h6M618 419.5h6M642 419.5h12M666 419.5h6M690 419.5h6M738 419.5h6M750 419.5h6M786 419.5h6M822 419.5h6M846 419.5h6M858 419.5h24M888 419.5h6M114 424.5h6M132 424.5h6M144 424.5h6M168 424.5h12M186 424.5h6M204 424.5h6M240 424.5h6M282 424.5h6M312 424.5h6M354 424.5h6M366 424.5h18M396 424.5h6M426 424.5h24M474 424.5h6M486 424.5h12M546 424.5h6M558 424.5h12M576 424.5h6M588 424.5h6M612 424.5h12M642 424.5h12M708 424.5h6M720 424.5h6M744 424.5h6M756 424.5h6M786 424.5h6M834 424.5h12M858 424.5h30M894 424.5h6M108 429.5h24M138 429.5h6M168 429.5h6M186 429.5h6M198 429.5h6M234 429.5h6M258 429.5h12M282 429.5h6M354 429.5h6M402 429.5h6M420 429.5h6M432 429.5h6M444 429.5h6M492 429.5h6M522 429.5h6M540 429.5h6M552 429.5h6M564 429.5h12M588 429.5h18M648 429.5h6M684 429.5h6M732 429.5h12M750 429.5h6M846 429.5h6M864 429.5h6M876 429.5h6M894 429.5h6M96 434.5h12M114 434.5h12M156 434.5h6M168 434.5h6M180 434.5h6M192 434.5h6M234 434.5h6M258 434.5h6M270 434.5h12M336 434.5h6M354 434.5h6M378 434.5h6M456 434.5h6M492 434.5h6M546 434.5h12M564 434.5h6M588 434.5h12M684 434.5h6M738 434.5h30M786 434.5h6M828 434.5h12M876 434.5h6M894 434.5h6M132 439.5h12M234 439.5h6M258 439.5h6M270 439.5h6M318 439.5h6M354 439.5h6M396 439.5h6M450 439.5h6M474 439.5h6M546 439.5h6M558 439.5h6M570 439.5h6M582 439.5h6M600 439.5h12M642 439.5h12M666 439.5h6M678 439.5h6M702 439.5h6M870 439.5h12M96 444.5h6M120 444.5h6M132 444.5h6M144 444.5h6M204 444.5h6M222 444.5h6M306 444.5h6M318 444.5h6M336 444.5h6M354 444.5h30M420 444.5h12M474 444.5h6M498 444.5h6M516 444.5h6M552 444.5h6M564 444.5h6M588 444.5h6M600 444.5h6M642 444.5h12M678 444.5h6M690 444.5h12M732 444.5h12M810 444.5h12M870 444.5h6M882 444.5h18M114 449.5h6M126 449.5h12M144 449.5h6M186 449.5h12M204 449.5h6M258 449.5h6M270 449.5h6M294 449.5h12M336 449.5h12M354 449.5h12M372 449.5h6M396 449.5h6M504 449.5h6M522 449.5h6M534 449.5h6M552 449.5h6M564 449.5h6M600 449.5h6M642 449.5h6M690 449.5h12M738 449.5h6M762 449.5h6M810 449.5h6M822 449.5h18M846 449.5h6M882 449.5h6M894 449.5h6M90 454.5h12M126 454.5h12M144 454.5h6M162 454.5h12M204 454.5h6M240 454.5h6M270 454.5h6M282 454.5h6M306 454.5h18M342 454.5h12M372 454.5h12M426 454.5h6M450 454.5h12M498 454.5h12M570 454.5h12M588 454.5h6M600 454.5h6M642 454.5h6M684 454.5h12M732 454.5h6M798 454.5h6M840 454.5h6M864 454.5h6M90 459.5h6M108 459.5h6M126 459.5h18M156 459.5h6M168 459.5h12M186 459.5h12M204 459.5h6M258 459.5h12M282 459.5h6M312 459.5h6M342 459.5h6M378 459.5h6M396 459.5h6M426 459.5h6M444 459.5h6M456 459.5h6M468 459.5h6M534 459.5h12M552 459.5h18M588 459.5h6M600 459.5h12M702 459.5h6M804 459.5h6M816 459.5h12M102 464.5h12M120 464.5h6M132 464.5h6M168 464.5h6M180 464.5h12M198 464.5h12M258 464.5h6M282 464.5h12M300 464.5h30M366 464.5h6M384 464.5h6M396 464.5h18M426 464.5h6M450 464.5h6M498 464.5h6M534 464.5h18M678 464.5h6M690 464.5h6M732 464.5h6M804 464.5h6M834 464.5h6M846 464.5h6M894 464.5h6M96 469.5h6M120 469.5h12M162 469.5h12M198 469.5h6M222 469.5h12M258 469.5h6M288 469.5h6M300 469.5h6M312 469.5h6M336 469.5h6M366 469.5h6M402 469.5h6M426 469.5h6M516 469.5h6M540 469.5h6M552 469.5h6M594 469.5h6M666 469.5h6M690 469.5h6M702 469.5h6M726 469.5h6M756 469.5h6M804 469.5h6M840 469.5h18M96 474.5h12M126 474.5h12M174 474.5h36M264 474.5h30M312 474.5h12M360 474.5h12M384 474.5h6M402 474.5h6M420 474.5h12M456 474.5h24M504 474.5h6M534 474.5h6M804 474.5h6M822 474.5h18M858 474.5h12M876 474.5h6M894 474.5h6M96 479.5h18M120 479.5h6M132 479.5h6M156 479.5h18M204 479.5h6M240 479.5h6M282 479.5h12M306 479.5h6M336 479.5h6M348 479.5h12M378 479.5h6M420 479.5h6M456 479.5h6M468 479.5h6M522 479.5h12M558 479.5h6M696 479.5h12M726 479.5h12M756 479.5h6M780 479.5h6M798 479.5h6M810 479.5h6M834 479.5h6M846 479.5h18M876 479.5h6M888 479.5h6M102 484.5h12M126 484.5h6M156 484.5h6M210 484.5h6M240 484.5h6M270 484.5h6M288 484.5h6M306 484.5h24M360 484.5h6M402 484.5h12M426 484.5h6M450 484.5h6M462 484.5h6M474 484.5h6M498 484.5h6M534 484.5h6M546 484.5h6M726 484.5h12M828 484.5h6M840 484.5h6M852 484.5h6M888 484.5h6M90 489.5h12M108 489.5h6M132 489.5h6M144 489.5h6M162 489.5h6M180 489.5h6M204 489.5h6M228 489.5h6M240 489.5h6M318 489.5h12M420 489.5h6M504 489.5h6M690 489.5h6M726 489.5h12M768 489.5h6M786 489.5h6M810 489.5h6M834 489.5h6M864 489.5h12M888 489.5h6M90 494.5h24M120 494.5h12M150 494.5h6M168 494.5h6M210 494.5h6M228 494.5h6M240 494.5h6M276 494.5h12M306 494.5h6M318 494.5h12M348 494.5h6M360 494.5h6M402 494.5h6M444 494.5h6M504 494.5h6M528 494.5h6M546 494.5h6M696 494.5h6M792 494.5h6M804 494.5h6M840 494.5h6M858 494.5h6M870 494.5h12M894 494.5h6M102 499.5h6M120 499.5h6M150 499.5h18M180 499.5h6M198 499.5h6M240 499.5h6M252 499.5h12M300 499.5h6M312 499.5h6M324 499.5h12M348 499.5h6M384 499.5h6M402 499.5h6M420 499.5h6M456 499.5h6M522 499.5h6M534 499.5h6M612 499.5h6M732 499.5h6M756 499.5h18M786 499.5h6M810 499.5h6M852 499.5h18M882 499.5h6M102 504.5h12M120 504.5h6M138 504.5h6M150 504.5h18M180 504.5h12M216 504.5h12M252 504.5h6M294 504.5h12M324 504.5h6M348 504.5h6M450 504.5h6M498 504.5h6M522 504.5h6M546 504.5h6M762 504.5h12M792 504.5h6M810 504.5h6M828 504.5h6M840 504.5h6M858 504.5h12M882 504.5h6M894 504.5h6M90 509.5h12M138 509.5h6M156 509.5h12M180 509.5h6M216 509.5h6M270 509.5h12M288 509.5h6M300 509.5h6M330 509.5h6M360 509.5h6M402 509.5h6M450 509.5h12M468 509.5h6M534 509.5h6M702 509.5h6M714 509.5h6M756 509.5h12M798 509.5h6M840 509.5h6M864 509.5h6M888 509.5h6M90 514.5h6M108 514.5h6M138 514.5h6M150 514.5h24M180 514.5h12M222 514.5h6M252 514.5h6M288 514.5h18M366 514.5h6M450 514.5h6M468 514.5h6M522 514.5h6M534 514.5h12M672 514.5h6M732 514.5h6M762 514.5h12M798 514.5h6M858 514.5h12M882 514.5h12M96 519.5h18M120 519.5h6M138 519.5h6M156 519.5h6M180 519.5h6M222 519.5h6M288 519.5h12M324 519.5h6M348 519.5h6M366 519.5h6M402 519.5h6M504 519.5h6M534 519.5h12M552 519.5h6M672 519.5h6M732 519.5h6M774 519.5h12M804 519.5h6M852 519.5h18M882 519.5h6M138 524.5h6M150 524.5h6M162 524.5h6M186 524.5h6M210 524.5h6M294 524.5h12M330 524.5h6M360 524.5h6M534 524.5h6M732 524.5h6M762 524.5h6M828 524.5h12M864 524.5h6M90 529.5h12M108 529.5h6M150 529.5h12M168 529.5h6M210 529.5h6M294 529.5h6M312 529.5h6M360 529.5h6M504 529.5h6M522 529.5h12M756 529.5h6M774 529.5h12M798 529.5h12M846 529.5h6M858 529.5h12M894 529.5h6M90 534.5h6M156 534.5h6M246 534.5h6M288 534.5h6M384 534.5h6M504 534.5h6M534 534.5h6M762 534.5h6M774 534.5h6M786 534.5h6M864 534.5h6M876 534.5h18M120 539.5h6M138 539.5h6M174 539.5h6M312 539.5h6M360 539.5h6M432 539.5h6M498 539.5h6M528 539.5h12M552 539.5h6M744 539.5h6M798 539.5h12M840 539.5h6M156 544.5h6M186 544.5h6M294 544.5h6M360 544.5h6M762 544.5h6M888 544.5h12M102 549.5h6M732 549.5h6M162 554.5h6M288 554.5h6M750 554.5h6M768 554.5h6M798 554.5h6M162 559.5h6M252 559.5h6M276 559.5h6M180 574.5h6M756 574.5h6M786 574.5h6M90 579.5h24M144 579.5h6M174 579.5h6M186 579.5h12M222 579.5h6M252 579.5h6M264 579.5h6M330 579.5h6M348 579.5h6M366 579.5h6M378 579.5h12M432 579.5h6M480 579.5h6M534 579.5h6M552 579.5h12M570 579.5h6M648 579.5h6M660 579.5h6M678 579.5h6M690 579.5h18M744 579.5h6M756 579.5h6M828 579.5h18M852 579.5h6M876 579.5h6M888 579.5h12M138 584.5h18M162 584.5h24M222 584.5h6M240 584.5h6M258 584.5h6M270 584.5h24M300 584.5h6M312 584.5h6M324 584.5h6M336 584.5h6M354 584.5h18M432 584.5h6M462 584.5h6M474 584.5h6M486 584.5h6M534 584.5h6M546 584.5h6M558 584.5h6M612 584.5h6M630 584.5h6M672 584.5h12M714 584.5h12M732 584.5h6M744 584.5h6M756 584.5h6M768 584.5h6M798 584.5h12M828 584.5h6M840 584.5h6M876 584.5h18M90 589.5h6M108 589.5h12M174 589.5h12M210 589.5h6M246 589.5h18M276 589.5h6M306 589.5h12M324 589.5h6M348 589.5h24M396 589.5h6M408 589.5h6M438 589.5h6M462 589.5h12M528 589.5h30M582 589.5h6M606 589.5h12M624 589.5h6M672 589.5h12M690 589.5h6M708 589.5h6M720 589.5h6M732 589.5h24M762 589.5h12M798 589.5h12M828 589.5h6M846 589.5h12M870 589.5h18"/><path stroke="#a8a8a8" d="M342 324.5h6M174 334.5h6M630 334.5h6M192 339.5h6M270 339.5h6M360 339.5h6M624 339.5h6M810 339.5h6M414 344.5h6M630 344.5h6M804 344.5h6M840 344.5h6M234 349.5h6M354 349.5h6M396 349.5h6M474 349.5h6M540 349.5h6M624 349.5h6M768 349.5h6M792 349.5h6M840 349.5h6M150 354.5h6M162 354.5h6M186 354.5h6M270 354.5h6M438 354.5h6M510 354.5h6M636 354.5h6M774 354.5h6M840 354.5h6M192 359.5h6M246 359.5h6M288 359.5h6M342 359.5h6M378 359.5h6M450 359.5h6M624 359.5h6M780 359.5h6M810 359.5h6M186 364.5h6M264 364.5h6M306 364.5h6M342 364.5h12M450 364.5h6M480 364.5h6M654 364.5h6M672 364.5h6M690 364.5h6M708 364.5h6M774 364.5h6M852 364.5h6M150 369.5h6M312 369.5h6M342 369.5h6M372 369.5h6M414 369.5h6M438 369.5h6M474 369.5h6M636 369.5h6M774 369.5h6M840 369.5h6M264 374.5h6M306 374.5h6M396 374.5h6M414 374.5h6M516 374.5h6M672 374.5h12M768 374.5h6M798 374.5h6M810 374.5h6M840 374.5h6M150 379.5h6M162 379.5h6M186 379.5h6M288 379.5h6M306 379.5h6M348 379.5h6M378 379.5h6M474 379.5h6M678 379.5h6M270 384.5h6M306 384.5h6M342 384.5h6M372 384.5h12M414 384.5h6M450 384.5h6M492 384.5h6M636 384.5h12M654 384.5h12M672 384.5h12M708 384.5h6M132 389.5h6M150 389.5h6M174 389.5h6M186 389.5h6M222 389.5h6M246 389.5h6M282 389.5h12M306 389.5h6M360 389.5h6M480 389.5h12M588 389.5h6M678 389.5h6M750 389.5h6M768 389.5h6M798 389.5h6M132 394.5h6M162 394.5h12M186 394.5h6M240 394.5h6M276 394.5h6M306 394.5h6M354 394.5h6M366 394.5h6M450 394.5h6M474 394.5h12M642 394.5h6M672 394.5h6M714 394.5h6M738 394.5h6M762 394.5h12M792 394.5h6M882 394.5h6M132 399.5h6M162 399.5h6M174 399.5h6M216 399.5h6M270 399.5h12M306 399.5h12M396 399.5h6M414 399.5h6M450 399.5h6M672 399.5h6M738 399.5h6M762 399.5h12M840 399.5h6M876 399.5h6M126 404.5h12M174 404.5h6M216 404.5h6M246 404.5h6M264 404.5h6M306 404.5h6M354 404.5h6M372 404.5h12M396 404.5h12M414 404.5h6M438 404.5h6M462 404.5h6M510 404.5h6M600 404.5h6M660 404.5h6M690 404.5h6M708 404.5h6M762 404.5h12M822 404.5h6M858 404.5h6M870 404.5h12M132 409.5h6M162 409.5h6M216 409.5h6M264 409.5h6M276 409.5h12M378 409.5h12M414 409.5h6M456 409.5h6M570 409.5h18M660 409.5h6M672 409.5h12M690 409.5h6M714 409.5h6M762 409.5h12M798 409.5h6M870 409.5h12M108 414.5h6M132 414.5h6M144 414.5h6M210 414.5h12M228 414.5h6M240 414.5h6M264 414.5h6M282 414.5h6M312 414.5h6M360 414.5h12M396 414.5h12M414 414.5h6M438 414.5h6M450 414.5h6M474 414.5h6M492 414.5h6M510 414.5h6M540 414.5h6M576 414.5h6M618 414.5h6M696 414.5h6M762 414.5h6M816 414.5h18M858 414.5h6M870 414.5h6M156 419.5h6M174 419.5h6M258 419.5h30M360 419.5h6M414 419.5h6M450 419.5h18M474 419.5h12M492 419.5h6M510 419.5h6M588 419.5h6M606 419.5h6M660 419.5h6M702 419.5h6M720 419.5h6M762 419.5h6M810 419.5h6M828 419.5h12M894 419.5h6M126 424.5h6M156 424.5h6M192 424.5h6M216 424.5h6M234 424.5h6M306 424.5h6M360 424.5h6M402 424.5h6M462 424.5h6M516 424.5h6M582 424.5h6M594 424.5h6M666 424.5h6M750 424.5h6M762 424.5h6M822 424.5h6M132 429.5h6M144 429.5h6M156 429.5h6M174 429.5h6M216 429.5h6M228 429.5h6M240 429.5h6M270 429.5h12M360 429.5h12M414 429.5h6M462 429.5h6M486 429.5h6M510 429.5h6M606 429.5h6M618 429.5h6M642 429.5h6M678 429.5h6M690 429.5h6M708 429.5h6M720 429.5h6M744 429.5h6M786 429.5h6M828 429.5h12M858 429.5h6M132 434.5h6M174 434.5h6M264 434.5h6M306 434.5h12M366 434.5h6M396 434.5h6M444 434.5h6M474 434.5h6M486 434.5h6M576 434.5h12M600 434.5h12M618 434.5h6M648 434.5h6M678 434.5h6M696 434.5h12M720 434.5h6M852 434.5h12M870 434.5h6M144 439.5h6M174 439.5h6M192 439.5h6M264 439.5h6M276 439.5h12M312 439.5h6M342 439.5h6M378 439.5h6M456 439.5h12M492 439.5h6M576 439.5h6M588 439.5h6M684 439.5h12M720 439.5h6M744 439.5h12M810 439.5h6M840 439.5h6M858 439.5h6M894 439.5h6M162 444.5h18M258 444.5h12M312 444.5h6M342 444.5h6M384 444.5h18M432 444.5h6M462 444.5h6M504 444.5h6M522 444.5h6M540 444.5h6M570 444.5h12M594 444.5h6M606 444.5h6M720 444.5h12M750 444.5h6M762 444.5h6M786 444.5h6M834 444.5h6M852 444.5h12M120 449.5h6M156 449.5h6M216 449.5h6M228 449.5h6M282 449.5h6M366 449.5h6M390 449.5h6M432 449.5h6M462 449.5h6M480 449.5h6M540 449.5h6M570 449.5h6M588 449.5h12M612 449.5h6M684 449.5h6M702 449.5h6M744 449.5h12M816 449.5h6M840 449.5h6M858 449.5h6M114 454.5h12M174 454.5h6M192 454.5h6M216 454.5h6M234 454.5h6M276 454.5h6M288 454.5h6M336 454.5h6M390 454.5h6M420 454.5h6M432 454.5h6M444 454.5h6M462 454.5h6M540 454.5h6M552 454.5h6M564 454.5h6M594 454.5h6M612 454.5h6M750 454.5h6M762 454.5h6M816 454.5h6M834 454.5h6M120 459.5h6M144 459.5h6M180 459.5h6M228 459.5h12M270 459.5h12M366 459.5h12M384 459.5h12M462 459.5h6M492 459.5h6M504 459.5h6M570 459.5h12M594 459.5h6M612 459.5h6M648 459.5h6M684 459.5h12M720 459.5h6M762 459.5h6M798 459.5h6M858 459.5h6M114 464.5h6M126 464.5h6M144 464.5h6M162 464.5h6M228 464.5h18M330 464.5h6M354 464.5h6M372 464.5h12M444 464.5h6M456 464.5h6M504 464.5h6M516 464.5h6M552 464.5h6M570 464.5h6M642 464.5h6M702 464.5h6M738 464.5h6M756 464.5h12M786 464.5h6M798 464.5h6M816 464.5h6M852 464.5h12M876 464.5h6M114 469.5h6M156 469.5h6M192 469.5h6M204 469.5h6M294 469.5h6M324 469.5h12M354 469.5h6M378 469.5h6M396 469.5h6M450 469.5h6M462 469.5h6M474 469.5h6M546 469.5h6M558 469.5h6M570 469.5h6M600 469.5h6M612 469.5h6M642 469.5h6M732 469.5h12M750 469.5h6M762 469.5h6M786 469.5h12M810 469.5h18M834 469.5h6M858 469.5h6M870 469.5h6M894 469.5h6M120 474.5h6M216 474.5h6M228 474.5h6M258 474.5h6M306 474.5h6M336 474.5h6M354 474.5h6M372 474.5h12M444 474.5h6M552 474.5h12M576 474.5h6M600 474.5h24M690 474.5h6M702 474.5h6M726 474.5h6M738 474.5h6M798 474.5h6M816 474.5h6M852 474.5h6M144 479.5h6M174 479.5h6M186 479.5h6M216 479.5h6M234 479.5h6M270 479.5h12M366 479.5h12M384 479.5h6M414 479.5h6M462 479.5h6M540 479.5h6M552 479.5h6M564 479.5h6M606 479.5h6M642 479.5h6M666 479.5h12M690 479.5h6M762 479.5h6M786 479.5h12M804 479.5h6M816 479.5h12M894 479.5h6M96 484.5h6M120 484.5h6M132 484.5h6M144 484.5h6M162 484.5h6M174 484.5h6M186 484.5h24M216 484.5h6M228 484.5h6M258 484.5h6M276 484.5h12M300 484.5h6M342 484.5h18M366 484.5h6M384 484.5h6M420 484.5h6M504 484.5h6M552 484.5h24M588 484.5h6M606 484.5h6M666 484.5h6M696 484.5h6M762 484.5h12M780 484.5h18M804 484.5h12M834 484.5h6M870 484.5h12M114 489.5h12M150 489.5h6M174 489.5h6M192 489.5h12M216 489.5h6M276 489.5h12M342 489.5h6M354 489.5h6M366 489.5h6M378 489.5h12M426 489.5h6M456 489.5h6M474 489.5h6M540 489.5h6M552 489.5h18M666 489.5h6M696 489.5h12M714 489.5h12M762 489.5h6M780 489.5h6M792 489.5h6M804 489.5h6M852 489.5h12M894 489.5h6M132 494.5h12M198 494.5h12M216 494.5h6M252 494.5h6M270 494.5h6M288 494.5h6M342 494.5h6M366 494.5h6M378 494.5h6M420 494.5h12M468 494.5h12M498 494.5h6M558 494.5h6M570 494.5h6M612 494.5h6M672 494.5h6M702 494.5h12M726 494.5h12M762 494.5h18M834 494.5h6M852 494.5h6M864 494.5h6M126 499.5h18M192 499.5h6M204 499.5h6M222 499.5h6M270 499.5h6M282 499.5h12M306 499.5h6M336 499.5h6M366 499.5h6M408 499.5h6M426 499.5h6M468 499.5h12M498 499.5h12M540 499.5h12M558 499.5h6M696 499.5h18M726 499.5h6M750 499.5h6M780 499.5h6M792 499.5h6M804 499.5h6M846 499.5h6M96 504.5h6M174 504.5h6M204 504.5h6M246 504.5h6M306 504.5h6M330 504.5h12M366 504.5h6M408 504.5h6M426 504.5h6M456 504.5h6M528 504.5h6M558 504.5h6M600 504.5h6M612 504.5h6M672 504.5h6M702 504.5h6M714 504.5h6M726 504.5h6M750 504.5h6M774 504.5h12M870 504.5h6M102 509.5h6M126 509.5h6M144 509.5h12M168 509.5h12M186 509.5h6M198 509.5h6M252 509.5h6M264 509.5h6M282 509.5h6M306 509.5h12M324 509.5h6M384 509.5h6M408 509.5h6M426 509.5h6M498 509.5h6M558 509.5h6M696 509.5h6M732 509.5h6M768 509.5h6M780 509.5h12M804 509.5h6M816 509.5h6M828 509.5h6M852 509.5h12M870 509.5h12M894 509.5h6M96 514.5h12M120 514.5h6M144 514.5h6M216 514.5h6M246 514.5h6M264 514.5h12M312 514.5h6M324 514.5h12M360 514.5h6M384 514.5h6M402 514.5h12M456 514.5h6M498 514.5h12M528 514.5h6M558 514.5h6M750 514.5h6M786 514.5h12M828 514.5h30M876 514.5h6M894 514.5h6M114 519.5h6M162 519.5h12M186 519.5h6M198 519.5h6M210 519.5h12M246 519.5h6M264 519.5h12M300 519.5h6M330 519.5h6M378 519.5h12M408 519.5h6M426 519.5h6M456 519.5h6M468 519.5h6M498 519.5h6M522 519.5h6M570 519.5h6M654 519.5h6M702 519.5h6M756 519.5h18M792 519.5h6M834 519.5h18M870 519.5h12M888 519.5h6M90 524.5h24M120 524.5h6M156 524.5h6M174 524.5h12M216 524.5h12M252 524.5h6M264 524.5h6M282 524.5h12M324 524.5h6M366 524.5h6M378 524.5h12M444 524.5h6M456 524.5h6M540 524.5h6M552 524.5h6M582 524.5h6M672 524.5h6M702 524.5h6M714 524.5h6M774 524.5h36M840 524.5h12M858 524.5h6M870 524.5h6M882 524.5h18M102 529.5h6M120 529.5h6M174 529.5h18M216 529.5h12M246 529.5h12M264 529.5h6M276 529.5h6M288 529.5h6M300 529.5h6M330 529.5h6M348 529.5h6M384 529.5h6M402 529.5h12M450 529.5h12M534 529.5h6M552 529.5h6M672 529.5h6M690 529.5h12M732 529.5h6M762 529.5h12M786 529.5h6M834 529.5h12M876 529.5h12M102 534.5h12M138 534.5h6M150 534.5h6M162 534.5h12M180 534.5h12M252 534.5h6M264 534.5h6M360 534.5h6M378 534.5h6M432 534.5h6M462 534.5h6M522 534.5h12M540 534.5h6M672 534.5h6M690 534.5h24M726 534.5h6M744 534.5h12M768 534.5h6M792 534.5h12M828 534.5h6M846 534.5h6M870 534.5h6M90 539.5h6M108 539.5h6M144 539.5h18M168 539.5h6M180 539.5h6M210 539.5h6M222 539.5h6M246 539.5h12M264 539.5h6M282 539.5h12M366 539.5h6M384 539.5h6M456 539.5h12M492 539.5h6M504 539.5h6M522 539.5h6M726 539.5h18M768 539.5h6M834 539.5h6M846 539.5h6M864 539.5h36M90 544.5h30M138 544.5h6M162 544.5h12M180 544.5h6M210 544.5h6M222 544.5h6M246 544.5h12M330 544.5h6M366 544.5h6M384 544.5h6M408 544.5h6M444 544.5h24M504 544.5h6M522 544.5h6M534 544.5h6M552 544.5h6M732 544.5h6M756 544.5h6M768 544.5h12M792 544.5h18M840 544.5h12M858 544.5h6M870 544.5h18M90 549.5h6M138 549.5h12M168 549.5h6M180 549.5h6M210 549.5h6M222 549.5h6M366 549.5h6M528 549.5h6M696 549.5h6M726 549.5h6M762 549.5h6M780 549.5h18M804 549.5h6M846 549.5h6M864 549.5h12M894 549.5h6M108 554.5h6M150 554.5h6M168 554.5h6M180 554.5h6M222 554.5h6M246 554.5h12M366 554.5h6M690 554.5h18M726 554.5h6M756 554.5h6M774 554.5h6M792 554.5h6M804 554.5h6M846 554.5h6M858 554.5h12M888 554.5h12M90 559.5h6M138 559.5h6M168 559.5h6M180 559.5h6M210 559.5h6M300 559.5h6M696 559.5h6M720 559.5h6M732 559.5h6M744 559.5h6M756 559.5h6M834 559.5h12M858 559.5h12M90 574.5h6M144 574.5h6M690 574.5h12M726 574.5h6M738 574.5h6M762 574.5h6M780 574.5h6M798 574.5h12M834 574.5h6M846 574.5h6M876 574.5h6M888 574.5h6M120 579.5h12M138 579.5h6M162 579.5h6M180 579.5h6M210 579.5h12M228 579.5h6M246 579.5h6M276 579.5h6M288 579.5h6M306 579.5h12M324 579.5h6M336 579.5h12M408 579.5h6M438 579.5h12M456 579.5h6M522 579.5h6M540 579.5h6M564 579.5h6M642 579.5h6M666 579.5h6M684 579.5h6M708 579.5h18M732 579.5h6M762 579.5h6M780 579.5h6M792 579.5h6M846 579.5h6M858 579.5h18M102 584.5h12M132 584.5h6M186 584.5h12M216 584.5h6M228 584.5h12M246 584.5h6M342 584.5h6M372 584.5h6M402 584.5h6M414 584.5h6M426 584.5h6M438 584.5h24M468 584.5h6M480 584.5h6M492 584.5h6M540 584.5h6M588 584.5h6M666 584.5h6M684 584.5h18M708 584.5h6M738 584.5h6M762 584.5h6M792 584.5h6M810 584.5h12M852 584.5h12M96 589.5h6M120 589.5h12M144 589.5h6M168 589.5h6M198 589.5h6M228 589.5h18M264 589.5h6M282 589.5h6M318 589.5h6M336 589.5h6M372 589.5h6M384 589.5h6M414 589.5h18M450 589.5h6M480 589.5h18M510 589.5h6M522 589.5h6M576 589.5h6M654 589.5h6M702 589.5h6M774 589.5h6M792 589.5h6M810 589.5h6M840 589.5h6M858 589.5h6M894 589.5h6"/><path stroke="#aeaeae" d="M630 339.5h6M342 349.5h6M342 354.5h6M360 354.5h6M414 354.5h6M624 354.5h6M672 354.5h6M780 354.5h6M360 359.5h6M396 359.5h6M840 359.5h6M360 364.5h6M840 364.5h6M378 369.5h6M396 369.5h6M540 369.5h6M624 369.5h6M780 369.5h6M150 374.5h6M282 374.5h6M378 374.5h6M450 374.5h6M774 374.5h6M852 374.5h6M396 379.5h6M450 379.5h6M540 379.5h6M606 379.5h6M654 379.5h12M774 379.5h6M852 379.5h6M162 384.5h6M396 384.5h6M480 384.5h6M756 384.5h6M852 384.5h6M414 389.5h6M450 389.5h6M624 389.5h6M654 389.5h12M852 389.5h6M156 394.5h6M378 394.5h6M396 394.5h6M516 394.5h6M540 394.5h6M636 394.5h6M678 394.5h6M756 394.5h6M774 394.5h6M798 394.5h6M150 399.5h6M480 399.5h6M540 399.5h6M678 399.5h6M714 399.5h6M162 404.5h6M270 404.5h12M312 404.5h6M480 404.5h6M540 404.5h6M678 404.5h6M714 404.5h6M174 409.5h6M186 409.5h6M246 409.5h6M306 409.5h12M396 409.5h6M438 409.5h6M636 409.5h6M792 409.5h6M852 409.5h6M156 414.5h12M174 414.5h6M258 414.5h6M306 414.5h6M444 414.5h6M480 414.5h6M660 414.5h6M690 414.5h6M714 414.5h6M792 414.5h6M852 414.5h6M132 419.5h6M162 419.5h6M240 419.5h6M252 419.5h6M312 419.5h6M438 419.5h6M486 419.5h6M582 419.5h6M636 419.5h6M672 419.5h12M852 419.5h6M162 424.5h6M228 424.5h6M252 424.5h30M414 424.5h6M456 424.5h6M480 424.5h6M510 424.5h6M540 424.5h6M672 424.5h6M690 424.5h6M792 424.5h6M828 424.5h6M252 429.5h6M306 429.5h12M438 429.5h6M582 429.5h6M666 429.5h6M216 434.5h6M228 434.5h6M432 434.5h12M462 434.5h6M480 434.5h6M510 434.5h6M540 434.5h6M642 434.5h6M666 434.5h6M708 434.5h6M792 434.5h6M156 439.5h12M228 439.5h6M306 439.5h6M432 439.5h6M444 439.5h6M480 439.5h12M510 439.5h6M540 439.5h6M612 439.5h6M714 439.5h6M762 439.5h6M786 439.5h6M852 439.5h6M156 444.5h6M216 444.5h6M228 444.5h6M276 444.5h6M414 444.5h6M456 444.5h6M492 444.5h6M510 444.5h6M582 444.5h6M618 444.5h6M666 444.5h6M744 444.5h6M162 449.5h6M174 449.5h6M234 449.5h6M264 449.5h6M276 449.5h6M306 449.5h12M378 449.5h12M444 449.5h6M456 449.5h6M486 449.5h12M576 449.5h6M648 449.5h6M666 449.5h18M714 449.5h12M786 449.5h6M798 449.5h6M852 449.5h6M156 454.5h6M228 454.5h6M264 454.5h6M384 454.5h6M492 454.5h6M510 454.5h6M582 454.5h6M606 454.5h6M618 454.5h6M648 454.5h6M672 454.5h12M708 454.5h6M786 454.5h6M852 454.5h6M114 459.5h6M216 459.5h6M636 459.5h12M672 459.5h6M714 459.5h6M738 459.5h6M750 459.5h6M780 459.5h12M852 459.5h6M156 464.5h6M174 464.5h6M192 464.5h6M216 464.5h6M270 464.5h12M390 464.5h6M462 464.5h6M582 464.5h24M612 464.5h6M666 464.5h6M684 464.5h6M708 464.5h12M750 464.5h6M792 464.5h6M144 469.5h6M174 469.5h6M216 469.5h6M234 469.5h6M264 469.5h6M276 469.5h6M372 469.5h6M390 469.5h6M414 469.5h6M432 469.5h6M444 469.5h6M504 469.5h6M564 469.5h6M576 469.5h6M588 469.5h6M654 469.5h6M672 469.5h6M684 469.5h6M714 469.5h6M774 469.5h12M114 474.5h6M234 474.5h6M342 474.5h6M432 474.5h6M492 474.5h6M516 474.5h6M582 474.5h6M642 474.5h6M666 474.5h6M708 474.5h6M720 474.5h6M750 474.5h6M762 474.5h36M114 479.5h6M192 479.5h6M264 479.5h6M318 479.5h6M342 479.5h6M390 479.5h6M438 479.5h12M504 479.5h6M570 479.5h6M600 479.5h6M612 479.5h6M750 479.5h6M768 479.5h6M114 484.5h6M150 484.5h6M264 484.5h6M372 484.5h12M390 484.5h12M414 484.5h6M444 484.5h6M456 484.5h6M468 484.5h6M516 484.5h6M540 484.5h6M576 484.5h6M612 484.5h6M672 484.5h6M690 484.5h6M702 484.5h6M714 484.5h12M750 484.5h6M774 484.5h6M798 484.5h6M822 484.5h6M234 489.5h6M252 489.5h6M336 489.5h6M414 489.5h6M444 489.5h6M462 489.5h6M492 489.5h6M546 489.5h6M588 489.5h6M630 489.5h6M672 489.5h6M816 489.5h12M144 494.5h6M174 494.5h6M264 494.5h6M312 494.5h6M336 494.5h6M390 494.5h6M432 494.5h6M456 494.5h6M552 494.5h6M564 494.5h6M582 494.5h6M648 494.5h6M666 494.5h6M678 494.5h6M690 494.5h6M714 494.5h12M780 494.5h12M798 494.5h6M810 494.5h18M114 499.5h6M144 499.5h6M216 499.5h6M246 499.5h6M264 499.5h6M294 499.5h6M342 499.5h6M378 499.5h6M414 499.5h6M444 499.5h6M462 499.5h6M516 499.5h6M552 499.5h6M564 499.5h12M642 499.5h6M666 499.5h12M690 499.5h6M714 499.5h6M774 499.5h6M822 499.5h6M834 499.5h6M126 504.5h12M144 504.5h6M168 504.5h6M198 504.5h6M240 504.5h6M258 504.5h18M282 504.5h6M312 504.5h6M342 504.5h6M354 504.5h6M378 504.5h6M390 504.5h6M414 504.5h12M432 504.5h6M462 504.5h18M540 504.5h6M552 504.5h6M564 504.5h6M606 504.5h6M630 504.5h6M666 504.5h6M696 504.5h6M708 504.5h6M732 504.5h6M786 504.5h6M816 504.5h6M834 504.5h6M852 504.5h6M888 504.5h6M120 509.5h6M192 509.5h6M240 509.5h12M258 509.5h6M336 509.5h18M366 509.5h6M378 509.5h6M420 509.5h6M444 509.5h6M540 509.5h18M564 509.5h6M582 509.5h6M636 509.5h6M672 509.5h12M690 509.5h6M792 509.5h6M834 509.5h6M114 514.5h6M126 514.5h6M204 514.5h6M240 514.5h6M336 514.5h6M378 514.5h6M420 514.5h12M444 514.5h6M462 514.5h6M546 514.5h12M564 514.5h6M666 514.5h6M696 514.5h12M714 514.5h6M726 514.5h6M744 514.5h6M774 514.5h12M804 514.5h12M132 519.5h6M150 519.5h6M174 519.5h6M192 519.5h6M204 519.5h6M240 519.5h6M252 519.5h6M276 519.5h12M306 519.5h12M450 519.5h6M546 519.5h6M558 519.5h6M606 519.5h6M642 519.5h12M666 519.5h6M678 519.5h6M690 519.5h12M714 519.5h6M726 519.5h6M738 519.5h18M786 519.5h6M810 519.5h6M894 519.5h6M240 524.5h12M276 524.5h6M318 524.5h6M336 524.5h18M402 524.5h12M426 524.5h12M462 524.5h12M498 524.5h12M546 524.5h6M564 524.5h12M666 524.5h6M690 524.5h12M726 524.5h6M738 524.5h18M768 524.5h6M852 524.5h6M876 524.5h6M114 529.5h6M126 529.5h18M162 529.5h6M192 529.5h12M270 529.5h6M282 529.5h6M324 529.5h6M354 529.5h6M366 529.5h6M426 529.5h12M444 529.5h6M462 529.5h12M492 529.5h12M540 529.5h6M558 529.5h6M612 529.5h6M660 529.5h6M708 529.5h12M744 529.5h12M792 529.5h6M828 529.5h6M852 529.5h6M870 529.5h6M96 534.5h6M114 534.5h12M132 534.5h6M144 534.5h6M174 534.5h6M192 534.5h6M216 534.5h12M240 534.5h6M276 534.5h6M312 534.5h6M324 534.5h18M348 534.5h6M402 534.5h12M426 534.5h6M444 534.5h18M468 534.5h6M492 534.5h12M552 534.5h6M576 534.5h6M654 534.5h12M732 534.5h6M756 534.5h6M834 534.5h6M852 534.5h12M894 534.5h6M96 539.5h6M162 539.5h6M186 539.5h6M216 539.5h6M240 539.5h6M276 539.5h6M294 539.5h12M330 539.5h6M348 539.5h6M378 539.5h6M408 539.5h6M420 539.5h12M438 539.5h6M468 539.5h6M558 539.5h6M678 539.5h6M696 539.5h18M750 539.5h18M774 539.5h6M786 539.5h12M828 539.5h6M120 544.5h6M144 544.5h6M174 544.5h6M216 544.5h6M264 544.5h6M282 544.5h12M300 544.5h6M312 544.5h18M342 544.5h12M378 544.5h6M432 544.5h6M468 544.5h6M492 544.5h12M528 544.5h6M540 544.5h6M690 544.5h18M720 544.5h12M744 544.5h12M780 544.5h12M828 544.5h6M864 544.5h6M96 549.5h6M114 549.5h6M150 549.5h6M162 549.5h6M174 549.5h6M186 549.5h6M216 549.5h6M240 549.5h18M264 549.5h42M312 549.5h6M342 549.5h6M360 549.5h6M378 549.5h12M408 549.5h6M432 549.5h6M456 549.5h6M504 549.5h6M534 549.5h6M672 549.5h12M690 549.5h6M702 549.5h6M744 549.5h18M768 549.5h12M798 549.5h6M834 549.5h12M858 549.5h6M876 549.5h18M90 554.5h18M114 554.5h6M138 554.5h12M186 554.5h6M210 554.5h12M240 554.5h6M264 554.5h12M282 554.5h6M294 554.5h12M312 554.5h6M330 554.5h6M348 554.5h6M522 554.5h6M552 554.5h6M678 554.5h6M714 554.5h12M732 554.5h6M762 554.5h6M780 554.5h12M828 554.5h18M870 554.5h6M882 554.5h6M102 559.5h18M144 559.5h18M174 559.5h6M222 559.5h6M270 559.5h6M288 559.5h6M330 559.5h6M684 559.5h12M762 559.5h18M786 559.5h6M804 559.5h6M846 559.5h6M882 559.5h6M894 559.5h6M102 574.5h6M114 574.5h12M150 574.5h18M186 574.5h12M210 574.5h18M234 574.5h6M246 574.5h6M264 574.5h18M288 574.5h6M300 574.5h6M312 574.5h6M330 574.5h6M354 574.5h6M678 574.5h6M702 574.5h18M732 574.5h6M744 574.5h12M768 574.5h6M792 574.5h6M858 574.5h12M882 574.5h6M894 574.5h6M234 579.5h12M258 579.5h6M270 579.5h6M300 579.5h6M420 579.5h6M450 579.5h6M462 579.5h18M486 579.5h6M588 579.5h12M612 579.5h12M630 579.5h6M810 579.5h18M126 584.5h6M198 584.5h6M318 584.5h6M378 584.5h6M390 584.5h12M420 584.5h6M510 584.5h6M576 584.5h6M606 584.5h6M822 584.5h6M402 589.5h6M600 589.5h6M618 589.5h6M666 589.5h6M714 589.5h6M780 589.5h6M816 589.5h12"/><path stroke="#b3b3b3" d="M630 349.5h6M474 354.5h6M852 359.5h6M396 364.5h6M624 364.5h12M360 369.5h6M852 369.5h6M360 374.5h6M540 374.5h6M780 374.5h6M360 379.5h6M624 379.5h6M780 379.5h6M150 384.5h6M360 384.5h6M624 384.5h6M774 384.5h6M396 389.5h6M540 389.5h6M774 389.5h12M150 394.5h6M438 394.5h6M624 394.5h6M852 394.5h6M360 399.5h6M378 399.5h6M624 399.5h6M636 399.5h6M654 399.5h6M852 399.5h6M150 404.5h6M360 404.5h6M624 404.5h6M654 404.5h6M774 404.5h6M852 404.5h6M150 409.5h6M540 409.5h6M654 409.5h6M780 409.5h6M270 414.5h12M624 414.5h6M636 414.5h6M672 414.5h12M768 414.5h6M798 414.5h6M396 419.5h6M540 419.5h6M708 419.5h12M774 419.5h6M792 419.5h6M636 424.5h6M654 424.5h12M678 424.5h6M768 424.5h6M798 424.5h6M162 429.5h6M624 429.5h6M660 429.5h6M672 429.5h6M714 429.5h6M780 429.5h6M792 429.5h12M852 429.5h6M162 434.5h6M672 434.5h6M714 434.5h6M798 434.5h6M414 439.5h6M438 439.5h6M618 439.5h6M672 439.5h6M708 439.5h6M798 439.5h6M252 444.5h6M480 444.5h12M672 444.5h6M714 444.5h6M768 444.5h6M792 444.5h12M414 449.5h6M438 449.5h6M606 449.5h6M618 449.5h6M708 449.5h6M780 449.5h6M792 449.5h6M480 454.5h12M666 454.5h6M714 454.5h12M768 454.5h6M780 454.5h6M792 454.5h6M414 459.5h6M432 459.5h12M480 459.5h6M510 459.5h6M582 459.5h6M618 459.5h6M666 459.5h6M678 459.5h6M708 459.5h6M768 459.5h12M414 464.5h6M432 464.5h6M492 464.5h6M510 464.5h6M564 464.5h6M576 464.5h6M606 464.5h6M672 464.5h6M768 464.5h6M780 464.5h6M150 469.5h6M384 469.5h6M480 469.5h6M606 469.5h6M648 469.5h6M678 469.5h6M708 469.5h6M720 469.5h6M768 469.5h6M150 474.5h6M252 474.5h6M390 474.5h12M438 474.5h6M624 474.5h6M636 474.5h6M654 474.5h12M672 474.5h18M714 474.5h6M150 479.5h6M252 479.5h6M396 479.5h6M492 479.5h6M516 479.5h6M588 479.5h6M636 479.5h6M654 479.5h6M678 479.5h12M708 479.5h6M720 479.5h6M738 479.5h6M774 479.5h6M234 484.5h6M252 484.5h6M336 484.5h6M618 484.5h6M660 484.5h6M678 484.5h6M738 484.5h6M816 484.5h6M372 489.5h6M390 489.5h12M438 489.5h6M516 489.5h6M594 489.5h6M612 489.5h12M648 489.5h6M678 489.5h6M708 489.5h6M738 489.5h18M774 489.5h6M114 494.5h6M246 494.5h6M354 494.5h6M372 494.5h6M384 494.5h6M396 494.5h6M462 494.5h6M492 494.5h6M516 494.5h6M600 494.5h6M624 494.5h6M738 494.5h6M750 494.5h6M174 499.5h6M228 499.5h12M318 499.5h6M354 499.5h6M372 499.5h6M390 499.5h12M432 499.5h6M480 499.5h6M492 499.5h6M582 499.5h6M606 499.5h6M654 499.5h12M678 499.5h6M744 499.5h6M114 504.5h6M192 504.5h6M228 504.5h6M318 504.5h6M384 504.5h6M444 504.5h6M480 504.5h6M492 504.5h6M588 504.5h6M654 504.5h6M690 504.5h6M720 504.5h6M822 504.5h6M114 509.5h6M132 509.5h6M204 509.5h6M228 509.5h6M318 509.5h6M354 509.5h6M390 509.5h6M414 509.5h6M438 509.5h6M462 509.5h6M474 509.5h12M594 509.5h6M666 509.5h6M708 509.5h6M726 509.5h6M738 509.5h6M750 509.5h6M774 509.5h6M810 509.5h6M822 509.5h6M174 514.5h6M192 514.5h12M228 514.5h6M282 514.5h6M306 514.5h6M318 514.5h6M348 514.5h12M390 514.5h6M432 514.5h6M474 514.5h12M492 514.5h6M516 514.5h6M648 514.5h18M678 514.5h6M708 514.5h6M720 514.5h6M126 519.5h6M144 519.5h6M318 519.5h6M336 519.5h12M372 519.5h6M390 519.5h6M414 519.5h12M432 519.5h6M462 519.5h6M474 519.5h6M564 519.5h6M684 519.5h6M708 519.5h6M720 519.5h6M822 519.5h6M114 524.5h6M126 524.5h6M144 524.5h6M168 524.5h6M192 524.5h18M270 524.5h6M312 524.5h6M354 524.5h6M390 524.5h6M420 524.5h6M450 524.5h6M492 524.5h6M558 524.5h6M636 524.5h6M678 524.5h6M708 524.5h6M810 524.5h6M822 524.5h6M144 529.5h6M240 529.5h6M318 529.5h6M336 529.5h12M378 529.5h6M390 529.5h6M414 529.5h12M438 529.5h6M546 529.5h6M564 529.5h6M576 529.5h6M618 529.5h6M666 529.5h6M678 529.5h6M702 529.5h6M720 529.5h12M738 529.5h6M810 529.5h18M126 534.5h6M270 534.5h6M282 534.5h6M306 534.5h6M342 534.5h6M354 534.5h6M366 534.5h6M390 534.5h6M414 534.5h6M546 534.5h6M612 534.5h6M630 534.5h6M642 534.5h6M678 534.5h12M714 534.5h12M738 534.5h6M804 534.5h6M822 534.5h6M840 534.5h6M102 539.5h6M114 539.5h6M192 539.5h6M234 539.5h6M270 539.5h6M324 539.5h6M342 539.5h6M390 539.5h6M414 539.5h6M444 539.5h12M540 539.5h6M612 539.5h6M654 539.5h6M672 539.5h6M684 539.5h12M714 539.5h6M858 539.5h6M150 544.5h6M192 544.5h12M240 544.5h6M270 544.5h12M390 544.5h6M402 544.5h6M438 544.5h6M546 544.5h6M612 544.5h6M630 544.5h6M642 544.5h6M660 544.5h30M708 544.5h12M810 544.5h6M852 544.5h6M108 549.5h6M120 549.5h6M132 549.5h6M156 549.5h6M192 549.5h6M330 549.5h6M348 549.5h6M450 549.5h6M462 549.5h12M492 549.5h6M522 549.5h6M540 549.5h6M552 549.5h12M666 549.5h6M684 549.5h6M708 549.5h6M720 549.5h6M822 549.5h12M120 554.5h6M132 554.5h6M156 554.5h6M174 554.5h6M234 554.5h6M324 554.5h6M360 554.5h6M378 554.5h6M444 554.5h6M462 554.5h6M534 554.5h6M654 554.5h6M666 554.5h12M684 554.5h6M708 554.5h6M738 554.5h12M810 554.5h6M96 559.5h6M120 559.5h12M186 559.5h12M216 559.5h6M240 559.5h6M264 559.5h6M282 559.5h6M294 559.5h6M312 559.5h6M360 559.5h6M672 559.5h6M702 559.5h12M726 559.5h6M750 559.5h6M780 559.5h6M792 559.5h12M810 559.5h6M822 559.5h12M876 559.5h6M888 559.5h6M726 564.5h6M780 564.5h6M798 564.5h6M846 564.5h6M864 564.5h6M678 569.5h6M744 569.5h6M96 574.5h6M108 574.5h6M126 574.5h6M138 574.5h6M168 574.5h6M228 574.5h6M252 574.5h6M282 574.5h6M294 574.5h6M306 574.5h6M324 574.5h6M342 574.5h12M378 574.5h12M552 574.5h12M648 574.5h6M666 574.5h12M684 574.5h6M720 574.5h6M774 574.5h6M828 574.5h6M840 574.5h6M870 574.5h6M132 579.5h6M198 579.5h12M318 579.5h6M372 579.5h6M390 579.5h18M414 579.5h6M426 579.5h6M492 579.5h12M510 579.5h6M576 579.5h6M600 579.5h6M624 579.5h6M672 579.5h6M204 584.5h6M516 584.5h6M600 584.5h6M618 584.5h6M132 589.5h6M204 589.5h6M516 589.5h6"/><path stroke="#b8b8b8" d="M630 354.5h6M630 359.5h6M780 364.5h6M624 374.5h6M780 384.5h6M360 394.5h6M654 394.5h6M780 394.5h6M780 399.5h6M636 404.5h6M780 404.5h6M360 409.5h6M624 409.5h6M246 414.5h6M654 414.5h6M150 419.5h6M246 419.5h6M624 419.5h6M654 419.5h6M768 419.5h6M798 419.5h6M624 424.5h6M714 424.5h6M780 424.5h6M852 424.5h6M150 429.5h6M456 429.5h6M480 429.5h6M636 429.5h6M768 429.5h6M414 434.5h6M624 434.5h6M636 434.5h6M654 434.5h12M774 434.5h6M150 439.5h6M216 439.5h6M624 439.5h6M636 439.5h6M654 439.5h12M768 439.5h18M792 439.5h6M438 444.5h6M624 444.5h6M636 444.5h6M708 444.5h6M780 444.5h6M510 449.5h6M582 449.5h6M624 449.5h6M636 449.5h6M768 449.5h6M150 454.5h6M414 454.5h6M438 454.5h6M636 454.5h6M744 454.5h6M774 454.5h6M150 459.5h6M252 459.5h6M486 459.5h6M654 459.5h6M744 459.5h6M150 464.5h6M264 464.5h6M342 464.5h6M438 464.5h6M486 464.5h6M618 464.5h6M636 464.5h6M648 464.5h12M720 464.5h6M744 464.5h6M342 469.5h6M438 469.5h6M492 469.5h6M582 469.5h6M618 469.5h6M636 469.5h6M660 469.5h6M414 474.5h6M480 474.5h6M510 474.5h6M630 474.5h6M648 474.5h6M744 474.5h6M480 479.5h6M576 479.5h12M630 479.5h6M660 479.5h6M714 479.5h6M744 479.5h6M432 484.5h12M480 484.5h6M492 484.5h6M594 484.5h12M642 484.5h6M708 484.5h6M744 484.5h6M264 489.5h6M432 489.5h6M570 489.5h12M606 489.5h6M624 489.5h6M642 489.5h6M654 489.5h6M684 489.5h6M192 494.5h6M234 494.5h6M414 494.5h6M438 494.5h6M480 494.5h6M588 494.5h6M660 494.5h6M684 494.5h6M744 494.5h6M618 499.5h12M684 499.5h6M720 499.5h6M738 499.5h6M816 499.5h6M234 504.5h6M372 504.5h6M438 504.5h6M516 504.5h6M576 504.5h6M618 504.5h6M642 504.5h6M678 504.5h12M738 504.5h12M432 509.5h6M588 509.5h6M606 509.5h6M618 509.5h6M648 509.5h6M660 509.5h6M684 509.5h6M720 509.5h6M744 509.5h6M132 514.5h6M234 514.5h6M258 514.5h6M342 514.5h6M372 514.5h6M396 514.5h6M438 514.5h6M570 514.5h12M618 514.5h6M636 514.5h12M684 514.5h6M738 514.5h6M816 514.5h12M228 519.5h12M258 519.5h6M354 519.5h6M438 519.5h12M480 519.5h6M492 519.5h6M516 519.5h6M636 519.5h6M660 519.5h6M816 519.5h6M132 524.5h6M306 524.5h6M372 524.5h6M414 524.5h6M438 524.5h6M474 524.5h12M660 524.5h6M684 524.5h6M720 524.5h6M816 524.5h6M306 529.5h6M372 529.5h6M396 529.5h6M474 529.5h12M516 529.5h6M570 529.5h6M654 529.5h6M684 529.5h6M204 534.5h6M228 534.5h12M420 534.5h6M438 534.5h6M474 534.5h6M510 534.5h6M558 534.5h12M588 534.5h6M636 534.5h6M666 534.5h6M132 539.5h6M198 539.5h12M228 539.5h6M318 539.5h6M336 539.5h6M354 539.5h6M372 539.5h6M474 539.5h18M510 539.5h6M546 539.5h6M564 539.5h6M594 539.5h6M606 539.5h6M618 539.5h6M660 539.5h12M720 539.5h6M810 539.5h18M852 539.5h6M126 544.5h12M228 544.5h12M306 544.5h6M336 544.5h6M354 544.5h6M372 544.5h6M414 544.5h12M486 544.5h6M510 544.5h12M558 544.5h6M738 544.5h6M816 544.5h12M834 544.5h6M234 549.5h6M306 549.5h6M336 549.5h6M354 549.5h6M402 549.5h6M420 549.5h6M444 549.5h6M498 549.5h6M546 549.5h6M660 549.5h6M714 549.5h6M738 549.5h6M810 549.5h6M852 549.5h6M126 554.5h6M192 554.5h6M204 554.5h6M276 554.5h6M306 554.5h6M336 554.5h12M354 554.5h6M384 554.5h6M408 554.5h6M432 554.5h6M492 554.5h18M528 554.5h6M558 554.5h6M660 554.5h6M816 554.5h12M876 554.5h6M228 559.5h12M246 559.5h6M306 559.5h6M324 559.5h6M336 559.5h18M384 559.5h6M660 559.5h12M678 559.5h6M714 559.5h6M816 559.5h6M852 559.5h6M870 559.5h6M294 564.5h6M648 564.5h6M666 564.5h6M678 564.5h6M690 564.5h24M720 564.5h6M732 564.5h6M756 564.5h24M786 564.5h12M804 564.5h6M834 564.5h6M858 564.5h6M882 564.5h18M690 569.5h6M720 569.5h12M750 569.5h6M786 569.5h6M804 569.5h6M834 569.5h6M876 569.5h6M174 574.5h6M198 574.5h6M240 574.5h6M258 574.5h6M336 574.5h6M360 574.5h12M660 574.5h6M810 574.5h12M852 574.5h6M516 579.5h6M636 579.5h6M654 579.5h6M390 589.5h6"/><path stroke="#bebebe" d="M774 399.5h6M774 409.5h6M150 414.5h6M774 414.5h12M780 419.5h6M774 424.5h6M630 429.5h6M150 434.5h6M252 434.5h6M768 434.5h6M780 434.5h6M252 439.5h6M150 444.5h6M654 444.5h12M150 449.5h6M252 449.5h6M654 449.5h6M774 449.5h6M252 454.5h6M624 454.5h6M654 454.5h12M624 459.5h6M660 459.5h6M792 459.5h6M252 464.5h6M480 464.5h6M624 464.5h6M660 464.5h6M774 464.5h6M252 469.5h6M510 469.5h6M624 469.5h6M744 469.5h6M588 474.5h6M432 479.5h6M594 479.5h6M618 479.5h6M648 479.5h6M246 484.5h6M486 484.5h6M582 484.5h6M684 484.5h6M480 489.5h12M582 489.5h6M636 489.5h6M660 489.5h6M486 494.5h6M576 494.5h6M594 494.5h6M630 494.5h6M654 494.5h6M438 499.5h6M486 499.5h6M510 499.5h6M576 499.5h6M594 499.5h6M630 499.5h6M648 499.5h6M486 504.5h6M582 504.5h6M594 504.5h6M636 504.5h6M660 504.5h6M234 509.5h6M372 509.5h6M396 509.5h6M492 509.5h6M642 509.5h6M654 509.5h6M414 514.5h6M600 514.5h18M396 519.5h6M510 519.5h6M576 519.5h12M594 519.5h12M612 519.5h24M228 524.5h6M258 524.5h6M396 524.5h6M486 524.5h6M510 524.5h12M588 524.5h6M600 524.5h18M630 524.5h6M648 524.5h12M204 529.5h6M228 529.5h12M486 529.5h6M510 529.5h6M630 529.5h12M648 529.5h6M198 534.5h6M318 534.5h6M372 534.5h6M396 534.5h6M480 534.5h6M570 534.5h6M582 534.5h6M600 534.5h6M618 534.5h6M648 534.5h6M810 534.5h12M126 539.5h6M306 539.5h6M402 539.5h6M516 539.5h6M570 539.5h6M582 539.5h12M630 539.5h6M642 539.5h6M204 544.5h6M426 544.5h6M474 544.5h12M564 544.5h18M594 544.5h6M654 544.5h6M126 549.5h6M198 549.5h6M228 549.5h6M318 549.5h12M372 549.5h6M414 549.5h6M438 549.5h6M474 549.5h6M510 549.5h6M564 549.5h6M654 549.5h6M816 549.5h6M198 554.5h6M228 554.5h6M318 554.5h6M420 554.5h6M540 554.5h12M852 554.5h6M132 559.5h6M198 559.5h6M354 559.5h6M366 559.5h6M378 559.5h6M552 559.5h6M654 559.5h6M738 559.5h6M90 564.5h24M138 564.5h12M162 564.5h6M180 564.5h6M216 564.5h6M252 564.5h6M264 564.5h6M288 564.5h6M312 564.5h6M330 564.5h6M660 564.5h6M672 564.5h6M714 564.5h6M750 564.5h6M828 564.5h6M852 564.5h6M870 564.5h12M288 569.5h6M348 569.5h6M648 569.5h6M660 569.5h6M684 569.5h6M696 569.5h12M732 569.5h6M762 569.5h12M780 569.5h6M792 569.5h12M828 569.5h6M846 569.5h6M864 569.5h12M888 569.5h6M132 574.5h6M564 574.5h6M588 574.5h6M612 574.5h6M822 574.5h6M582 584.5h6M594 584.5h6M642 589.5h6"/><path stroke="#c3c3c3" d="M630 369.5h6M630 379.5h6M630 384.5h6M630 399.5h6M150 424.5h6M246 424.5h6M654 429.5h6M774 429.5h6M630 434.5h6M774 444.5h6M660 449.5h6M630 464.5h6M486 469.5h6M630 469.5h6M486 474.5h6M486 479.5h6M510 479.5h6M510 484.5h6M648 484.5h6M246 489.5h6M510 489.5h6M600 489.5h6M600 499.5h6M636 499.5h6M396 504.5h6M510 504.5h6M570 504.5h6M486 509.5h6M510 509.5h12M570 509.5h6M612 509.5h6M486 514.5h6M510 514.5h6M630 514.5h6M588 519.5h6M234 524.5h6M576 524.5h6M642 524.5h6M258 529.5h6M606 529.5h6M624 529.5h6M642 529.5h6M258 534.5h6M486 534.5h6M516 534.5h6M594 534.5h6M396 539.5h6M648 539.5h6M636 544.5h6M204 549.5h6M258 549.5h6M426 549.5h6M480 549.5h12M516 549.5h6M570 549.5h6M636 549.5h6M258 554.5h6M396 554.5h12M414 554.5h6M450 554.5h12M468 554.5h6M486 554.5h6M564 554.5h6M642 554.5h12M258 559.5h6M318 559.5h6M546 559.5h6M558 559.5h12M648 559.5h6M114 564.5h12M150 564.5h12M168 564.5h6M186 564.5h12M210 564.5h6M222 564.5h6M234 564.5h18M276 564.5h12M300 564.5h6M324 564.5h6M336 564.5h18M366 564.5h6M684 564.5h6M738 564.5h12M810 564.5h12M840 564.5h6M90 569.5h6M108 569.5h6M120 569.5h6M150 569.5h24M210 569.5h12M252 569.5h6M270 569.5h18M294 569.5h6M312 569.5h6M342 569.5h6M354 569.5h12M552 569.5h6M564 569.5h12M654 569.5h6M666 569.5h12M714 569.5h6M738 569.5h6M756 569.5h6M774 569.5h6M810 569.5h6M840 569.5h6M852 569.5h12M882 569.5h6M204 574.5h6M318 574.5h6M390 574.5h6M408 574.5h6M438 574.5h6M462 574.5h6M498 574.5h6M522 574.5h6M534 574.5h18M582 574.5h6M630 574.5h6"/><path stroke="#c9c9c9" d="M630 374.5h6M630 404.5h6M630 409.5h6M630 419.5h6M246 429.5h6M246 434.5h6M630 439.5h6M630 449.5h6M630 459.5h6M246 479.5h6M624 479.5h6M624 484.5h6M636 484.5h6M510 494.5h6M618 494.5h6M636 494.5h6M648 504.5h6M576 509.5h6M486 519.5h6M618 524.5h6M588 529.5h6M624 534.5h6M258 539.5h6M576 539.5h6M624 539.5h6M258 544.5h6M396 544.5h6M588 544.5h6M606 544.5h6M624 544.5h6M648 544.5h6M390 549.5h12M600 549.5h6M642 549.5h6M372 554.5h6M426 554.5h6M438 554.5h6M480 554.5h6M510 554.5h6M576 554.5h6M600 554.5h6M204 559.5h6M390 559.5h6M402 559.5h6M414 559.5h6M432 559.5h6M456 559.5h6M504 559.5h6M522 559.5h24M570 559.5h6M600 559.5h6M126 564.5h6M270 564.5h6M306 564.5h6M354 564.5h12M378 564.5h6M552 564.5h12M822 564.5h6M96 569.5h12M114 569.5h6M144 569.5h6M174 569.5h6M186 569.5h12M222 569.5h6M240 569.5h12M300 569.5h12M324 569.5h12M366 569.5h6M378 569.5h6M588 569.5h6M708 569.5h6M822 569.5h6M894 569.5h6M372 574.5h6M396 574.5h6M432 574.5h6M444 574.5h18M480 574.5h12M504 574.5h6M528 574.5h6M570 574.5h6M594 574.5h6M618 574.5h6M654 574.5h6"/><path stroke="#cecece" d="M630 389.5h6M630 394.5h6M630 414.5h6M630 424.5h6M630 444.5h6M630 454.5h6M630 484.5h6M624 509.5h12M594 514.5h6M594 524.5h6M624 524.5h6M600 529.5h6M606 534.5h6M636 539.5h6M600 544.5h6M588 549.5h6M606 549.5h6M630 549.5h6M648 549.5h6M390 554.5h6M516 554.5h6M570 554.5h6M582 554.5h6M612 554.5h6M630 554.5h6M408 559.5h6M438 559.5h12M462 559.5h6M492 559.5h12M630 559.5h6M132 564.5h6M174 564.5h6M198 564.5h6M228 564.5h6M384 564.5h6M528 564.5h18M564 564.5h18M612 564.5h6M132 569.5h12M180 569.5h6M228 569.5h6M264 569.5h6M384 569.5h6M540 569.5h12M558 569.5h6M594 569.5h6M636 569.5h6M816 569.5h6M402 574.5h6M414 574.5h18M474 574.5h6M492 574.5h6M624 574.5h6M636 574.5h12"/><path stroke="#d4d4d4" d="M246 444.5h6M246 454.5h6M246 459.5h6M246 464.5h6M246 474.5h6M624 504.5h6M600 509.5h6M582 514.5h12M624 514.5h6M582 529.5h6M594 529.5h6M600 539.5h6M582 544.5h6M576 549.5h6M474 554.5h6M588 554.5h12M606 554.5h6M636 554.5h6M372 559.5h6M420 559.5h12M468 559.5h6M486 559.5h6M606 559.5h6M636 559.5h6M204 564.5h6M258 564.5h6M318 564.5h6M372 564.5h6M408 564.5h6M498 564.5h6M636 564.5h12M126 569.5h6M234 569.5h6M258 569.5h6M318 569.5h6M336 569.5h6M414 569.5h6M522 569.5h18M576 569.5h6M468 574.5h6M510 574.5h6M576 574.5h6M600 574.5h12"/><path stroke="#d9d9d9" d="M246 439.5h6M246 449.5h6M246 469.5h6M618 544.5h6M618 549.5h12M618 554.5h12M396 559.5h6M450 559.5h6M588 559.5h12M618 559.5h6M414 564.5h6M432 564.5h6M444 564.5h6M462 564.5h6M504 564.5h6M546 564.5h6M606 564.5h6M618 564.5h6M630 564.5h6M654 564.5h6M198 569.5h12M372 569.5h6M390 569.5h12M408 569.5h6M438 569.5h6M450 569.5h6M462 569.5h6M492 569.5h6M504 569.5h6M618 569.5h12M642 569.5h6M516 574.5h6"/><path stroke="#dedede" d="M582 549.5h6M612 549.5h6M474 559.5h12M516 559.5h6M624 559.5h6M642 559.5h6M390 564.5h6M402 564.5h6M426 564.5h6M438 564.5h6M456 564.5h6M492 564.5h6M522 564.5h6M600 564.5h6M624 564.5h6M402 569.5h6M420 569.5h18M444 569.5h6M456 569.5h6M468 569.5h6M498 569.5h6M582 569.5h6M600 569.5h6M630 569.5h6"/><path stroke="#e4e4e4" d="M594 549.5h6M510 559.5h6M582 559.5h6M396 564.5h6M420 564.5h6M450 564.5h6M468 564.5h12M486 564.5h6M510 564.5h6M582 564.5h12M474 569.5h18M606 569.5h12"/><path stroke="#e9e9e9" d="M576 559.5h6M612 559.5h6M510 569.5h12"/><path stroke="#efefef" d="M480 564.5h6M516 564.5h6M594 564.5h6"/></g></g></g><g filter="url(#soft)"><path d="M100 321.1H887" fill="none" stroke="#86802f" stroke-width="3.2"/><path d="M100 582.2H882" fill="none" stroke="#ffe37a" stroke-width="3.4" stroke-opacity="0.8"/><path d="M99.6 585.8H889" fill="none" stroke="#74724a" stroke-width="3.8"/><path d="M887.6 575.8V587.6" fill="none" stroke="#2a2a24" stroke-width="4.4"/></g>
<g filter="url(#softw)">
<path d="M100.5 190L101.3 180.3L102.1 176.8L102.9 179.3L103.7 179.9L104.5 181.7L105.3 183L106.1 182.4L106.9 180.1L107.7 178L108.5 176.9L109.3 178.1L110.1 181.1L110.9 181.9L111.7 182.3L112.5 183L113.3 182.5L114.1 182.4L114.9 181.7L115.7 181.1L116.5 178.4L117.3 178.3L118.1 178.1L118.9 178.9L119.7 180.8L120.5 182.9L121.3 183.3L122.1 181.9L122.9 181.2L123.7 178.6L124.5 181.9L125.3 182.9L126.1 181L126.9 183.4L127.7 182.7L128.5 182L129.3 182.3L130.1 180.6L130.9 178L131.7 175.7L132.5 177L133.3 178.5L134.1 180.5L134.9 182.2L135.7 182.6L136.5 182.2L137.3 182.7L138.1 182.2L138.9 182.7L139.7 183.1L140.5 181.5L141.3 178.5L142.1 175.7L142.9 177.7L143.7 180L144.5 183.4L145.3 182L146.1 183L146.9 182.7L147.7 180.3L148.5 178.6L149.3 179.3L150.1 176L150.9 176.9L151.7 180.7L152.5 182L153.3 181.7L154.1 181.2L154.9 176.1L155.7 179L156.5 180.8L157.3 182.7L158.1 182.6L158.9 181.8L159.7 182L160.5 182.1L161.3 182.1L162.1 182.7L162.9 179.7L163.7 175.7L164.5 179.2L165.3 179.4L166.1 182.2L166.9 182L167.7 178.7L168.5 176.8L169.3 177.7L170.1 179.3L170.9 181.3L171.7 182.3L172.5 183.4L173.3 182.2L174.1 178.9L174.9 178L175.7 174.7L176.5 172L177.3 175.1L178.1 178L178.9 180.4L179.7 181.8L180.5 181L181.3 180.6L182.1 178.8L182.9 177.7L183.7 179.6L184.5 181.9L185.3 180.8L186.1 181.2L186.9 181.3L187.7 181.5L188.5 181.1L189.3 178.4L190.1 177.1L190.9 176.3L191.7 177.7L192.5 178.2L193.3 179.2L194.1 180.8L194.9 180L195.7 179.6L196.5 179.2L197.3 180L198.1 177L198.9 174.5L199.7 174L200.5 176.6L201.3 180L202.1 179.7L202.9 178.9L203.7 178.1L204.5 176.4L205.3 179.4L206.1 180L206.9 180.5L207.7 181.4L208.5 179.5L209.3 177.6L210.1 176.7L210.9 176.9L211.7 174.8L212.5 179.7L213.3 181.2L214.1 181.8L214.9 180.7L215.7 177.8L216.5 175.6L217.3 175.9L218.1 176.9L218.9 178.6L219.7 181.3L220.5 179.6L221.3 178.4L222.1 175.9L222.9 176.1L223.7 173.6L224.5 177.2L225.3 179.6L226.1 181.1L226.9 181L227.7 180L228.5 181.9L229.3 180.8L230.1 179.1L230.9 177.7L231.7 178L232.5 175L233.3 173.7L234.1 175.8L234.9 177.7L235.7 178.3L236.5 179.8L237.3 179.1L238.1 175.4L238.9 174.3L239.7 173L240.5 172.7L241.3 179.2L242.1 179.3L242.9 179.3L243.7 180.2L244.5 180.6L245.3 180.5L246.1 181.1L246.9 179.7L247.7 179L248.5 179L249.3 179.9L250.1 180L250.9 181L251.7 181.3L252.5 179.8L253.3 181.3L254.1 180.8L254.9 180.7L255.7 179.7L256.5 178.1L257.3 179.2L258.1 183.4L258.9 181.4L259.7 181.4L260.5 182L261.3 181.7L262.1 182.9L262.9 180.7L263.7 180.5L264.5 178.6L265.3 180.1L266.1 181.1L266.9 183.1L267.7 182L268.5 182L269.3 181.5L270.1 182.6L270.9 181.9L271.7 182.5L272.5 180.6L273.3 180.4L274.1 181.4L274.9 182L275.7 181.2L276.5 181.3L277.3 182.2L278.1 182.1L278.9 182L279.7 183.2L280.5 178.9L281.3 178.8L282.1 176.8L282.9 175.7L283.7 178.8L284.5 180.1L285.3 181.8L286.1 182.4L286.9 182.1L287.7 182.6L288.5 181.9L289.3 179.2L290.1 173.5L290.9 175.9L291.7 180L292.5 181.7L293.3 182.7L294.1 180L294.9 179L295.7 176.7L296.5 178L297.3 180.6L298.1 181.9L298.9 181.4L299.7 182.5L300.5 182.4L301.3 183.2L302.1 181.6L302.9 182.5L303.7 179.1L304.5 174.3L305.3 178.7L306.1 180.4L306.9 182.5L307.7 182.6L308.5 181.3L309.3 182.8L310.1 181.5L310.9 181.6L311.7 177.7L312.5 177.1L313.3 176.6L314.1 177.7L314.9 182.7L315.7 181.3L316.5 180.6L317.3 182.4L318.1 182.1L318.9 180.7L319.7 182.1L320.5 180L321.3 178.9L322.1 179.1L322.9 179.2L323.7 179.9L324.5 181L325.3 180.4L326.1 180.4L326.9 180.9L327.7 178.3L328.5 177.5L329.3 176.7L330.1 180L330.9 180.9L331.7 180.1L332.5 179.3L333.3 178.7L334.1 177.4L334.9 177.8L335.7 177.7L336.5 180.8L337.3 180.1L338.1 180.6L338.9 182.1L339.7 180.6L340.5 180.5L341.3 181.3L342.1 176.6L342.9 176.2L343.7 174.4L344.5 176.6L345.3 179.2L346.1 181.3L346.9 180.6L347.7 181.7L348.5 179.2L349.3 177.6L350.1 176.5L350.9 179.6L351.7 180.9L352.5 182.5L353.3 182.4L354.1 181.6L354.9 179.3L355.7 178.7L356.5 175.1L357.3 175.7L358.1 179.6L358.9 181.2L359.7 181.6L360.5 182.1L361.3 180.2L362.1 179.3L362.9 181L363.7 180.8L364.5 182.1L365.3 181L366.1 181.5L366.9 181.4L367.7 180.7L368.5 179.3L369.3 175.8L370.1 179.9L370.9 181.4L371.7 181.5L372.5 181.3L373.3 182.3L374.1 180L374.9 178.1L375.7 174.4L376.5 173.4L377.3 176.1L378.1 178.1L378.9 181.5L379.7 181.7L380.5 181.1L381.3 180.7L382.1 179.6L382.9 177L383.7 176.9L384.5 177.7L385.3 180.6L386.1 180.9L386.9 181.9L387.7 181L388.5 180.4L389.3 180L390.1 180.5L390.9 176.8L391.7 178.6L392.5 180.9L393.3 178.5L394.1 190L394.1 196L393.3 208.2L392.5 206.6L391.7 210L390.9 212.8L390.1 207.7L389.3 207.4L388.5 206L387.7 205L386.9 204.1L386.1 205.9L385.3 206.5L384.5 209.3L383.7 209.7L382.9 209.4L382.1 207.1L381.3 206.1L380.5 206.4L379.7 207.1L378.9 208.9L378.1 209.1L377.3 207.6L376.5 206.8L375.7 207L374.9 205.5L374.1 205.5L373.3 203.7L372.5 206.4L371.7 208L370.9 209.1L370.1 207.9L369.3 209.1L368.5 205.3L367.7 206L366.9 208.3L366.1 210.6L365.3 208.9L364.5 205.1L363.7 204.8L362.9 205.8L362.1 208.8L361.3 209.7L360.5 206.3L359.7 205.8L358.9 204.8L358.1 205.3L357.3 207.3L356.5 207.2L355.7 207.2L354.9 210.2L354.1 210.7L353.3 207.6L352.5 205.8L351.7 205.3L350.9 204.7L350.1 206.1L349.3 205.7L348.5 205.6L347.7 204.3L346.9 205.6L346.1 205.5L345.3 207.2L344.5 208.5L343.7 208.4L342.9 206.9L342.1 207.6L341.3 204.7L340.5 205.5L339.7 205.7L338.9 205L338.1 207.5L337.3 207.6L336.5 205.1L335.7 206.6L334.9 205.8L334.1 206.9L333.3 208.4L332.5 210.8L331.7 211.6L330.9 208.3L330.1 205.7L329.3 206L328.5 205.5L327.7 206.1L326.9 205.1L326.1 207.7L325.3 209.8L324.5 209L323.7 207.8L322.9 206L322.1 205.5L321.3 206.1L320.5 205.6L319.7 203.9L318.9 205.3L318.1 204.7L317.3 205.2L316.5 208.3L315.7 206.6L314.9 204.1L314.1 206.2L313.3 205.3L312.5 204.9L311.7 206.1L310.9 204.9L310.1 206.6L309.3 206.4L308.5 207.3L307.7 204.3L306.9 203.5L306.1 204.3L305.3 204.4L304.5 207.8L303.7 205.9L302.9 204.8L302.1 206.5L301.3 204.2L300.5 204.6L299.7 203.9L298.9 204.6L298.1 204.1L297.3 204.7L296.5 207.6L295.7 209.2L294.9 208.4L294.1 207L293.3 204L292.5 203.4L291.7 203.6L290.9 205.6L290.1 207.3L289.3 204.1L288.5 203.1L287.7 203.4L286.9 204.5L286.1 206.1L285.3 208.9L284.5 207.3L283.7 205L282.9 205.7L282.1 204.9L281.3 204.8L280.5 207.2L279.7 204.9L278.9 206.5L278.1 205.4L277.3 204.5L276.5 204.7L275.7 204.8L274.9 203.6L274.1 203.6L273.3 204.3L272.5 205.7L271.7 205.4L270.9 206.8L270.1 205.1L269.3 205.4L268.5 204L267.7 204L266.9 202.9L266.1 204.2L265.3 204.6L264.5 205.7L263.7 205.3L262.9 205.5L262.1 203.6L261.3 204.3L260.5 204L259.7 204.6L258.9 204.6L258.1 202.7L257.3 207.3L256.5 208.6L255.7 208.4L254.9 207.1L254.1 206.9L253.3 205.2L252.5 206.2L251.7 204.7L250.9 205L250.1 205.7L249.3 206.1L248.5 207.4L247.7 208.7L246.9 209L246.1 207.1L245.3 206.7L244.5 205.5L243.7 205.8L242.9 206.7L242.1 206.7L241.3 205.9L240.5 210.3L239.7 208.8L238.9 208.8L238.1 209.2L237.3 207.3L236.5 206.3L235.7 208.3L234.9 208.5L234.1 210L233.3 210L232.5 208.7L231.7 206.2L230.9 207.4L230.1 206.9L229.3 205.2L228.5 204.1L227.7 206L226.9 205L226.1 204.9L225.3 206.6L224.5 209.2L223.7 211.3L222.9 207.3L222.1 207L221.3 205.9L220.5 207.9L219.7 208.9L218.9 211.2L218.1 208.9L217.3 206.3L216.5 206.6L215.7 205.9L214.9 204.6L214.1 204.7L213.3 206.2L212.5 207.8L211.7 213.2L210.9 209.2L210.1 208.6L209.3 207.5L208.5 205.5L207.7 205.7L206.9 208.3L206.1 210.3L205.3 210.5L204.5 211.2L203.7 207.9L202.9 207L202.1 209.2L201.3 210.6L200.5 212.6L199.7 211L198.9 208.9L198.1 206.9L197.3 207.7L196.5 210.8L195.7 211.3L194.9 208.6L194.1 205.7L193.3 206.4L192.5 206.2L191.7 205.8L190.9 208.5L190.1 210.5L189.3 211.6L188.5 208.8L187.7 207.1L186.9 206.1L186.1 205L185.3 205.2L184.5 203.9L183.7 206.3L182.9 208.3L182.1 208.1L181.3 206.9L180.5 206.4L179.7 204.9L178.9 204.6L178.1 205.3L177.3 206.5L176.5 207.7L175.7 206.6L174.9 205.3L174.1 206.8L173.3 205.5L172.5 204.9L171.7 205.9L170.9 205.2L170.1 205.2L169.3 205L168.5 206L167.7 205.4L166.9 203.5L166.1 203.8L165.3 205.5L164.5 205L163.7 207.9L162.9 206.1L162.1 204L161.3 204.4L160.5 203.9L159.7 205L158.9 206.6L158.1 206.1L157.3 204.8L156.5 204L155.7 204L154.9 206.3L154.1 203.5L153.3 206.1L152.5 206.4L151.7 206.4L150.9 207.4L150.1 205.6L149.3 203.6L148.5 205L147.7 204.6L146.9 203.3L146.1 203.3L145.3 206.3L144.5 206.5L143.7 208.3L142.9 206.4L142.1 205.3L141.3 204.6L140.5 203.7L139.7 202.9L138.9 203.9L138.1 205.4L137.3 205.8L136.5 206L135.7 204.6L134.9 203.7L134.1 204.2L133.3 205.5L132.5 206.3L131.7 208.2L130.9 206.7L130.1 204.9L129.3 203.9L128.5 204L127.7 204L126.9 204.8L126.1 209.9L125.3 205.9L124.5 204.8L123.7 205.6L122.9 203.6L122.1 203.4L121.3 203.7L120.5 205.4L119.7 208.2L118.9 208.9L118.1 207.1L117.3 205.3L116.5 205.1L115.7 203.6L114.9 203.9L114.1 203.6L113.3 203.5L112.5 203L111.7 205L110.9 207L110.1 208.1L109.3 208.1L108.5 206.3L107.7 204.6L106.9 204L106.1 203.2L105.3 203L104.5 203.8L103.7 205.1L102.9 205.3L102.1 207.3L101.3 204.5L100.5 196Z" fill="#141414"/><path d="M248.4 105h5.4V282h-5.4z" fill="#2a2a2a"/><path d="M198 165h3v54h-3zM212 172h3v44h-3zM231 166h3v60h-3zM238 170h3v56h-3zM150 175h2.6v36h-2.6zM118 178h2.6v36h-2.6z" fill="#141414"/><path d="M393.5 190L394.3 177.6L395.1 176.8L395.9 174.7L396.7 171.1L397.5 174.4L398.3 175.9L399.1 178.7L399.9 178.6L400.7 179L401.5 179.8L402.3 178.1L403.1 179.4L403.9 178.6L404.7 177.5L405.5 175.6L406.3 178.1L407.1 178.2L407.9 179.2L408.7 179.2L409.5 179.9L410.3 180.1L411.1 176.3L411.9 172.4L412.7 171.5L413.5 173.2L414.3 174.9L415.1 175.9L415.9 177.5L416.7 176.6L417.5 174.8L418.3 175.3L419.1 177L419.9 178.3L420.7 179.9L421.5 179.9L422.3 177L423.1 176.1L423.9 174.7L424.7 175L425.5 176.1L426.3 175.7L427.1 179.2L427.9 178.2L428.7 175.7L429.5 176.2L430.3 172.3L431.1 172L431.9 169.9L432.7 174.7L433.5 175.7L434.3 177.5L435.1 178.6L435.9 179.4L436.7 177.6L437.5 175.2L438.3 173.1L439.1 173.6L439.9 176.8L440.7 176.2L441.5 177.6L442.3 178L443.1 178.6L443.9 178.9L444.7 179.3L445.5 174.8L446.3 171.1L447.1 167.8L447.9 172.1L448.7 177.3L449.5 177.3L450.3 178.8L451.1 175.4L451.9 173.5L452.7 174.6L453.5 176.5L454.3 175.8L455.1 177.3L455.9 177.2L456.7 177.4L457.5 177.7L458.3 175.4L459.1 173.7L459.9 173.7L460.7 174.6L461.5 175.7L462.3 175.6L463.1 176.4L463.9 177.7L464.7 178.1L465.5 174.2L466.3 172.7L467.1 169.7L467.9 167.6L468.7 170.9L469.5 176.9L470.3 176.6L471.1 174.1L471.9 174.6L472.7 174.2L473.5 173.7L474.3 175.3L475.1 176.6L475.9 177L476.7 176.9L477.5 175.4L478.3 175L479.1 174.8L479.9 178.7L480.7 176.8L481.5 179L482.3 176.7L483.1 172.1L483.9 169.4L484.7 166.7L485.5 169.9L486.3 172.3L487.1 175.8L487.9 176.9L488.7 175.7L489.5 177.7L490.3 173.4L491.1 171.5L491.9 173L492.7 173.8L493.5 176L494.3 179.5L495.1 179L495.9 176.8L496.7 177L497.5 175.3L498.3 175.7L499.1 171.5L499.9 171.2L500.7 171.9L501.5 172.3L502.3 175.3L503.1 176.6L503.9 178.9L504.7 176.1L505.5 176.6L506.3 176.2L507.1 174.4L507.9 170.5L508.7 170.3L509.5 169.7L510.3 170.5L511.1 172.7L511.9 175.9L512.7 176.3L513.5 174.9L514.3 173.5L515.1 172L515.9 170.9L516.7 174.1L517.5 174.5L518.3 174.5L519.1 169.2L519.9 167.5L520.7 165.6L521.5 169.9L522.3 173.2L523.1 176.6L523.9 176L524.7 172.7L525.5 169.3L526.3 167.8L527.1 169.1L527.9 172.4L528.7 176.1L529.5 172.6L530.3 171.8L531.1 171.3L531.9 167.1L532.7 168.9L533.5 172L534.3 173.9L535.1 176.1L535.9 174.3L536.7 173.3L537.5 172.5L538.3 174.5L539.1 175.7L539.9 176.1L540.7 176L541.5 176.6L542.3 176.5L543.1 177.5L543.9 174.9L544.7 175.8L545.5 168.6L546.3 169.5L547.1 165.7L547.9 171L548.7 172.6L549.5 175.8L550.3 176.5L551.1 176.1L551.9 174L552.7 175.6L553.5 174.1L554.3 178.1L555.1 175.8L555.9 177.7L556.7 179.3L557.5 176.1L558.3 176.9L559.1 178.4L559.9 175.9L560.7 172.5L561.5 190L561.5 196L560.7 209L559.9 208.2L559.1 208.2L558.3 211L557.5 213.3L556.7 210.6L555.9 211.9L555.1 213L554.3 209.1L553.5 210.8L552.7 208.5L551.9 209.7L551.1 209.8L550.3 212L549.5 214.3L548.7 216.8L547.9 214.8L547.1 216.4L546.3 212.4L545.5 213.8L544.7 209.1L543.9 211.1L543.1 208.9L542.3 212L541.5 213.9L540.7 214.6L539.9 212.2L539.1 209.9L538.3 210L537.5 211.2L536.7 210.7L535.9 210.4L535.1 209.8L534.3 212.4L533.5 213.5L532.7 215.8L531.9 215.2L531.1 211.9L530.3 212L529.5 212.3L528.7 209.9L527.9 211.6L527.1 212.5L526.3 212L525.5 212.5L524.7 213.4L523.9 214.2L523.1 215.9L522.3 217.5L521.5 216.6L520.7 216.4L519.9 214.8L519.1 216.6L518.3 214.7L517.5 214.8L516.7 212.5L515.9 213.1L515.1 210.6L514.3 210.2L513.5 209.9L512.7 210.2L511.9 211.5L511.1 213.5L510.3 213.3L509.5 212.1L508.7 212L507.9 214.8L507.1 214.1L506.3 214.8L505.5 213.4L504.7 212.5L503.9 208L503.1 209.4L502.3 209.6L501.5 210.9L500.7 210L499.9 212.5L499.1 215.9L498.3 214.3L497.5 214L496.7 210L495.9 209.2L495.1 207L494.3 206.5L493.5 211.5L492.7 214.2L491.9 215.3L491.1 215.3L490.3 213L489.5 208.1L488.7 210.3L487.9 209.1L487.1 208.8L486.3 210.4L485.5 211L484.7 213L483.9 214.2L483.1 215.3L482.3 212.3L481.5 209.6L480.7 210.2L479.9 207L479.1 210.1L478.3 209.3L477.5 209.1L476.7 208.4L475.9 209L475.1 209.7L474.3 211.5L473.5 213.6L472.7 213.2L471.9 212L471.1 212.1L470.3 209.2L469.5 207.5L468.7 211.5L467.9 213L467.1 212.5L466.3 212.5L465.5 213.6L464.7 209.8L463.9 209.4L463.1 211.1L462.3 212.8L461.5 213.4L460.7 214.1L459.9 213.2L459.1 212.3L458.3 209.7L457.5 207.9L456.7 209.8L455.9 212.1L455.1 213.7L454.3 212.8L453.5 209.1L452.7 209.4L451.9 211.1L451.1 210.2L450.3 207.2L449.5 208.7L448.7 207.6L447.9 210.7L447.1 213.3L446.3 211.9L445.5 210.3L444.7 207.1L443.9 207.3L443.1 207.4L442.3 208L441.5 208.4L440.7 209.3L439.9 207.7L439.1 210.3L438.3 211L437.5 210.9L436.7 209L435.9 207.4L435.1 207.5L434.3 208.5L433.5 208.9L432.7 208.4L431.9 211L431.1 209.2L430.3 211.7L429.5 211L428.7 212.9L427.9 208.9L427.1 206.8L426.3 210.1L425.5 208.7L424.7 210.5L423.9 212.1L423.1 213.4L422.3 211.6L421.5 207.5L420.7 206.1L419.9 207.7L419.1 208.9L418.3 211.9L417.5 213.5L416.7 212.5L415.9 210.4L415.1 209.7L414.3 208.3L413.5 209.1L412.7 211.5L411.9 213.8L411.1 212.9L410.3 208.7L409.5 208.5L408.7 207.5L407.9 206.8L407.1 207.2L406.3 206.7L405.5 209.4L404.7 210.2L403.9 211.7L403.1 210.1L402.3 209.5L401.5 206.2L400.7 208.1L399.9 210.5L399.1 211.8L398.3 211.9L397.5 209.9L396.7 209.5L395.9 208.3L395.1 209L394.3 211.1L393.5 196Z" fill="#ee1c25"/><path d="M510.5 195h3.2v44h-3.2zM513.5 156h3v40h-3z" fill="#ee1c25"/><path d="M561 190L561.8 187.7L562.6 186.1L563.4 185.4L564.2 184.9L565 181.9L565.8 180.6L566.6 181.3L567.4 178.4L568.2 175.8L569 168.1L569.8 170.1L570.6 169.5L571.4 167.1L572.2 166.7L573 158.2L573.8 149.6L574.6 141.5L575.4 137.3L576.2 141.1L577 150.6L577.8 148L578.6 140.5L579.4 126L580.2 114.1L581 120.6L581.8 115.5L582.6 121.7L583.4 139.5L584.2 150.4L585 161.1L585.8 155.2L586.6 154.3L587.4 151.8L588.2 148.1L589 146.7L589.8 152.8L590.6 162.4L591.4 168L592.2 165.9L593 168.8L593.8 163.8L594.6 155.2L595.4 147.7L596.2 138.2L597 150.5L597.8 149.7L598.6 155.8L599.4 153.9L600.2 156.9L601 154.2L601.8 156.2L602.6 148.5L603.4 155.6L604.2 158.4L605 166L605.8 171.8L606.6 173.8L607.4 169.2L608.2 165.7L609 168.3L609.8 171.2L610.6 174L611.4 173.8L612.2 175.3L613 175.6L613.8 175.8L614.6 174.3L615.4 167.6L616.2 164.5L617 161.9L617.8 162.1L618.6 165.9L619.4 170.5L620.2 168.6L621 160.1L621.8 157.1L622.6 152.6L623.4 154.9L624.2 144.1L625 144.3L625.8 159.8L626.6 163.3L627.4 170.3L628.2 170.1L629 171.7L629.8 169.5L630.6 168.5L631.4 168.5L632.2 171.4L633 177.7L633.8 178.5L634.6 179.7L635.4 180.9L636.2 182.6L637 183.4L637.8 186.8L638.6 190L638.6 195.9L637.8 197L637 198.5L636.2 198.7L635.4 199.7L634.6 200.8L633.8 201.9L633 202.6L632.2 207.1L631.4 209.5L630.6 211.6L629.8 212.9L629 212.8L628.2 214.7L627.4 214.6L626.6 222.2L625.8 221.8L625 232.2L624.2 235.9L623.4 234.4L622.6 244.3L621.8 238.8L621 237.6L620.2 227.7L619.4 224.3L618.6 228.4L617.8 227.2L617 222.1L616.2 217L615.4 216.8L614.6 214.6L613.8 216.1L613 216.1L612.2 215.3L611.4 216.2L610.6 215.6L609.8 217.7L609 219.8L608.2 223L607.4 219.5L606.6 213.5L605.8 212L605 212.2L604.2 213.9L603.4 214.5L602.6 220L601.8 217.8L601 222L600.2 225.5L599.4 228L598.6 228.6L597.8 235.8L597 232.3L596.2 242.4L595.4 237.3L594.6 237.7L593.8 238.1L593 237.1L592.2 237.2L591.4 228.5L590.6 229.4L589.8 233.9L589 233.5L588.2 228.3L587.4 225.5L586.6 224.3L585.8 223.9L585 223.1L584.2 229.2L583.4 232.5L582.6 238.3L581.8 240.4L581 237.9L580.2 247.8L579.4 246.1L578.6 241.1L577.8 236L577 233.8L576.2 238.7L575.4 237.4L574.6 234.9L573.8 229.9L573 225.4L572.2 217.8L571.4 215.1L570.6 211.9L569.8 210.4L569 211.8L568.2 206.8L567.4 206.1L566.6 205L565.8 206.3L565 204.1L564.2 200.6L563.4 199.4L562.6 198.5L561.8 196.9L561 195.6Z" fill="#5cc3dc"/><path d="M578.4 98h3.2V264h-3.2zM597.6 130h3V257h-3zM622.4 132h3V257h-3z" fill="#5cc3dc"/><path d="M638.5 190L639.3 178L640.1 175.8L640.9 175.5L641.7 173.7L642.5 176L643.3 173.6L644.1 174.4L644.9 175.5L645.7 175.2L646.5 173.7L647.3 174.3L648.1 172.2L648.9 174L649.7 170.6L650.5 174.8L651.3 175.7L652.1 174.1L652.9 175L653.7 175.5L654.5 173.5L655.3 173.3L656.1 170.2L656.9 170.8L657.7 170.1L658.5 173.6L659.3 173L660.1 169.6L660.9 171.2L661.7 171.6L662.5 170.1L663.3 171.2L664.1 171.3L664.9 175.7L665.7 172.4L666.5 172.9L667.3 172.2L668.1 169.2L668.9 174L669.7 170.3L670.5 173.2L671.3 172.3L672.1 174.5L672.9 172.9L673.7 172.6L674.5 169.9L675.3 171.7L676.1 166.2L676.9 170.3L677.7 170L678.5 173.2L679.3 173.7L680.1 173.7L680.9 172.7L681.7 172.3L682.5 172.9L683.3 171.2L684.1 169.5L684.9 173.2L685.7 172.7L686.5 175.1L687.3 173.4L688.1 174L688.9 174L689.7 174.2L690.5 172L691.3 173.7L692.1 173L692.9 177L693.7 176.3L694.5 190L694.5 196L693.7 209.7L692.9 209.1L692.1 213.2L691.3 212.4L690.5 213.6L689.7 211.4L688.9 211.9L688.1 212L687.3 212.6L686.5 211.3L685.7 214.1L684.9 213.4L684.1 215.4L683.3 213.1L682.5 212L681.7 213.3L680.9 213.3L680.1 212.5L679.3 213.1L678.5 214.1L677.7 217L676.9 215.4L676.1 217.9L675.3 212.7L674.5 214.9L673.7 213L672.9 213.4L672.1 212.4L671.3 215.4L670.5 214.2L669.7 216L668.9 211L668.1 215.2L667.3 213L666.5 213.6L665.7 214.8L664.9 211.5L664.1 214.7L663.3 213.6L662.5 214L661.7 213.7L660.9 215.5L660.1 218.8L659.3 214.8L658.5 213L657.7 215.3L656.9 213.8L656.1 214.8L655.3 212.5L654.5 213.6L653.7 212.2L652.9 212.6L652.1 212.8L651.3 210.1L650.5 210.4L649.7 213.9L648.9 211L648.1 213.6L647.3 212.5L646.5 213.7L645.7 211.7L644.9 210.9L644.1 211.4L643.3 211.5L642.5 209L641.7 212.3L640.9 211.8L640.1 211.5L639.3 208.5L638.5 196Z" fill="#f6e72a"/><path d="M694 190L694.8 182.1L695.6 181.6L696.4 181.8L697.2 181.6L698 181.8L698.8 182.4L699.6 181.5L700.4 181.9L701.2 181.3L702 181.4L702.8 178.4L703.6 179.2L704.4 179.7L705.2 180.2L706 180.1L706.8 181.6L707.6 181.8L708.4 181.4L709.2 182.2L710 181.7L710.8 181.2L711.6 179.9L712.4 178.6L713.2 173L714 176.2L714.8 180.2L715.6 181.9L716.4 179.2L717.2 180.7L718 179.2L718.8 177.5L719.6 179.1L720.4 180.3L721.2 180.9L722 181L722.8 181.3L723.6 181.2L724.4 181.3L725.2 181L726 178.2L726.8 177.1L727.6 173.9L728.4 178.5L729.2 179.7L730 179.7L730.8 181.4L731.6 182.4L732.4 178.4L733.2 175.8L734 176.3L734.8 178L735.6 180.8L736.4 182L737.2 179.3L738 178.4L738.8 176.2L739.6 176.9L740.4 178.5L741.2 179.6L742 180L742.8 182L743.6 181.2L744.4 180.3L745.2 180.9L746 180.6L746.8 180.3L747.6 180.5L748.4 180.9L749.2 180.3L750 181.6L750.8 180.3L751.6 180.6L752.4 180.3L753.2 177.7L754 176.7L754.8 172.3L755.6 175.6L756.4 176.6L757.2 179.3L758 181.4L758.8 182L759.6 180.8L760.4 178.7L761.2 173.9L762 173.2L762.8 175.6L763.6 179.5L764.4 181.6L765.2 181.5L766 182L766.8 181.6L767.6 182.5L768.4 182.1L769.2 181.2L770 182.1L770.8 181.9L771.6 178.5L772.4 178.5L773.2 181.3L774 181.8L774.8 181.8L775.6 181L776.4 182.5L777.2 181.7L778 181.7L778.8 178.7L779.6 177.4L780.4 175.5L781.2 175.1L782 177.6L782.8 180.6L783.6 182.4L784.4 180.2L785.2 178.1L786 177.2L786.8 176.9L787.6 179.3L788.4 180.8L789.2 180.2L790 182L790.8 181.4L791.6 180.9L792.4 182.2L793.2 180L794 176.8L794.8 176.2L795.6 178.6L796.4 181.4L797.2 181L798 181.8L798.8 182.1L799.6 181.4L800.4 181L801.2 182.1L802 179.7L802.8 177L803.6 174.4L804.4 173.4L805.2 175.5L806 178.5L806.8 180.9L807.6 181.5L808.4 181.1L809.2 181L810 180.1L810.8 179.8L811.6 176.7L812.4 177.4L813.2 179.6L814 179.9L814.8 181.8L815.6 181.1L816.4 181.8L817.2 182.5L818 180.1L818.8 178.4L819.6 175.8L820.4 172.3L821.2 173.4L822 176.8L822.8 178.9L823.6 180.5L824.4 180.5L825.2 179.4L826 176.3L826.8 175.9L827.6 176.1L828.4 180.6L829.2 180.4L830 180.2L830.8 179.7L831.6 176.2L832.4 175.6L833.2 177.2L834 179.1L834.8 180.7L835.6 181L836.4 178.3L837.2 178.4L838 181L838.8 181.8L839.6 182L840.4 181.8L841.2 182.1L842 182.3L842.8 181.5L843.6 178.4L844.4 175.8L845.2 177.3L846 178.4L846.8 182L847.6 183L848.4 181.6L849.2 182L850 180.9L850.8 179.2L851.6 176.8L852.4 176.8L853.2 179.2L854 180.6L854.8 177.8L855.6 175.6L856.4 173.5L857.2 176.4L858 178.9L858.8 181.7L859.6 181.6L860.4 182.1L861.2 180.4L862 179.7L862.8 180L863.6 177.6L864.4 172.9L865.2 177.9L866 179.5L866.8 181.5L867.6 180.6L868.4 180.4L869.2 181L870 180.4L870.8 181.4L871.6 181.2L872.4 180.2L873.2 176.7L874 174.8L874.8 173.1L875.6 177.6L876.4 178.6L877.2 178.6L878 176.5L878.8 170.7L879.6 168.8L880.4 172.7L881.2 174.4L882 178.6L882.8 177.4L883.6 179.6L884.4 177.6L885.2 176.6L886 176L886.8 167.1L887.6 169L888.4 170.7L889.2 190L889.2 196L888.4 213.9L887.6 211.3L886.8 213.2L886 208.1L885.2 212L884.4 213.9L883.6 213.5L882.8 213.8L882 209.3L881.2 209.1L880.4 208.7L879.6 210.1L878.8 210.1L878 207.8L877.2 209.3L876.4 210L875.6 210.3L874.8 212.2L874 209.5L873.2 208.1L872.4 205.4L871.6 204.8L870.8 204.6L870 207.3L869.2 208.7L868.4 210.8L867.6 208.3L866.8 205.3L866 204.7L865.2 204.6L864.4 209.3L863.6 208.6L862.8 209.1L862 208.9L861.2 206.3L860.4 203.9L859.6 204.4L858.8 204.3L858 205.1L857.2 205.7L856.4 206.8L855.6 207L854.8 208.8L854 208.9L853.2 209.1L852.4 208.7L851.6 206.6L850.8 205.1L850 206.1L849.2 207.8L848.4 207.8L847.6 204.3L846.8 203.7L846 205.6L845.2 205.4L844.4 207L843.6 207L842.8 206.3L842 206.2L841.2 205.5L840.4 204.9L839.6 204L838.8 203.8L838 204L837.2 205.9L836.4 206.1L835.6 204.8L834.8 207L834 209.6L833.2 210.1L832.4 209.1L831.6 207.8L830.8 205.7L830 207.8L829.2 209.2L828.4 207.4L827.6 209.1L826.8 206.5L826 206.6L825.2 205L824.4 205.2L823.6 205.5L822.8 205.8L822 206.3L821.2 209.4L820.4 211.6L819.6 211.6L818.8 208.8L818 206.7L817.2 203.5L816.4 204.2L815.6 204.9L814.8 204.4L814 207.3L813.2 207.8L812.4 208.5L811.6 207.5L810.8 204.7L810 205.2L809.2 205.7L808.4 206.2L807.6 206.4L806.8 206.8L806 206.8L805.2 207.1L804.4 208.2L803.6 209L802.8 209.4L802 207.5L801.2 204.9L800.4 205L799.6 204.6L798.8 203.9L798 204.2L797.2 205.5L796.4 205.8L795.6 207.1L794.8 207.1L794 206.3L793.2 204.6L792.4 204.8L791.6 207.9L790.8 207.5L790 205.3L789.2 205.8L788.4 204.6L787.6 206L786.8 208.5L786 208.7L785.2 210.2L784.4 207.8L783.6 205.4L782.8 204.4L782 205L781.2 205.8L780.4 206L779.6 207.3L778.8 209.9L778 209.1L777.2 207.2L776.4 204.5L775.6 205.5L774.8 206.1L774 207.7L773.2 209L772.4 209.8L771.6 207.3L770.8 203.6L770 204.8L769.2 207L768.4 206.4L767.6 205.2L766.8 205.4L766 204.3L765.2 204.5L764.4 204.4L763.6 204.9L762.8 206.6L762 207L761.2 209L760.4 208.9L759.6 210L758.8 206.5L758 204.6L757.2 205.3L756.4 206.4L755.6 206.1L754.8 208.3L754 206L753.2 206.5L752.4 206.2L751.6 207.3L750.8 208.4L750 206L749.2 206.4L748.4 204.6L747.6 204.5L746.8 204.9L746 206.1L745.2 208.3L744.4 211.2L743.6 209.2L742.8 206.2L742 206.3L741.2 205.3L740.4 206.7L739.6 209.7L738.8 211.2L738 207.6L737.2 205.5L736.4 203.7L735.6 204.5L734.8 206.8L734 208.6L733.2 211.7L732.4 212.2L731.6 207.3L730.8 207.1L730 206.6L729.2 204.3L728.4 204.5L727.6 208.6L726.8 208.1L726 209.5L725.2 207.2L724.4 206.2L723.6 205.3L722.8 204.8L722 205.8L721.2 206.6L720.4 206.1L719.6 205.1L718.8 204.8L718 204.6L717.2 204.8L716.4 206.8L715.6 203.9L714.8 204.5L714 208.1L713.2 211.8L712.4 208.9L711.6 207.9L710.8 206.3L710 204.3L709.2 204L708.4 205.2L707.6 205.3L706.8 205.6L706 206.2L705.2 204.8L704.4 204.3L703.6 204.4L702.8 205.7L702 203.7L701.2 205.7L700.4 206.3L699.6 206.7L698.8 204.5L698 204.2L697.2 204.4L696.4 204.2L695.6 204.4L694.8 203.9L694 196Z" fill="#141414"/><path d="M745.6 163h3.2v58h-3.2zM779.4 157h3.2v82h-3.2zM757 170h2.6v42h-2.6zM800 172h2.6v40h-2.6z" fill="#141414"/>
</g>
<g filter="url(#soft)">
<path d="M99.4 62.2H889.4" fill="none" stroke="#1c1c1c" stroke-width="4.9"/><path d="M102 62.5V321.3" fill="none" stroke="#1c1c1c" stroke-width="5.2"/><path d="M887.6 62.5V320.3" fill="none" stroke="#1c1c1c" stroke-width="3.6"/><path d="M101.6 321.3V587.3" fill="none" stroke="#46462c" stroke-width="4.4"/><path d="M102 481h6.5M102 376.2h6.5" stroke="#1e241e" stroke-width="3.4" fill="none"/><path d="M214.7 62.5v8M214.7 319.8v-7.5M327.1 62.5v8M327.1 319.8v-7.5M439.5 62.5v8M439.5 319.8v-7.5M551.9 62.5v8M551.9 319.8v-7.5M664.3 62.5v8M664.3 319.8v-7.5M776.7 62.5v8M776.7 319.8v-7.5" stroke="#1c1c1c" stroke-width="4.4" fill="none"/><path d="M102 312.5h8.5M887.6 312.5h-8.5M102 193h8.5M887.6 193h-8.5M102 73.5h8.5M887.6 73.5h-8.5" stroke="#1c1c1c" stroke-width="4" fill="none"/>
</g>
<g filter="url(#soft)">
<text transform="translate(495.6 43.2) scale(1.0 1)" font-size="41.5" font-weight="bold" text-anchor="middle" fill="#111" stroke="#111" stroke-width="0.7">Kalmarsund</text><text transform="translate(86.5 85.7) scale(0.98 1)" font-size="34" text-anchor="end" fill="#1c1c1c" stroke="#1c1c1c" stroke-width="0.9">1</text><text transform="translate(86.5 205.2) scale(0.98 1)" font-size="34" text-anchor="end" fill="#1c1c1c" stroke="#1c1c1c" stroke-width="0.9">0</text><text transform="translate(86.5 324.7) scale(0.98 1)" font-size="34" text-anchor="end" fill="#1c1c1c" stroke="#1c1c1c" stroke-width="0.9">-1</text><text transform="translate(86.5 598.1) scale(0.98 1)" font-size="34" text-anchor="end" fill="#1c1c1c" stroke="#1c1c1c" stroke-width="0.9">0</text><text transform="translate(86.5 493.3) scale(0.98 1)" font-size="34" text-anchor="end" fill="#1c1c1c" stroke="#1c1c1c" stroke-width="0.9">1</text><text transform="translate(86.5 388.5) scale(0.98 1)" font-size="34" text-anchor="end" fill="#1c1c1c" stroke="#1c1c1c" stroke-width="0.9">2</text><text transform="translate(96.6 631.3) scale(0.98 1)" font-size="34" text-anchor="middle" fill="#1c1c1c" stroke="#1c1c1c" stroke-width="0.9">0</text><text transform="translate(209 631.3) scale(0.98 1)" font-size="34" text-anchor="middle" fill="#1c1c1c" stroke="#1c1c1c" stroke-width="0.9">2</text><text transform="translate(321.4 631.3) scale(0.98 1)" font-size="34" text-anchor="middle" fill="#1c1c1c" stroke="#1c1c1c" stroke-width="0.9">4</text><text transform="translate(433.8 631.3) scale(0.98 1)" font-size="34" text-anchor="middle" fill="#1c1c1c" stroke="#1c1c1c" stroke-width="0.9">6</text><text transform="translate(546.2 631.3) scale(0.98 1)" font-size="34" text-anchor="middle" fill="#1c1c1c" stroke="#1c1c1c" stroke-width="0.9">8</text><text transform="translate(665.8 631.3) scale(0.93 1)" font-size="34" text-anchor="middle" fill="#1c1c1c" stroke="#1c1c1c" stroke-width="0.9" letter-spacing="-2.6">10</text><text transform="translate(778.2 631.3) scale(0.93 1)" font-size="34" text-anchor="middle" fill="#1c1c1c" stroke="#1c1c1c" stroke-width="0.9" letter-spacing="-2.6">12</text><text transform="translate(890.6 631.3) scale(0.93 1)" font-size="34" text-anchor="middle" fill="#1c1c1c" stroke="#1c1c1c" stroke-width="0.9" letter-spacing="-2.6">14</text><text transform="translate(36.7 150.1) rotate(-90) scale(1 1.066)" font-size="44.1" text-anchor="middle" fill="#13163c" stroke="#13163c" stroke-width="0.15">Rel. ampl.</text><text transform="translate(40.5 472.5) rotate(-90) scale(1 1.07)" font-size="43.2" text-anchor="middle" fill="#13163c" stroke="#13163c" stroke-width="0.15">Frequentie (kHz)</text>
</g>
</g>
<g transform="translate(0 1304.6)" filter="url(#soft)"><text x="482" y="676.7" font-size="45.8" text-anchor="middle" fill="#13163c" stroke="#181d4a" stroke-width="0.15">tijd (s)</text></g>
</svg></body></html>
